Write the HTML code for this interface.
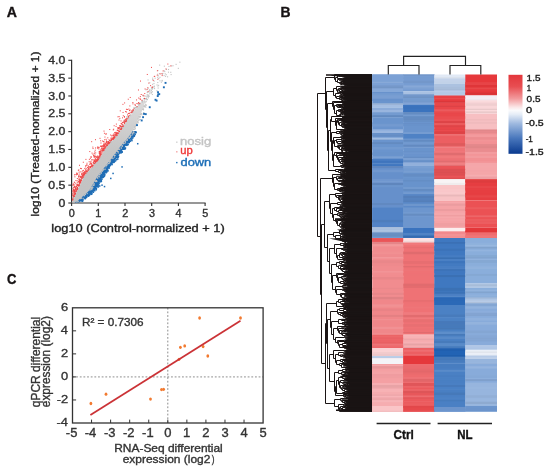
<!DOCTYPE html>
<html><head><meta charset="utf-8"><style>
html,body{margin:0;padding:0;background:#fff;}
body{width:550px;height:473px;overflow:hidden;}
svg{display:block;filter:blur(0.3px);}
text{font-family:"Liberation Sans",sans-serif;stroke-width:0.35px;paint-order:stroke;}
</style></head><body>
<svg width="550" height="473" viewBox="0 0 550 473">
<rect width="550" height="473" fill="#fff"/>
<text x="6.66" y="16.50" font-size="14" fill="#151112" stroke="#151112" font-weight="bold" textLength="10.21" lengthAdjust="spacingAndGlyphs" >A</text>
<text x="280.58" y="16.60" font-size="14" fill="#151112" stroke="#151112" font-weight="bold" textLength="10.05" lengthAdjust="spacingAndGlyphs" >B</text>
<text x="7.07" y="283.50" font-size="14" fill="#151112" stroke="#151112" font-weight="bold" textLength="9.39" lengthAdjust="spacingAndGlyphs" >C</text>
<path d="M71.6 59.8V203.0" stroke="#303030" stroke-width="1.2" fill="none"/>
<path d="M68.3 203.00H71.6" stroke="#303030" stroke-width="1.1"/>
<text x="58.53" y="206.60" font-size="10.6" fill="#303030" stroke="#303030" textLength="6.84" lengthAdjust="spacingAndGlyphs" >0</text>
<path d="M68.3 185.16H71.6" stroke="#303030" stroke-width="1.1"/>
<text x="48.31" y="188.76" font-size="10.6" fill="#303030" stroke="#303030" textLength="17.09" lengthAdjust="spacingAndGlyphs" >0.5</text>
<path d="M68.3 167.32H71.6" stroke="#303030" stroke-width="1.1"/>
<text x="48.28" y="170.92" font-size="10.6" fill="#303030" stroke="#303030" textLength="17.09" lengthAdjust="spacingAndGlyphs" >1.0</text>
<path d="M68.3 149.49H71.6" stroke="#303030" stroke-width="1.1"/>
<text x="48.31" y="153.09" font-size="10.6" fill="#303030" stroke="#303030" textLength="17.09" lengthAdjust="spacingAndGlyphs" >1.5</text>
<path d="M68.3 131.65H71.6" stroke="#303030" stroke-width="1.1"/>
<text x="48.28" y="135.25" font-size="10.6" fill="#303030" stroke="#303030" textLength="17.09" lengthAdjust="spacingAndGlyphs" >2.0</text>
<path d="M68.3 113.81H71.6" stroke="#303030" stroke-width="1.1"/>
<text x="48.31" y="117.41" font-size="10.6" fill="#303030" stroke="#303030" textLength="17.09" lengthAdjust="spacingAndGlyphs" >2.5</text>
<path d="M68.3 95.98H71.6" stroke="#303030" stroke-width="1.1"/>
<text x="48.28" y="99.58" font-size="10.6" fill="#303030" stroke="#303030" textLength="17.09" lengthAdjust="spacingAndGlyphs" >3.0</text>
<path d="M68.3 78.14H71.6" stroke="#303030" stroke-width="1.1"/>
<text x="48.31" y="81.74" font-size="10.6" fill="#303030" stroke="#303030" textLength="17.09" lengthAdjust="spacingAndGlyphs" >3.5</text>
<path d="M68.3 60.30H71.6" stroke="#303030" stroke-width="1.1"/>
<text x="48.28" y="63.90" font-size="10.6" fill="#303030" stroke="#303030" textLength="17.09" lengthAdjust="spacingAndGlyphs" >4.0</text>
<path d="M71.0 203.0H205.6" stroke="#303030" stroke-width="1.2" fill="none"/>
<path d="M71.60 203.0V206.0" stroke="#303030" stroke-width="1.1"/>
<text x="68.79" y="216.90" font-size="10.3" fill="#303030" stroke="#303030" textLength="6.01" lengthAdjust="spacingAndGlyphs" >0</text>
<path d="M98.30 203.0V206.0" stroke="#303030" stroke-width="1.1"/>
<text x="95.34" y="216.90" font-size="10.3" fill="#303030" stroke="#303030" textLength="6.01" lengthAdjust="spacingAndGlyphs" >1</text>
<path d="M125.00 203.0V206.0" stroke="#303030" stroke-width="1.1"/>
<text x="122.19" y="216.90" font-size="10.3" fill="#303030" stroke="#303030" textLength="6.01" lengthAdjust="spacingAndGlyphs" >2</text>
<path d="M151.70 203.0V206.0" stroke="#303030" stroke-width="1.1"/>
<text x="148.92" y="216.90" font-size="10.3" fill="#303030" stroke="#303030" textLength="6.01" lengthAdjust="spacingAndGlyphs" >3</text>
<path d="M178.40 203.0V206.0" stroke="#303030" stroke-width="1.1"/>
<text x="175.63" y="216.90" font-size="10.3" fill="#303030" stroke="#303030" textLength="6.01" lengthAdjust="spacingAndGlyphs" >4</text>
<path d="M205.10 203.0V206.0" stroke="#303030" stroke-width="1.1"/>
<text x="202.30" y="216.90" font-size="10.3" fill="#303030" stroke="#303030" textLength="6.01" lengthAdjust="spacingAndGlyphs" >5</text>
<text x="51.34" y="232.40" font-size="11" fill="#222" stroke="#222" textLength="173.36" lengthAdjust="spacingAndGlyphs" >log10 (Control-normalized + 1)</text>
<text transform="translate(39.30,215.60) rotate(-90)" x="-0.81" y="0" font-size="10.6" fill="#222" stroke="#222" textLength="164.95" lengthAdjust="spacingAndGlyphs" >log10 (Treated-normalized + 1)</text>
<defs><linearGradient id="gg" gradientUnits="userSpaceOnUse" x1="0" y1="203" x2="0" y2="93"><stop offset="0" stop-color="#c2c2c2"/><stop offset="0.5" stop-color="#c6c6c6"/><stop offset="1" stop-color="#dedede"/></linearGradient></defs>
<polygon points="145.7,98.0 143.7,100.6 141.1,103.2 138.6,105.8 136.1,108.5 133.8,111.1 131.9,113.7 130.0,116.3 128.1,118.9 126.4,121.5 124.8,124.2 123.2,126.8 121.6,129.4 120.0,132.0 118.1,134.6 115.6,137.2 113.2,139.8 110.7,142.5 108.3,145.1 105.9,147.7 104.3,150.3 102.8,152.9 101.3,155.5 99.7,158.1 98.0,160.8 95.6,163.4 93.2,166.0 90.8,168.6 88.4,171.2 85.9,173.8 84.0,176.4 82.8,179.1 81.5,181.7 80.3,184.3 79.1,186.9 77.9,189.5 76.7,192.1 75.6,194.8 74.5,197.4 73.3,200.0 71.4,202.6 74.7,202.6 78.9,200.0 81.8,197.4 84.8,194.8 87.7,192.1 90.0,189.5 91.6,186.9 93.2,184.3 94.7,181.7 96.3,179.1 97.9,176.4 99.7,173.8 101.8,171.2 103.9,168.6 105.9,166.0 108.0,163.4 110.1,160.8 112.0,158.1 114.0,155.5 115.9,152.9 117.9,150.3 119.9,147.7 122.0,145.1 124.2,142.5 126.4,139.8 128.5,137.2 130.7,134.6 132.3,132.0 133.4,129.4 134.6,126.8 135.7,124.2 136.9,121.5 138.0,118.9 139.4,116.3 140.7,113.7 142.0,111.1 143.0,108.5 143.8,105.8 144.5,103.2 145.2,100.6 146.5,98.0" fill="url(#gg)"/>
<polygon points="132.4,131.0 131.6,132.8 130.4,134.6 128.9,136.4 127.5,138.2 126.0,139.9 124.5,141.7 123.0,143.5 121.5,145.3 120.0,147.1 118.7,148.9 117.3,150.7 116.0,152.5 114.6,154.3 113.3,156.1 112.0,157.8 110.6,159.6 109.2,161.4 107.8,163.2 106.4,165.0 105.0,166.8 103.6,168.6 102.2,170.4 100.7,172.2 99.3,174.0 98.0,175.8 96.9,177.5 95.8,179.3 94.8,181.1 93.7,182.9 92.6,184.7 91.5,186.5 90.5,188.3 89.4,190.1 87.7,191.9 85.7,193.7 83.7,195.4 81.7,197.2 79.7,199.0 77.7,200.8 74.4,202.6 78.8,202.6 82.2,200.8 84.5,199.0 86.7,197.2 88.9,195.4 91.1,193.7 93.3,191.9 95.2,190.1 96.2,188.3 97.2,186.5 98.3,184.7 99.3,182.9 100.3,181.1 101.4,179.3 102.4,177.5 103.4,175.8 104.7,174.0 106.1,172.2 107.5,170.4 108.8,168.6 110.2,166.8 111.6,165.0 112.9,163.2 114.3,161.4 115.7,159.6 117.0,157.8 118.2,156.1 119.5,154.3 120.8,152.5 122.1,150.7 123.4,148.9 124.8,147.1 126.2,145.3 127.6,143.5 129.1,141.7 130.5,139.9 132.0,138.2 133.4,136.4 134.9,134.6 136.0,132.8 136.7,131.0" fill="#1f6db5"/>
<rect x="136.90" y="124.78" width="1.10" height="1.10" fill="#c3c3c3"/><rect x="153.97" y="88.04" width="1.10" height="1.10" fill="#c3c3c3"/><rect x="120.71" y="128.06" width="1.10" height="1.10" fill="#c3c3c3"/><rect x="165.68" y="74.14" width="1.10" height="1.10" fill="#c3c3c3"/><rect x="97.62" y="158.53" width="1.10" height="1.10" fill="#c3c3c3"/><rect x="122.83" y="124.87" width="1.10" height="1.10" fill="#c3c3c3"/><rect x="103.70" y="148.69" width="1.10" height="1.10" fill="#c3c3c3"/><rect x="147.55" y="95.32" width="1.10" height="1.10" fill="#c3c3c3"/><rect x="134.60" y="126.40" width="1.10" height="1.10" fill="#c3c3c3"/><rect x="146.63" y="94.16" width="1.10" height="1.10" fill="#c3c3c3"/><rect x="112.37" y="138.63" width="1.10" height="1.10" fill="#c3c3c3"/><rect x="109.32" y="160.54" width="1.10" height="1.10" fill="#c3c3c3"/><rect x="163.81" y="65.62" width="1.10" height="1.10" fill="#c3c3c3"/><rect x="175.57" y="63.81" width="1.10" height="1.10" fill="#c3c3c3"/><rect x="150.54" y="91.34" width="1.10" height="1.10" fill="#c3c3c3"/><rect x="109.30" y="160.70" width="1.10" height="1.10" fill="#c3c3c3"/><rect x="157.24" y="73.65" width="1.10" height="1.10" fill="#c3c3c3"/><rect x="72.83" y="196.42" width="1.10" height="1.10" fill="#c3c3c3"/><rect x="119.87" y="129.61" width="1.10" height="1.10" fill="#c3c3c3"/><rect x="93.77" y="163.92" width="1.10" height="1.10" fill="#c3c3c3"/><rect x="137.64" y="120.14" width="1.10" height="1.10" fill="#c3c3c3"/><rect x="151.89" y="91.25" width="1.10" height="1.10" fill="#c3c3c3"/><rect x="80.90" y="197.38" width="1.10" height="1.10" fill="#c3c3c3"/><rect x="152.13" y="87.67" width="1.10" height="1.10" fill="#c3c3c3"/><rect x="105.94" y="145.73" width="1.10" height="1.10" fill="#c3c3c3"/><rect x="124.32" y="123.27" width="1.10" height="1.10" fill="#c3c3c3"/><rect x="102.65" y="169.63" width="1.10" height="1.10" fill="#c3c3c3"/><rect x="102.38" y="150.57" width="1.10" height="1.10" fill="#c3c3c3"/><rect x="135.29" y="124.90" width="1.10" height="1.10" fill="#c3c3c3"/><rect x="81.97" y="177.98" width="1.10" height="1.10" fill="#c3c3c3"/><rect x="153.42" y="83.03" width="1.10" height="1.10" fill="#c3c3c3"/><rect x="83.33" y="175.94" width="1.10" height="1.10" fill="#c3c3c3"/><rect x="103.24" y="149.51" width="1.10" height="1.10" fill="#c3c3c3"/><rect x="112.67" y="157.63" width="1.10" height="1.10" fill="#c3c3c3"/><rect x="125.12" y="120.45" width="1.10" height="1.10" fill="#c3c3c3"/><rect x="157.19" y="76.72" width="1.10" height="1.10" fill="#c3c3c3"/><rect x="138.63" y="116.28" width="1.10" height="1.10" fill="#c3c3c3"/><rect x="97.00" y="176.77" width="1.10" height="1.10" fill="#c3c3c3"/><rect x="94.79" y="162.30" width="1.10" height="1.10" fill="#c3c3c3"/><rect x="152.06" y="79.15" width="1.10" height="1.10" fill="#c3c3c3"/><rect x="75.92" y="189.54" width="1.10" height="1.10" fill="#c3c3c3"/><rect x="147.41" y="96.32" width="1.10" height="1.10" fill="#c3c3c3"/><rect x="141.76" y="100.92" width="1.10" height="1.10" fill="#c3c3c3"/><rect x="135.14" y="124.50" width="1.10" height="1.10" fill="#c3c3c3"/><rect x="99.33" y="153.42" width="1.10" height="1.10" fill="#c3c3c3"/><rect x="134.72" y="127.92" width="1.10" height="1.10" fill="#c3c3c3"/><rect x="96.30" y="159.59" width="1.10" height="1.10" fill="#c3c3c3"/><rect x="133.03" y="128.96" width="1.10" height="1.10" fill="#c3c3c3"/><rect x="135.89" y="106.10" width="1.10" height="1.10" fill="#c3c3c3"/><rect x="92.68" y="164.63" width="1.10" height="1.10" fill="#c3c3c3"/><rect x="100.89" y="172.51" width="1.10" height="1.10" fill="#c3c3c3"/><rect x="91.77" y="187.57" width="1.10" height="1.10" fill="#c3c3c3"/><rect x="74.24" y="193.64" width="1.10" height="1.10" fill="#c3c3c3"/><rect x="119.14" y="148.94" width="1.10" height="1.10" fill="#c3c3c3"/><rect x="129.93" y="114.53" width="1.10" height="1.10" fill="#c3c3c3"/><rect x="116.76" y="150.97" width="1.10" height="1.10" fill="#c3c3c3"/><rect x="93.57" y="184.62" width="1.10" height="1.10" fill="#c3c3c3"/><rect x="124.17" y="142.78" width="1.10" height="1.10" fill="#c3c3c3"/><rect x="121.26" y="126.22" width="1.10" height="1.10" fill="#c3c3c3"/><rect x="138.22" y="104.88" width="1.10" height="1.10" fill="#c3c3c3"/><rect x="120.55" y="128.78" width="1.10" height="1.10" fill="#c3c3c3"/><rect x="101.43" y="170.64" width="1.10" height="1.10" fill="#c3c3c3"/><rect x="147.80" y="97.27" width="1.10" height="1.10" fill="#c3c3c3"/><rect x="150.86" y="89.81" width="1.10" height="1.10" fill="#c3c3c3"/><rect x="90.78" y="188.25" width="1.10" height="1.10" fill="#c3c3c3"/><rect x="137.63" y="118.12" width="1.10" height="1.10" fill="#c3c3c3"/><rect x="145.45" y="89.24" width="1.10" height="1.10" fill="#c3c3c3"/><rect x="92.95" y="184.69" width="1.10" height="1.10" fill="#c3c3c3"/><rect x="150.87" y="92.19" width="1.10" height="1.10" fill="#c3c3c3"/><rect x="132.83" y="110.55" width="1.10" height="1.10" fill="#c3c3c3"/><rect x="109.12" y="161.02" width="1.10" height="1.10" fill="#c3c3c3"/><rect x="121.41" y="127.44" width="1.10" height="1.10" fill="#c3c3c3"/><rect x="97.18" y="177.78" width="1.10" height="1.10" fill="#c3c3c3"/><rect x="144.14" y="105.60" width="1.10" height="1.10" fill="#c3c3c3"/><rect x="136.75" y="106.30" width="1.10" height="1.10" fill="#c3c3c3"/><rect x="113.99" y="156.41" width="1.10" height="1.10" fill="#c3c3c3"/><rect x="125.03" y="141.33" width="1.10" height="1.10" fill="#c3c3c3"/><rect x="117.53" y="151.19" width="1.10" height="1.10" fill="#c3c3c3"/><rect x="123.24" y="125.13" width="1.10" height="1.10" fill="#c3c3c3"/><rect x="86.98" y="170.55" width="1.10" height="1.10" fill="#c3c3c3"/><rect x="115.37" y="153.16" width="1.10" height="1.10" fill="#c3c3c3"/><rect x="73.99" y="195.63" width="1.10" height="1.10" fill="#c3c3c3"/><rect x="121.45" y="127.56" width="1.10" height="1.10" fill="#c3c3c3"/><rect x="132.88" y="109.85" width="1.10" height="1.10" fill="#c3c3c3"/><rect x="126.47" y="116.54" width="1.10" height="1.10" fill="#c3c3c3"/><rect x="93.80" y="162.58" width="1.10" height="1.10" fill="#c3c3c3"/><rect x="121.87" y="124.52" width="1.10" height="1.10" fill="#c3c3c3"/><rect x="141.48" y="114.20" width="1.10" height="1.10" fill="#c3c3c3"/><rect x="120.64" y="126.37" width="1.10" height="1.10" fill="#c3c3c3"/><rect x="84.06" y="173.21" width="1.10" height="1.10" fill="#c3c3c3"/><rect x="156.85" y="91.31" width="1.10" height="1.10" fill="#c3c3c3"/><rect x="130.01" y="136.62" width="1.10" height="1.10" fill="#c3c3c3"/><rect x="144.44" y="98.11" width="1.10" height="1.10" fill="#c3c3c3"/><rect x="135.77" y="123.18" width="1.10" height="1.10" fill="#c3c3c3"/><rect x="103.30" y="169.00" width="1.10" height="1.10" fill="#c3c3c3"/><rect x="93.51" y="182.91" width="1.10" height="1.10" fill="#c3c3c3"/><rect x="83.47" y="173.43" width="1.10" height="1.10" fill="#c3c3c3"/><rect x="89.40" y="189.69" width="1.10" height="1.10" fill="#c3c3c3"/><rect x="149.21" y="82.26" width="1.10" height="1.10" fill="#c3c3c3"/><rect x="111.41" y="157.96" width="1.10" height="1.10" fill="#c3c3c3"/><rect x="109.56" y="142.50" width="1.10" height="1.10" fill="#c3c3c3"/><rect x="110.99" y="139.68" width="1.10" height="1.10" fill="#c3c3c3"/><rect x="130.12" y="134.64" width="1.10" height="1.10" fill="#c3c3c3"/><rect x="80.54" y="179.79" width="1.10" height="1.10" fill="#c3c3c3"/><rect x="137.73" y="104.07" width="1.10" height="1.10" fill="#c3c3c3"/><rect x="110.12" y="141.67" width="1.10" height="1.10" fill="#c3c3c3"/><rect x="125.48" y="119.00" width="1.10" height="1.10" fill="#c3c3c3"/><rect x="171.08" y="65.34" width="1.10" height="1.10" fill="#c3c3c3"/><rect x="133.95" y="133.69" width="1.10" height="1.10" fill="#c3c3c3"/><rect x="158.06" y="84.80" width="1.10" height="1.10" fill="#c3c3c3"/><rect x="99.57" y="173.51" width="1.10" height="1.10" fill="#c3c3c3"/><rect x="146.06" y="99.14" width="1.10" height="1.10" fill="#c3c3c3"/><rect x="90.35" y="187.58" width="1.10" height="1.10" fill="#c3c3c3"/><rect x="116.12" y="134.95" width="1.10" height="1.10" fill="#c3c3c3"/><rect x="74.84" y="190.99" width="1.10" height="1.10" fill="#c3c3c3"/><rect x="97.18" y="159.74" width="1.10" height="1.10" fill="#c3c3c3"/><rect x="94.68" y="162.75" width="1.10" height="1.10" fill="#c3c3c3"/><rect x="93.76" y="163.78" width="1.10" height="1.10" fill="#c3c3c3"/><rect x="94.80" y="180.72" width="1.10" height="1.10" fill="#c3c3c3"/><rect x="77.59" y="184.47" width="1.10" height="1.10" fill="#c3c3c3"/><rect x="140.45" y="114.05" width="1.10" height="1.10" fill="#c3c3c3"/><rect x="113.51" y="136.80" width="1.10" height="1.10" fill="#c3c3c3"/><rect x="115.89" y="135.60" width="1.10" height="1.10" fill="#c3c3c3"/><rect x="81.96" y="174.92" width="1.10" height="1.10" fill="#c3c3c3"/><rect x="143.73" y="105.67" width="1.10" height="1.10" fill="#c3c3c3"/><rect x="87.53" y="170.41" width="1.10" height="1.10" fill="#c3c3c3"/><rect x="78.35" y="185.71" width="1.10" height="1.10" fill="#c3c3c3"/><rect x="161.84" y="73.79" width="1.10" height="1.10" fill="#c3c3c3"/><rect x="137.55" y="122.32" width="1.10" height="1.10" fill="#c3c3c3"/><rect x="149.43" y="89.54" width="1.10" height="1.10" fill="#c3c3c3"/><rect x="84.84" y="173.29" width="1.10" height="1.10" fill="#c3c3c3"/><rect x="91.15" y="189.04" width="1.10" height="1.10" fill="#c3c3c3"/><rect x="152.11" y="77.61" width="1.10" height="1.10" fill="#c3c3c3"/><rect x="99.18" y="157.45" width="1.10" height="1.10" fill="#c3c3c3"/><rect x="99.00" y="173.85" width="1.10" height="1.10" fill="#c3c3c3"/><rect x="126.52" y="138.68" width="1.10" height="1.10" fill="#c3c3c3"/><rect x="157.23" y="81.97" width="1.10" height="1.10" fill="#c3c3c3"/><rect x="108.24" y="142.62" width="1.10" height="1.10" fill="#c3c3c3"/><rect x="103.36" y="168.51" width="1.10" height="1.10" fill="#c3c3c3"/><rect x="139.88" y="116.17" width="1.10" height="1.10" fill="#c3c3c3"/><rect x="106.61" y="145.58" width="1.10" height="1.10" fill="#c3c3c3"/><rect x="103.10" y="150.21" width="1.10" height="1.10" fill="#c3c3c3"/><rect x="135.18" y="125.00" width="1.10" height="1.10" fill="#c3c3c3"/><rect x="127.22" y="118.19" width="1.10" height="1.10" fill="#c3c3c3"/><rect x="100.23" y="172.38" width="1.10" height="1.10" fill="#c3c3c3"/><rect x="91.65" y="186.50" width="1.10" height="1.10" fill="#c3c3c3"/><rect x="122.82" y="143.30" width="1.10" height="1.10" fill="#c3c3c3"/><rect x="98.63" y="174.12" width="1.10" height="1.10" fill="#c3c3c3"/><rect x="92.01" y="165.47" width="1.10" height="1.10" fill="#c3c3c3"/><rect x="98.28" y="175.50" width="1.10" height="1.10" fill="#c3c3c3"/><rect x="128.60" y="136.89" width="1.10" height="1.10" fill="#c3c3c3"/><rect x="87.87" y="168.87" width="1.10" height="1.10" fill="#c3c3c3"/><rect x="119.36" y="127.09" width="1.10" height="1.10" fill="#c3c3c3"/><rect x="75.47" y="187.83" width="1.10" height="1.10" fill="#c3c3c3"/><rect x="151.82" y="93.95" width="1.10" height="1.10" fill="#c3c3c3"/><rect x="100.79" y="153.82" width="1.10" height="1.10" fill="#c3c3c3"/><rect x="129.88" y="136.08" width="1.10" height="1.10" fill="#c3c3c3"/><rect x="149.29" y="91.30" width="1.10" height="1.10" fill="#c3c3c3"/><rect x="128.22" y="116.80" width="1.10" height="1.10" fill="#c3c3c3"/><rect x="148.22" y="94.63" width="1.10" height="1.10" fill="#c3c3c3"/><rect x="118.97" y="132.12" width="1.10" height="1.10" fill="#c3c3c3"/><rect x="145.95" y="97.65" width="1.10" height="1.10" fill="#c3c3c3"/><rect x="91.42" y="188.24" width="1.10" height="1.10" fill="#c3c3c3"/><rect x="76.83" y="200.76" width="1.10" height="1.10" fill="#c3c3c3"/><rect x="82.31" y="174.78" width="1.10" height="1.10" fill="#c3c3c3"/><rect x="83.65" y="195.20" width="1.10" height="1.10" fill="#c3c3c3"/><rect x="73.71" y="191.67" width="1.10" height="1.10" fill="#c3c3c3"/><rect x="78.85" y="181.24" width="1.10" height="1.10" fill="#c3c3c3"/><rect x="137.35" y="121.59" width="1.10" height="1.10" fill="#c3c3c3"/><rect x="121.65" y="145.15" width="1.10" height="1.10" fill="#c3c3c3"/><rect x="129.66" y="135.71" width="1.10" height="1.10" fill="#c3c3c3"/><rect x="145.63" y="101.14" width="1.10" height="1.10" fill="#c3c3c3"/><rect x="172.47" y="65.21" width="1.10" height="1.10" fill="#c3c3c3"/><rect x="138.92" y="118.68" width="1.10" height="1.10" fill="#c3c3c3"/><rect x="165.94" y="68.84" width="1.10" height="1.10" fill="#c3c3c3"/><rect x="108.67" y="162.68" width="1.10" height="1.10" fill="#c3c3c3"/><rect x="170.22" y="71.74" width="1.10" height="1.10" fill="#c3c3c3"/><rect x="72.83" y="197.69" width="1.10" height="1.10" fill="#c3c3c3"/><rect x="177.78" y="67.81" width="1.10" height="1.10" fill="#c3c3c3"/><rect x="160.80" y="81.66" width="1.10" height="1.10" fill="#c3c3c3"/><rect x="146.38" y="95.78" width="1.10" height="1.10" fill="#c3c3c3"/><rect x="158.26" y="77.97" width="1.10" height="1.10" fill="#c3c3c3"/><rect x="131.70" y="111.39" width="1.10" height="1.10" fill="#c3c3c3"/><rect x="114.38" y="154.95" width="1.10" height="1.10" fill="#c3c3c3"/><rect x="121.87" y="145.60" width="1.10" height="1.10" fill="#c3c3c3"/><rect x="82.12" y="175.57" width="1.10" height="1.10" fill="#c3c3c3"/><rect x="74.72" y="194.82" width="1.10" height="1.10" fill="#c3c3c3"/><rect x="91.58" y="186.43" width="1.10" height="1.10" fill="#c3c3c3"/><rect x="141.98" y="99.92" width="1.10" height="1.10" fill="#c3c3c3"/><rect x="147.49" y="88.02" width="1.10" height="1.10" fill="#c3c3c3"/><rect x="72.90" y="198.61" width="1.10" height="1.10" fill="#c3c3c3"/><rect x="124.70" y="120.98" width="1.10" height="1.10" fill="#c3c3c3"/><rect x="99.24" y="156.13" width="1.10" height="1.10" fill="#c3c3c3"/><rect x="120.47" y="128.45" width="1.10" height="1.10" fill="#c3c3c3"/><rect x="142.30" y="108.81" width="1.10" height="1.10" fill="#c3c3c3"/><rect x="82.19" y="174.74" width="1.10" height="1.10" fill="#c3c3c3"/><rect x="128.51" y="116.07" width="1.10" height="1.10" fill="#c3c3c3"/><rect x="140.69" y="113.10" width="1.10" height="1.10" fill="#c3c3c3"/><rect x="80.93" y="177.11" width="1.10" height="1.10" fill="#c3c3c3"/><rect x="137.35" y="121.32" width="1.10" height="1.10" fill="#c3c3c3"/><rect x="135.89" y="106.83" width="1.10" height="1.10" fill="#c3c3c3"/><rect x="136.45" y="121.93" width="1.10" height="1.10" fill="#c3c3c3"/><rect x="81.83" y="176.74" width="1.10" height="1.10" fill="#c3c3c3"/><rect x="145.33" y="103.98" width="1.10" height="1.10" fill="#c3c3c3"/><rect x="141.83" y="101.06" width="1.10" height="1.10" fill="#c3c3c3"/><rect x="134.42" y="107.24" width="1.10" height="1.10" fill="#c3c3c3"/><rect x="145.29" y="106.59" width="1.10" height="1.10" fill="#c3c3c3"/><rect x="86.65" y="193.04" width="1.10" height="1.10" fill="#c3c3c3"/><rect x="136.36" y="122.77" width="1.10" height="1.10" fill="#c3c3c3"/><rect x="73.64" y="196.94" width="1.10" height="1.10" fill="#c3c3c3"/><rect x="164.65" y="73.25" width="1.10" height="1.10" fill="#c3c3c3"/><rect x="108.62" y="143.32" width="1.10" height="1.10" fill="#c3c3c3"/><rect x="106.25" y="164.89" width="1.10" height="1.10" fill="#c3c3c3"/><rect x="80.78" y="178.54" width="1.10" height="1.10" fill="#c3c3c3"/><rect x="153.62" y="86.17" width="1.10" height="1.10" fill="#c3c3c3"/><rect x="159.12" y="64.56" width="1.10" height="1.10" fill="#c3c3c3"/><rect x="128.90" y="137.63" width="1.10" height="1.10" fill="#c3c3c3"/><rect x="84.32" y="174.05" width="1.10" height="1.10" fill="#c3c3c3"/><rect x="122.91" y="142.92" width="1.10" height="1.10" fill="#c3c3c3"/><rect x="162.32" y="72.88" width="1.10" height="1.10" fill="#c3c3c3"/><rect x="76.36" y="187.32" width="1.10" height="1.10" fill="#c3c3c3"/><rect x="163.56" y="75.09" width="1.10" height="1.10" fill="#c3c3c3"/><rect x="123.56" y="120.54" width="1.10" height="1.10" fill="#c3c3c3"/><rect x="142.41" y="108.79" width="1.10" height="1.10" fill="#c3c3c3"/><rect x="138.74" y="116.66" width="1.10" height="1.10" fill="#c3c3c3"/><rect x="153.57" y="80.59" width="1.10" height="1.10" fill="#c3c3c3"/><rect x="83.93" y="174.12" width="1.10" height="1.10" fill="#c3c3c3"/><rect x="139.81" y="118.93" width="1.10" height="1.10" fill="#c3c3c3"/><rect x="95.55" y="180.94" width="1.10" height="1.10" fill="#c3c3c3"/><rect x="72.28" y="195.54" width="1.10" height="1.10" fill="#c3c3c3"/><rect x="116.46" y="134.79" width="1.10" height="1.10" fill="#c3c3c3"/><rect x="125.12" y="120.31" width="1.10" height="1.10" fill="#c3c3c3"/><rect x="148.56" y="95.85" width="1.10" height="1.10" fill="#c3c3c3"/><rect x="144.37" y="106.37" width="1.10" height="1.10" fill="#c3c3c3"/><rect x="136.73" y="120.94" width="1.10" height="1.10" fill="#c3c3c3"/><rect x="119.46" y="127.45" width="1.10" height="1.10" fill="#c3c3c3"/><rect x="139.17" y="103.94" width="1.10" height="1.10" fill="#c3c3c3"/><rect x="163.54" y="70.18" width="1.10" height="1.10" fill="#c3c3c3"/><rect x="108.65" y="143.22" width="1.10" height="1.10" fill="#c3c3c3"/><rect x="131.61" y="111.75" width="1.10" height="1.10" fill="#c3c3c3"/><rect x="121.40" y="145.45" width="1.10" height="1.10" fill="#c3c3c3"/><rect x="150.92" y="87.35" width="1.10" height="1.10" fill="#c3c3c3"/><rect x="153.73" y="85.60" width="1.10" height="1.10" fill="#c3c3c3"/><rect x="98.39" y="175.85" width="1.10" height="1.10" fill="#c3c3c3"/><rect x="96.32" y="180.92" width="1.10" height="1.10" fill="#c3c3c3"/><rect x="132.41" y="109.34" width="1.10" height="1.10" fill="#c3c3c3"/><rect x="120.29" y="129.02" width="1.10" height="1.10" fill="#c3c3c3"/><rect x="159.39" y="80.25" width="1.10" height="1.10" fill="#c3c3c3"/><rect x="79.96" y="198.09" width="1.10" height="1.10" fill="#c3c3c3"/><rect x="76.05" y="190.85" width="1.10" height="1.10" fill="#c3c3c3"/><rect x="93.42" y="183.82" width="1.10" height="1.10" fill="#c3c3c3"/><rect x="125.94" y="120.45" width="1.10" height="1.10" fill="#c3c3c3"/><rect x="138.53" y="119.66" width="1.10" height="1.10" fill="#c3c3c3"/><rect x="81.88" y="174.85" width="1.10" height="1.10" fill="#c3c3c3"/><rect x="117.09" y="150.63" width="1.10" height="1.10" fill="#c3c3c3"/><rect x="110.52" y="141.51" width="1.10" height="1.10" fill="#c3c3c3"/><rect x="179.32" y="61.64" width="1.10" height="1.10" fill="#c3c3c3"/><rect x="94.58" y="161.76" width="1.10" height="1.10" fill="#c3c3c3"/><rect x="159.17" y="73.05" width="1.10" height="1.10" fill="#c3c3c3"/><rect x="128.05" y="137.53" width="1.10" height="1.10" fill="#c3c3c3"/><rect x="151.85" y="88.48" width="1.10" height="1.10" fill="#c3c3c3"/><rect x="101.50" y="170.85" width="1.10" height="1.10" fill="#c3c3c3"/><rect x="115.18" y="135.04" width="1.10" height="1.10" fill="#c3c3c3"/><rect x="84.97" y="193.97" width="1.10" height="1.10" fill="#c3c3c3"/><rect x="126.89" y="139.34" width="1.10" height="1.10" fill="#c3c3c3"/><rect x="99.62" y="154.85" width="1.10" height="1.10" fill="#c3c3c3"/><rect x="167.01" y="76.26" width="1.10" height="1.10" fill="#c3c3c3"/><rect x="122.66" y="126.10" width="1.10" height="1.10" fill="#c3c3c3"/><rect x="139.75" y="114.25" width="1.10" height="1.10" fill="#c3c3c3"/><rect x="77.63" y="187.66" width="1.10" height="1.10" fill="#c3c3c3"/><rect x="128.83" y="137.02" width="1.10" height="1.10" fill="#c3c3c3"/><rect x="83.78" y="195.02" width="1.10" height="1.10" fill="#c3c3c3"/><rect x="151.49" y="87.86" width="1.10" height="1.10" fill="#c3c3c3"/><rect x="159.39" y="76.79" width="1.10" height="1.10" fill="#c3c3c3"/><rect x="117.24" y="151.10" width="1.10" height="1.10" fill="#c3c3c3"/><rect x="81.50" y="177.21" width="1.10" height="1.10" fill="#c3c3c3"/><rect x="161.65" y="79.85" width="1.10" height="1.10" fill="#c3c3c3"/><rect x="153.28" y="86.54" width="1.10" height="1.10" fill="#c3c3c3"/><rect x="97.32" y="160.00" width="1.10" height="1.10" fill="#c3c3c3"/><rect x="149.18" y="93.17" width="1.10" height="1.10" fill="#c3c3c3"/><rect x="167.93" y="71.63" width="1.10" height="1.10" fill="#c3c3c3"/><rect x="124.51" y="121.23" width="1.10" height="1.10" fill="#c3c3c3"/><rect x="98.65" y="176.41" width="1.10" height="1.10" fill="#c3c3c3"/><rect x="134.16" y="129.03" width="1.10" height="1.10" fill="#c3c3c3"/><rect x="120.55" y="147.28" width="1.10" height="1.10" fill="#c3c3c3"/><rect x="72.14" y="198.92" width="1.10" height="1.10" fill="#c3c3c3"/><rect x="142.98" y="109.36" width="1.10" height="1.10" fill="#c3c3c3"/><rect x="131.85" y="132.76" width="1.10" height="1.10" fill="#c3c3c3"/><rect x="82.91" y="176.98" width="1.10" height="1.10" fill="#c3c3c3"/><rect x="138.49" y="103.24" width="1.10" height="1.10" fill="#c3c3c3"/><rect x="132.33" y="110.81" width="1.10" height="1.10" fill="#c3c3c3"/><rect x="75.54" y="192.14" width="1.10" height="1.10" fill="#c3c3c3"/><rect x="110.59" y="140.88" width="1.10" height="1.10" fill="#c3c3c3"/><rect x="124.75" y="142.16" width="1.10" height="1.10" fill="#c3c3c3"/><rect x="143.15" y="112.02" width="1.10" height="1.10" fill="#c3c3c3"/><rect x="92.44" y="185.07" width="1.10" height="1.10" fill="#c3c3c3"/><rect x="77.65" y="188.02" width="1.10" height="1.10" fill="#c3c3c3"/><rect x="126.28" y="139.90" width="1.10" height="1.10" fill="#c3c3c3"/><rect x="92.36" y="187.02" width="1.10" height="1.10" fill="#c3c3c3"/><rect x="106.56" y="145.66" width="1.10" height="1.10" fill="#c3c3c3"/><rect x="111.71" y="157.36" width="1.10" height="1.10" fill="#c3c3c3"/><rect x="142.35" y="95.17" width="1.10" height="1.10" fill="#c3c3c3"/><rect x="112.70" y="138.15" width="1.10" height="1.10" fill="#c3c3c3"/><rect x="136.03" y="125.06" width="1.10" height="1.10" fill="#c3c3c3"/><rect x="72.35" y="192.97" width="1.10" height="1.10" fill="#c3c3c3"/><rect x="144.74" y="104.52" width="1.10" height="1.10" fill="#c3c3c3"/><rect x="88.83" y="168.32" width="1.10" height="1.10" fill="#c3c3c3"/><rect x="149.11" y="89.38" width="1.10" height="1.10" fill="#c3c3c3"/><rect x="110.73" y="141.18" width="1.10" height="1.10" fill="#c3c3c3"/><rect x="134.79" y="108.52" width="1.10" height="1.10" fill="#c3c3c3"/><rect x="133.92" y="107.94" width="1.10" height="1.10" fill="#c3c3c3"/><rect x="94.19" y="162.48" width="1.10" height="1.10" fill="#c3c3c3"/><rect x="165.01" y="75.80" width="1.10" height="1.10" fill="#c3c3c3"/><rect x="90.67" y="186.99" width="1.10" height="1.10" fill="#c3c3c3"/><rect x="78.02" y="200.70" width="1.10" height="1.10" fill="#c3c3c3"/><rect x="80.57" y="176.97" width="1.10" height="1.10" fill="#c3c3c3"/><rect x="130.36" y="135.09" width="1.10" height="1.10" fill="#c3c3c3"/><rect x="126.14" y="120.30" width="1.10" height="1.10" fill="#c3c3c3"/><rect x="107.64" y="163.03" width="1.10" height="1.10" fill="#c3c3c3"/><rect x="106.58" y="163.93" width="1.10" height="1.10" fill="#c3c3c3"/><rect x="106.70" y="144.53" width="1.10" height="1.10" fill="#c3c3c3"/><rect x="147.81" y="95.66" width="1.10" height="1.10" fill="#c3c3c3"/><rect x="81.15" y="197.61" width="1.10" height="1.10" fill="#c3c3c3"/><rect x="96.80" y="158.74" width="1.10" height="1.10" fill="#c3c3c3"/><rect x="75.01" y="193.08" width="1.10" height="1.10" fill="#c3c3c3"/><rect x="76.29" y="201.35" width="1.10" height="1.10" fill="#c3c3c3"/><rect x="83.63" y="174.19" width="1.10" height="1.10" fill="#c3c3c3"/><rect x="117.76" y="152.38" width="1.10" height="1.10" fill="#c3c3c3"/><rect x="157.86" y="75.25" width="1.10" height="1.10" fill="#c3c3c3"/><rect x="145.17" y="95.60" width="1.10" height="1.10" fill="#c3c3c3"/><rect x="135.23" y="106.92" width="1.10" height="1.10" fill="#c3c3c3"/><rect x="115.52" y="135.71" width="1.10" height="1.10" fill="#c3c3c3"/><rect x="132.35" y="111.36" width="1.10" height="1.10" fill="#c3c3c3"/><rect x="90.58" y="187.24" width="1.10" height="1.10" fill="#c3c3c3"/><rect x="133.49" y="106.86" width="1.10" height="1.10" fill="#c3c3c3"/><rect x="120.50" y="127.62" width="1.10" height="1.10" fill="#c3c3c3"/><rect x="144.55" y="105.67" width="1.10" height="1.10" fill="#c3c3c3"/><rect x="76.90" y="187.36" width="1.10" height="1.10" fill="#c3c3c3"/><rect x="114.76" y="136.08" width="1.10" height="1.10" fill="#c3c3c3"/><rect x="108.19" y="163.06" width="1.10" height="1.10" fill="#c3c3c3"/><rect x="126.08" y="120.30" width="1.10" height="1.10" fill="#c3c3c3"/><rect x="142.98" y="108.34" width="1.10" height="1.10" fill="#c3c3c3"/><rect x="80.18" y="182.06" width="1.10" height="1.10" fill="#c3c3c3"/><rect x="96.55" y="160.93" width="1.10" height="1.10" fill="#c3c3c3"/><rect x="133.52" y="131.65" width="1.10" height="1.10" fill="#c3c3c3"/><rect x="100.59" y="172.12" width="1.10" height="1.10" fill="#c3c3c3"/><rect x="154.58" y="77.66" width="1.10" height="1.10" fill="#c3c3c3"/><rect x="72.82" y="198.25" width="1.10" height="1.10" fill="#c3c3c3"/><rect x="102.20" y="151.04" width="1.10" height="1.10" fill="#c3c3c3"/><rect x="121.31" y="126.23" width="1.10" height="1.10" fill="#c3c3c3"/><rect x="115.41" y="135.76" width="1.10" height="1.10" fill="#c3c3c3"/><rect x="110.22" y="141.05" width="1.10" height="1.10" fill="#c3c3c3"/><rect x="141.83" y="101.37" width="1.10" height="1.10" fill="#c3c3c3"/><rect x="112.71" y="138.18" width="1.10" height="1.10" fill="#c3c3c3"/><rect x="86.17" y="172.10" width="1.10" height="1.10" fill="#c3c3c3"/><rect x="134.10" y="126.08" width="1.10" height="1.10" fill="#c3c3c3"/><rect x="101.89" y="170.20" width="1.10" height="1.10" fill="#c3c3c3"/><rect x="143.22" y="106.36" width="1.10" height="1.10" fill="#c3c3c3"/><rect x="117.58" y="132.24" width="1.10" height="1.10" fill="#c3c3c3"/><rect x="106.69" y="144.59" width="1.10" height="1.10" fill="#c3c3c3"/><rect x="114.24" y="155.03" width="1.10" height="1.10" fill="#c3c3c3"/><rect x="86.88" y="171.57" width="1.10" height="1.10" fill="#c3c3c3"/><rect x="95.86" y="180.82" width="1.10" height="1.10" fill="#c3c3c3"/><rect x="143.22" y="98.04" width="1.10" height="1.10" fill="#c3c3c3"/><rect x="109.37" y="141.62" width="1.10" height="1.10" fill="#c3c3c3"/><rect x="134.73" y="106.96" width="1.10" height="1.10" fill="#c3c3c3"/><rect x="132.85" y="131.97" width="1.10" height="1.10" fill="#c3c3c3"/><rect x="78.53" y="181.38" width="1.10" height="1.10" fill="#c3c3c3"/><rect x="109.79" y="141.10" width="1.10" height="1.10" fill="#c3c3c3"/><rect x="104.28" y="148.70" width="1.10" height="1.10" fill="#c3c3c3"/><rect x="143.51" y="105.46" width="1.10" height="1.10" fill="#c3c3c3"/><rect x="104.78" y="168.59" width="1.10" height="1.10" fill="#c3c3c3"/><rect x="157.41" y="85.47" width="1.10" height="1.10" fill="#c3c3c3"/><rect x="152.05" y="83.82" width="1.10" height="1.10" fill="#c3c3c3"/><rect x="157.38" y="70.01" width="1.10" height="1.10" fill="#c3c3c3"/><rect x="130.96" y="112.47" width="1.10" height="1.10" fill="#c3c3c3"/><rect x="147.51" y="79.43" width="1.10" height="1.10" fill="#c3c3c3"/><rect x="105.95" y="145.55" width="1.10" height="1.10" fill="#c3c3c3"/><rect x="91.30" y="165.74" width="1.10" height="1.10" fill="#c3c3c3"/><rect x="126.59" y="139.30" width="1.10" height="1.10" fill="#c3c3c3"/><rect x="124.18" y="120.87" width="1.10" height="1.10" fill="#c3c3c3"/><rect x="95.62" y="161.83" width="1.10" height="1.10" fill="#c3c3c3"/><rect x="139.53" y="102.85" width="1.10" height="1.10" fill="#c3c3c3"/><rect x="122.49" y="126.07" width="1.10" height="1.10" fill="#c3c3c3"/><rect x="143.09" y="112.41" width="1.10" height="1.10" fill="#c3c3c3"/><rect x="146.81" y="92.02" width="1.10" height="1.10" fill="#c3c3c3"/><rect x="108.68" y="143.38" width="1.10" height="1.10" fill="#c3c3c3"/><rect x="75.68" y="189.13" width="1.10" height="1.10" fill="#c3c3c3"/><rect x="134.78" y="126.21" width="1.10" height="1.10" fill="#c3c3c3"/><rect x="130.03" y="114.47" width="1.10" height="1.10" fill="#c3c3c3"/><rect x="148.27" y="91.60" width="1.10" height="1.10" fill="#c3c3c3"/><rect x="156.47" y="84.39" width="1.10" height="1.10" fill="#c3c3c3"/><rect x="146.85" y="91.47" width="1.10" height="1.10" fill="#c3c3c3"/><rect x="72.00" y="200.51" width="1.10" height="1.10" fill="#c3c3c3"/><rect x="79.27" y="182.23" width="1.10" height="1.10" fill="#c3c3c3"/><rect x="73.03" y="194.27" width="1.10" height="1.10" fill="#c3c3c3"/><rect x="118.17" y="133.15" width="1.10" height="1.10" fill="#c3c3c3"/><rect x="146.83" y="99.06" width="1.10" height="1.10" fill="#c3c3c3"/><rect x="87.54" y="170.21" width="1.10" height="1.10" fill="#c3c3c3"/><rect x="88.61" y="168.65" width="1.10" height="1.10" fill="#c3c3c3"/><rect x="129.64" y="115.27" width="1.10" height="1.10" fill="#c3c3c3"/><rect x="95.14" y="181.09" width="1.10" height="1.10" fill="#c3c3c3"/><rect x="115.63" y="134.15" width="1.10" height="1.10" fill="#c3c3c3"/><rect x="138.69" y="103.76" width="1.10" height="1.10" fill="#c3c3c3"/><rect x="118.12" y="133.40" width="1.10" height="1.10" fill="#c3c3c3"/><rect x="168.44" y="65.90" width="1.10" height="1.10" fill="#c3c3c3"/><rect x="161.60" y="80.49" width="1.10" height="1.10" fill="#c3c3c3"/><rect x="146.00" y="97.90" width="1.10" height="1.10" fill="#c3c3c3"/><rect x="148.83" y="90.12" width="1.10" height="1.10" fill="#c3c3c3"/><rect x="109.64" y="161.24" width="1.10" height="1.10" fill="#c3c3c3"/><rect x="131.63" y="111.24" width="1.10" height="1.10" fill="#c3c3c3"/><rect x="144.56" y="102.34" width="1.10" height="1.10" fill="#c3c3c3"/><rect x="95.16" y="180.20" width="1.10" height="1.10" fill="#c3c3c3"/><rect x="124.90" y="140.68" width="1.10" height="1.10" fill="#c3c3c3"/><rect x="94.71" y="180.86" width="1.10" height="1.10" fill="#c3c3c3"/><rect x="113.76" y="154.77" width="1.10" height="1.10" fill="#c3c3c3"/><rect x="170.56" y="74.03" width="1.10" height="1.10" fill="#c3c3c3"/><rect x="126.19" y="116.39" width="1.10" height="1.10" fill="#c3c3c3"/><rect x="144.50" y="101.29" width="1.10" height="1.10" fill="#c3c3c3"/><rect x="150.64" y="92.48" width="1.10" height="1.10" fill="#c3c3c3"/><rect x="132.87" y="110.55" width="1.10" height="1.10" fill="#c3c3c3"/><rect x="131.76" y="134.31" width="1.10" height="1.10" fill="#c3c3c3"/><rect x="134.24" y="128.41" width="1.10" height="1.10" fill="#c3c3c3"/><rect x="110.04" y="159.64" width="1.10" height="1.10" fill="#c3c3c3"/><rect x="138.82" y="116.24" width="1.10" height="1.10" fill="#c3c3c3"/><rect x="89.72" y="188.81" width="1.10" height="1.10" fill="#c3c3c3"/><rect x="96.01" y="180.00" width="1.10" height="1.10" fill="#c3c3c3"/><rect x="133.98" y="127.10" width="1.10" height="1.10" fill="#c3c3c3"/><rect x="140.00" y="113.71" width="1.10" height="1.10" fill="#c3c3c3"/><rect x="157.61" y="87.49" width="1.10" height="1.10" fill="#c3c3c3"/><rect x="120.82" y="147.59" width="1.10" height="1.10" fill="#c3c3c3"/><rect x="164.19" y="71.02" width="1.10" height="1.10" fill="#c3c3c3"/><rect x="135.46" y="124.39" width="1.10" height="1.10" fill="#c3c3c3"/><rect x="131.42" y="132.44" width="1.10" height="1.10" fill="#c3c3c3"/><rect x="132.69" y="130.75" width="1.10" height="1.10" fill="#c3c3c3"/><rect x="151.35" y="88.39" width="1.10" height="1.10" fill="#c3c3c3"/><rect x="96.99" y="156.67" width="1.10" height="1.10" fill="#c3c3c3"/><rect x="72.79" y="198.62" width="1.10" height="1.10" fill="#c3c3c3"/><rect x="143.11" y="94.96" width="1.10" height="1.10" fill="#c3c3c3"/><rect x="118.09" y="148.86" width="1.10" height="1.10" fill="#c3c3c3"/><rect x="143.73" y="98.42" width="1.10" height="1.10" fill="#c3c3c3"/><rect x="109.03" y="161.68" width="1.10" height="1.10" fill="#c3c3c3"/><rect x="98.86" y="157.57" width="1.10" height="1.10" fill="#c3c3c3"/><rect x="118.94" y="148.48" width="1.10" height="1.10" fill="#c3c3c3"/><rect x="99.18" y="174.15" width="1.10" height="1.10" fill="#c3c3c3"/><rect x="105.42" y="166.31" width="1.10" height="1.10" fill="#c3c3c3"/><rect x="147.34" y="94.63" width="1.10" height="1.10" fill="#c3c3c3"/><rect x="117.13" y="133.37" width="1.10" height="1.10" fill="#c3c3c3"/><rect x="78.47" y="184.30" width="1.10" height="1.10" fill="#c3c3c3"/><rect x="145.63" y="104.87" width="1.10" height="1.10" fill="#c3c3c3"/><rect x="132.51" y="133.18" width="1.10" height="1.10" fill="#c3c3c3"/><rect x="137.53" y="119.23" width="1.10" height="1.10" fill="#c3c3c3"/><rect x="167.97" y="68.93" width="1.10" height="1.10" fill="#c3c3c3"/><rect x="139.94" y="116.37" width="1.10" height="1.10" fill="#c3c3c3"/><rect x="141.22" y="112.93" width="1.10" height="1.10" fill="#c3c3c3"/><rect x="156.41" y="90.13" width="1.10" height="1.10" fill="#c3c3c3"/><rect x="105.84" y="165.08" width="1.10" height="1.10" fill="#c3c3c3"/><rect x="84.57" y="173.62" width="1.10" height="1.10" fill="#c3c3c3"/><rect x="139.31" y="102.32" width="1.10" height="1.10" fill="#c3c3c3"/><rect x="82.66" y="197.78" width="1.10" height="1.10" fill="#c3c3c3"/><rect x="72.24" y="197.31" width="1.10" height="1.10" fill="#c3c3c3"/><rect x="146.54" y="98.97" width="1.10" height="1.10" fill="#c3c3c3"/><rect x="127.69" y="116.99" width="1.10" height="1.10" fill="#c3c3c3"/><rect x="141.15" y="101.50" width="1.10" height="1.10" fill="#c3c3c3"/><rect x="126.54" y="118.09" width="1.10" height="1.10" fill="#c3c3c3"/><rect x="117.38" y="155.70" width="1.50" height="1.50" fill="#1f6db5"/><rect x="115.78" y="158.99" width="1.50" height="1.50" fill="#1f6db5"/><rect x="127.25" y="143.55" width="1.50" height="1.50" fill="#1f6db5"/><rect x="143.09" y="112.93" width="1.90" height="1.90" fill="#1f6db5"/><rect x="126.02" y="143.91" width="1.50" height="1.50" fill="#1f6db5"/><rect x="117.03" y="158.38" width="1.50" height="1.50" fill="#1f6db5"/><rect x="103.80" y="173.83" width="1.50" height="1.50" fill="#1f6db5"/><rect x="136.05" y="124.16" width="1.90" height="1.90" fill="#1f6db5"/><rect x="126.76" y="143.71" width="1.50" height="1.50" fill="#1f6db5"/><rect x="120.52" y="151.42" width="1.50" height="1.50" fill="#1f6db5"/><rect x="102.56" y="175.92" width="1.50" height="1.50" fill="#1f6db5"/><rect x="90.65" y="193.55" width="1.50" height="1.50" fill="#1f6db5"/><rect x="128.41" y="141.32" width="1.50" height="1.50" fill="#1f6db5"/><rect x="148.79" y="106.28" width="1.90" height="1.90" fill="#1f6db5"/><rect x="135.40" y="131.81" width="1.50" height="1.50" fill="#1f6db5"/><rect x="105.76" y="170.94" width="1.50" height="1.50" fill="#1f6db5"/><rect x="133.12" y="135.60" width="1.50" height="1.50" fill="#1f6db5"/><rect x="129.41" y="140.33" width="1.50" height="1.50" fill="#1f6db5"/><rect x="91.20" y="192.95" width="1.50" height="1.50" fill="#1f6db5"/><rect x="100.63" y="180.44" width="1.50" height="1.50" fill="#1f6db5"/><rect x="132.20" y="137.05" width="1.50" height="1.50" fill="#1f6db5"/><rect x="81.58" y="200.25" width="1.50" height="1.50" fill="#1f6db5"/><rect x="122.89" y="148.50" width="1.50" height="1.50" fill="#1f6db5"/><rect x="154.54" y="98.82" width="1.90" height="1.90" fill="#1f6db5"/><rect x="142.12" y="116.22" width="1.90" height="1.90" fill="#1f6db5"/><rect x="140.73" y="119.51" width="1.90" height="1.90" fill="#1f6db5"/><rect x="88.03" y="194.83" width="1.50" height="1.50" fill="#1f6db5"/><rect x="107.11" y="170.24" width="1.50" height="1.50" fill="#1f6db5"/><rect x="123.37" y="147.83" width="1.50" height="1.50" fill="#1f6db5"/><rect x="90.11" y="193.28" width="1.50" height="1.50" fill="#1f6db5"/><rect x="112.33" y="172.70" width="1.50" height="1.50" fill="#1f6db5"/><rect x="103.77" y="185.84" width="1.50" height="1.50" fill="#1f6db5"/><rect x="121.31" y="166.18" width="1.50" height="1.50" fill="#1f6db5"/><rect x="120.69" y="151.39" width="1.50" height="1.50" fill="#1f6db5"/><rect x="92.62" y="191.48" width="1.50" height="1.50" fill="#1f6db5"/><rect x="108.54" y="167.28" width="1.50" height="1.50" fill="#1f6db5"/><rect x="100.44" y="180.01" width="1.50" height="1.50" fill="#1f6db5"/><rect x="131.13" y="139.92" width="1.50" height="1.50" fill="#1f6db5"/><rect x="128.49" y="141.06" width="1.50" height="1.50" fill="#1f6db5"/><rect x="136.97" y="142.97" width="1.50" height="1.50" fill="#1f6db5"/><rect x="95.45" y="187.91" width="1.50" height="1.50" fill="#1f6db5"/><rect x="103.61" y="173.94" width="1.50" height="1.50" fill="#1f6db5"/><rect x="156.78" y="95.09" width="1.90" height="1.90" fill="#1f6db5"/><rect x="133.73" y="134.83" width="1.50" height="1.50" fill="#1f6db5"/><rect x="98.93" y="185.23" width="1.50" height="1.50" fill="#1f6db5"/><rect x="97.30" y="184.34" width="1.50" height="1.50" fill="#1f6db5"/><rect x="101.90" y="176.77" width="1.50" height="1.50" fill="#1f6db5"/><rect x="87.69" y="195.43" width="1.50" height="1.50" fill="#1f6db5"/><rect x="121.42" y="151.12" width="1.50" height="1.50" fill="#1f6db5"/><rect x="133.46" y="134.84" width="1.50" height="1.50" fill="#1f6db5"/><rect x="117.79" y="155.62" width="1.50" height="1.50" fill="#1f6db5"/><rect x="84.91" y="197.37" width="1.50" height="1.50" fill="#1f6db5"/><rect x="81.39" y="200.52" width="1.50" height="1.50" fill="#1f6db5"/><rect x="99.96" y="181.05" width="1.50" height="1.50" fill="#1f6db5"/><rect x="116.51" y="156.83" width="1.50" height="1.50" fill="#1f6db5"/><rect x="120.13" y="152.22" width="1.50" height="1.50" fill="#1f6db5"/><rect x="101.29" y="184.41" width="1.50" height="1.50" fill="#1f6db5"/><rect x="120.74" y="150.91" width="1.50" height="1.50" fill="#1f6db5"/><rect x="162.92" y="86.33" width="1.90" height="1.90" fill="#1f6db5"/><rect x="97.02" y="185.23" width="1.50" height="1.50" fill="#1f6db5"/><rect x="123.43" y="147.21" width="1.50" height="1.50" fill="#1f6db5"/><rect x="122.91" y="148.38" width="1.50" height="1.50" fill="#1f6db5"/><rect x="105.95" y="171.22" width="1.50" height="1.50" fill="#1f6db5"/><rect x="116.87" y="156.72" width="1.50" height="1.50" fill="#1f6db5"/><rect x="122.92" y="147.98" width="1.50" height="1.50" fill="#1f6db5"/><rect x="82.13" y="199.94" width="1.50" height="1.50" fill="#1f6db5"/><rect x="157.10" y="91.29" width="1.90" height="1.90" fill="#1f6db5"/><rect x="134.41" y="133.60" width="1.50" height="1.50" fill="#1f6db5"/><rect x="127.99" y="141.63" width="1.50" height="1.50" fill="#1f6db5"/><rect x="116.95" y="156.55" width="1.50" height="1.50" fill="#1f6db5"/><rect x="124.70" y="147.21" width="1.50" height="1.50" fill="#1f6db5"/><rect x="100.53" y="179.20" width="1.50" height="1.50" fill="#1f6db5"/><rect x="112.80" y="161.72" width="1.50" height="1.50" fill="#1f6db5"/><rect x="95.41" y="189.05" width="1.50" height="1.50" fill="#1f6db5"/><rect x="97.60" y="186.17" width="1.50" height="1.50" fill="#1f6db5"/><rect x="96.87" y="185.92" width="1.50" height="1.50" fill="#1f6db5"/><rect x="84.52" y="197.92" width="1.50" height="1.50" fill="#1f6db5"/><rect x="125.85" y="144.57" width="1.50" height="1.50" fill="#1f6db5"/><rect x="131.32" y="137.51" width="1.50" height="1.50" fill="#1f6db5"/><rect x="124.52" y="148.05" width="1.50" height="1.50" fill="#1f6db5"/><rect x="158.29" y="93.18" width="1.90" height="1.90" fill="#1f6db5"/><rect x="102.15" y="176.51" width="1.50" height="1.50" fill="#1f6db5"/><rect x="85.90" y="196.50" width="1.50" height="1.50" fill="#1f6db5"/><rect x="120.71" y="151.67" width="1.50" height="1.50" fill="#1f6db5"/><rect x="128.02" y="141.86" width="1.50" height="1.50" fill="#1f6db5"/><rect x="105.24" y="172.08" width="1.50" height="1.50" fill="#1f6db5"/><rect x="128.62" y="141.02" width="1.50" height="1.50" fill="#1f6db5"/><rect x="126.95" y="144.06" width="1.50" height="1.50" fill="#1f6db5"/><rect x="155.66" y="99.66" width="1.90" height="1.90" fill="#1f6db5"/><rect x="103.90" y="174.17" width="1.50" height="1.50" fill="#1f6db5"/><rect x="129.47" y="140.29" width="1.50" height="1.50" fill="#1f6db5"/><rect x="110.02" y="177.67" width="1.50" height="1.50" fill="#1f6db5"/><rect x="131.03" y="138.83" width="1.50" height="1.50" fill="#1f6db5"/><rect x="122.67" y="148.38" width="1.50" height="1.50" fill="#1f6db5"/><rect x="113.88" y="160.63" width="1.50" height="1.50" fill="#1f6db5"/><rect x="113.33" y="161.44" width="1.50" height="1.50" fill="#1f6db5"/><rect x="102.78" y="176.25" width="1.50" height="1.50" fill="#1f6db5"/><rect x="133.46" y="134.99" width="1.50" height="1.50" fill="#1f6db5"/><rect x="164.58" y="81.94" width="1.90" height="1.90" fill="#1f6db5"/><rect x="121.09" y="151.46" width="1.50" height="1.50" fill="#1f6db5"/><rect x="101.29" y="178.34" width="1.50" height="1.50" fill="#1f6db5"/><rect x="93.97" y="190.01" width="1.50" height="1.50" fill="#1f6db5"/><rect x="157.23" y="93.47" width="1.90" height="1.90" fill="#1f6db5"/><rect x="107.01" y="169.65" width="1.50" height="1.50" fill="#1f6db5"/><rect x="103.66" y="175.40" width="1.50" height="1.50" fill="#1f6db5"/><rect x="100.32" y="179.86" width="1.50" height="1.50" fill="#1f6db5"/><rect x="111.35" y="163.81" width="1.50" height="1.50" fill="#1f6db5"/><rect x="117.50" y="156.11" width="1.50" height="1.50" fill="#1f6db5"/><rect x="97.88" y="184.08" width="1.50" height="1.50" fill="#1f6db5"/><rect x="88.76" y="194.42" width="1.50" height="1.50" fill="#1f6db5"/><rect x="95.67" y="187.81" width="1.50" height="1.50" fill="#1f6db5"/><rect x="132.90" y="135.53" width="1.50" height="1.50" fill="#1f6db5"/><rect x="103.32" y="175.08" width="1.50" height="1.50" fill="#1f6db5"/><rect x="98.47" y="182.39" width="1.50" height="1.50" fill="#1f6db5"/><rect x="144.80" y="113.18" width="1.90" height="1.90" fill="#1f6db5"/><rect x="114.76" y="160.14" width="1.50" height="1.50" fill="#1f6db5"/><rect x="123.93" y="147.79" width="1.50" height="1.50" fill="#1f6db5"/><rect x="96.04" y="159.44" width="1.00" height="1.00" fill="#ef4646"/><rect x="102.26" y="149.30" width="1.00" height="1.00" fill="#ef4646"/><rect x="119.33" y="117.84" width="1.00" height="1.00" fill="#ef4646"/><rect x="83.87" y="173.48" width="1.00" height="1.00" fill="#ef4646"/><rect x="76.95" y="188.45" width="1.00" height="1.00" fill="#ef4646"/><rect x="114.79" y="134.90" width="1.00" height="1.00" fill="#ef4646"/><rect x="101.05" y="147.53" width="1.00" height="1.00" fill="#ef4646"/><rect x="103.52" y="130.59" width="1.00" height="1.00" fill="#ef4646"/><rect x="129.57" y="109.48" width="1.00" height="1.00" fill="#ef4646"/><rect x="109.24" y="129.02" width="1.00" height="1.00" fill="#ef4646"/><rect x="131.40" y="110.16" width="1.00" height="1.00" fill="#ef4646"/><rect x="76.78" y="181.78" width="1.00" height="1.00" fill="#ef4646"/><rect x="133.40" y="108.37" width="1.00" height="1.00" fill="#ef4646"/><rect x="131.17" y="111.86" width="1.00" height="1.00" fill="#ef4646"/><rect x="81.52" y="171.34" width="1.00" height="1.00" fill="#ef4646"/><rect x="100.38" y="145.87" width="1.00" height="1.00" fill="#ef4646"/><rect x="72.27" y="198.94" width="1.00" height="1.00" fill="#ef4646"/><rect x="119.77" y="110.34" width="1.00" height="1.00" fill="#ef4646"/><rect x="99.60" y="154.32" width="1.00" height="1.00" fill="#ef4646"/><rect x="111.41" y="139.13" width="1.00" height="1.00" fill="#ef4646"/><rect x="156.88" y="70.26" width="1.00" height="1.00" fill="#ef4646"/><rect x="74.48" y="193.47" width="1.00" height="1.00" fill="#ef4646"/><rect x="114.12" y="136.81" width="1.00" height="1.00" fill="#ef4646"/><rect x="94.90" y="159.29" width="1.00" height="1.00" fill="#ef4646"/><rect x="101.96" y="150.16" width="1.00" height="1.00" fill="#ef4646"/><rect x="99.51" y="152.06" width="1.00" height="1.00" fill="#ef4646"/><rect x="128.33" y="108.58" width="1.00" height="1.00" fill="#ef4646"/><rect x="78.43" y="185.24" width="1.00" height="1.00" fill="#ef4646"/><rect x="111.10" y="137.59" width="1.00" height="1.00" fill="#ef4646"/><rect x="72.40" y="191.08" width="1.00" height="1.00" fill="#ef4646"/><rect x="124.13" y="102.43" width="1.00" height="1.00" fill="#ef4646"/><rect x="73.28" y="195.98" width="1.00" height="1.00" fill="#ef4646"/><rect x="131.08" y="111.67" width="1.00" height="1.00" fill="#ef4646"/><rect x="74.31" y="190.11" width="1.00" height="1.00" fill="#ef4646"/><rect x="97.19" y="146.48" width="1.00" height="1.00" fill="#ef4646"/><rect x="78.75" y="184.41" width="1.00" height="1.00" fill="#ef4646"/><rect x="98.42" y="157.98" width="1.00" height="1.00" fill="#ef4646"/><rect x="139.58" y="98.20" width="1.00" height="1.00" fill="#ef4646"/><rect x="79.07" y="183.39" width="1.00" height="1.00" fill="#ef4646"/><rect x="100.89" y="145.97" width="1.00" height="1.00" fill="#ef4646"/><rect x="76.79" y="187.06" width="1.00" height="1.00" fill="#ef4646"/><rect x="126.47" y="118.32" width="1.00" height="1.00" fill="#ef4646"/><rect x="100.53" y="145.37" width="1.00" height="1.00" fill="#ef4646"/><rect x="85.96" y="168.37" width="1.00" height="1.00" fill="#ef4646"/><rect x="73.38" y="195.56" width="1.00" height="1.00" fill="#ef4646"/><rect x="127.70" y="115.65" width="1.00" height="1.00" fill="#ef4646"/><rect x="77.04" y="187.09" width="1.00" height="1.00" fill="#ef4646"/><rect x="92.89" y="162.15" width="1.00" height="1.00" fill="#ef4646"/><rect x="74.27" y="191.70" width="1.00" height="1.00" fill="#ef4646"/><rect x="115.85" y="123.59" width="1.00" height="1.00" fill="#ef4646"/><rect x="102.90" y="146.15" width="1.00" height="1.00" fill="#ef4646"/><rect x="107.86" y="141.05" width="1.00" height="1.00" fill="#ef4646"/><rect x="92.36" y="164.49" width="1.00" height="1.00" fill="#ef4646"/><rect x="119.18" y="131.02" width="1.00" height="1.00" fill="#ef4646"/><rect x="112.40" y="138.61" width="1.00" height="1.00" fill="#ef4646"/><rect x="100.28" y="154.61" width="1.00" height="1.00" fill="#ef4646"/><rect x="99.60" y="154.71" width="1.00" height="1.00" fill="#ef4646"/><rect x="75.07" y="188.25" width="1.00" height="1.00" fill="#ef4646"/><rect x="74.69" y="193.54" width="1.00" height="1.00" fill="#ef4646"/><rect x="150.98" y="66.89" width="1.00" height="1.00" fill="#ef4646"/><rect x="125.96" y="119.83" width="1.00" height="1.00" fill="#ef4646"/><rect x="83.46" y="173.61" width="1.00" height="1.00" fill="#ef4646"/><rect x="96.97" y="159.13" width="1.00" height="1.00" fill="#ef4646"/><rect x="75.43" y="180.07" width="1.00" height="1.00" fill="#ef4646"/><rect x="99.17" y="154.40" width="1.00" height="1.00" fill="#ef4646"/><rect x="86.49" y="162.71" width="1.00" height="1.00" fill="#ef4646"/><rect x="99.54" y="155.54" width="1.00" height="1.00" fill="#ef4646"/><rect x="81.75" y="175.38" width="1.00" height="1.00" fill="#ef4646"/><rect x="83.73" y="173.60" width="1.00" height="1.00" fill="#ef4646"/><rect x="99.23" y="155.65" width="1.00" height="1.00" fill="#ef4646"/><rect x="75.75" y="186.33" width="1.00" height="1.00" fill="#ef4646"/><rect x="120.14" y="128.86" width="1.00" height="1.00" fill="#ef4646"/><rect x="113.65" y="136.66" width="1.00" height="1.00" fill="#ef4646"/><rect x="74.39" y="176.31" width="1.00" height="1.00" fill="#ef4646"/><rect x="165.50" y="68.47" width="1.00" height="1.00" fill="#ef4646"/><rect x="108.51" y="139.29" width="1.00" height="1.00" fill="#ef4646"/><rect x="106.88" y="141.76" width="1.00" height="1.00" fill="#ef4646"/><rect x="97.43" y="147.81" width="1.00" height="1.00" fill="#ef4646"/><rect x="99.47" y="152.94" width="1.00" height="1.00" fill="#ef4646"/><rect x="104.24" y="139.22" width="1.00" height="1.00" fill="#ef4646"/><rect x="81.02" y="168.16" width="1.00" height="1.00" fill="#ef4646"/><rect x="103.51" y="149.51" width="1.00" height="1.00" fill="#ef4646"/><rect x="117.06" y="127.58" width="1.00" height="1.00" fill="#ef4646"/><rect x="81.72" y="173.18" width="1.00" height="1.00" fill="#ef4646"/><rect x="95.70" y="156.86" width="1.00" height="1.00" fill="#ef4646"/><rect x="79.03" y="179.75" width="1.00" height="1.00" fill="#ef4646"/><rect x="102.87" y="150.26" width="1.00" height="1.00" fill="#ef4646"/><rect x="152.79" y="79.81" width="1.00" height="1.00" fill="#ef4646"/><rect x="128.06" y="116.10" width="1.00" height="1.00" fill="#ef4646"/><rect x="103.23" y="149.41" width="1.00" height="1.00" fill="#ef4646"/><rect x="133.03" y="109.64" width="1.00" height="1.00" fill="#ef4646"/><rect x="79.95" y="181.53" width="1.00" height="1.00" fill="#ef4646"/><rect x="98.71" y="151.32" width="1.00" height="1.00" fill="#ef4646"/><rect x="120.81" y="122.85" width="1.00" height="1.00" fill="#ef4646"/><rect x="93.39" y="163.06" width="1.00" height="1.00" fill="#ef4646"/><rect x="96.22" y="160.94" width="1.00" height="1.00" fill="#ef4646"/><rect x="74.01" y="174.34" width="1.00" height="1.00" fill="#ef4646"/><rect x="99.46" y="152.92" width="1.00" height="1.00" fill="#ef4646"/><rect x="99.06" y="150.96" width="1.00" height="1.00" fill="#ef4646"/><rect x="87.48" y="169.53" width="1.00" height="1.00" fill="#ef4646"/><rect x="93.82" y="160.06" width="1.00" height="1.00" fill="#ef4646"/><rect x="88.28" y="165.87" width="1.00" height="1.00" fill="#ef4646"/><rect x="123.59" y="121.44" width="1.00" height="1.00" fill="#ef4646"/><rect x="91.45" y="166.26" width="1.00" height="1.00" fill="#ef4646"/><rect x="75.40" y="190.77" width="1.00" height="1.00" fill="#ef4646"/><rect x="96.66" y="160.47" width="1.00" height="1.00" fill="#ef4646"/><rect x="76.96" y="184.97" width="1.00" height="1.00" fill="#ef4646"/><rect x="72.06" y="198.55" width="1.00" height="1.00" fill="#ef4646"/><rect x="104.42" y="147.30" width="1.00" height="1.00" fill="#ef4646"/><rect x="88.52" y="169.08" width="1.00" height="1.00" fill="#ef4646"/><rect x="136.63" y="106.14" width="1.00" height="1.00" fill="#ef4646"/><rect x="113.33" y="135.17" width="1.00" height="1.00" fill="#ef4646"/><rect x="97.38" y="159.63" width="1.00" height="1.00" fill="#ef4646"/><rect x="88.45" y="166.93" width="1.00" height="1.00" fill="#ef4646"/><rect x="118.59" y="116.06" width="1.00" height="1.00" fill="#ef4646"/><rect x="78.59" y="181.15" width="1.00" height="1.00" fill="#ef4646"/><rect x="78.56" y="171.63" width="1.00" height="1.00" fill="#ef4646"/><rect x="118.56" y="127.09" width="1.00" height="1.00" fill="#ef4646"/><rect x="75.75" y="174.33" width="1.00" height="1.00" fill="#ef4646"/><rect x="107.25" y="142.75" width="1.00" height="1.00" fill="#ef4646"/><rect x="104.48" y="146.86" width="1.00" height="1.00" fill="#ef4646"/><rect x="100.46" y="142.52" width="1.00" height="1.00" fill="#ef4646"/><rect x="170.27" y="65.39" width="1.00" height="1.00" fill="#ef4646"/><rect x="75.28" y="187.96" width="1.00" height="1.00" fill="#ef4646"/><rect x="98.67" y="146.83" width="1.00" height="1.00" fill="#ef4646"/><rect x="86.26" y="170.93" width="1.00" height="1.00" fill="#ef4646"/><rect x="82.64" y="175.22" width="1.00" height="1.00" fill="#ef4646"/><rect x="78.75" y="182.09" width="1.00" height="1.00" fill="#ef4646"/><rect x="123.99" y="116.68" width="1.00" height="1.00" fill="#ef4646"/><rect x="91.17" y="163.22" width="1.00" height="1.00" fill="#ef4646"/><rect x="78.99" y="164.79" width="1.00" height="1.00" fill="#ef4646"/><rect x="72.64" y="183.57" width="1.00" height="1.00" fill="#ef4646"/><rect x="101.86" y="150.10" width="1.00" height="1.00" fill="#ef4646"/><rect x="92.74" y="161.88" width="1.00" height="1.00" fill="#ef4646"/><rect x="86.60" y="164.46" width="1.00" height="1.00" fill="#ef4646"/><rect x="151.66" y="86.70" width="1.00" height="1.00" fill="#ef4646"/><rect x="138.21" y="97.53" width="1.00" height="1.00" fill="#ef4646"/><rect x="137.96" y="89.49" width="1.00" height="1.00" fill="#ef4646"/><rect x="104.21" y="147.83" width="1.00" height="1.00" fill="#ef4646"/><rect x="90.52" y="163.87" width="1.00" height="1.00" fill="#ef4646"/><rect x="110.33" y="137.66" width="1.00" height="1.00" fill="#ef4646"/><rect x="97.58" y="155.76" width="1.00" height="1.00" fill="#ef4646"/><rect x="76.57" y="173.18" width="1.00" height="1.00" fill="#ef4646"/><rect x="78.39" y="185.33" width="1.00" height="1.00" fill="#ef4646"/><rect x="103.69" y="145.29" width="1.00" height="1.00" fill="#ef4646"/><rect x="106.78" y="144.80" width="1.00" height="1.00" fill="#ef4646"/><rect x="104.76" y="142.83" width="1.00" height="1.00" fill="#ef4646"/><rect x="110.47" y="139.49" width="1.00" height="1.00" fill="#ef4646"/><rect x="80.58" y="178.76" width="1.00" height="1.00" fill="#ef4646"/><rect x="124.50" y="120.08" width="1.00" height="1.00" fill="#ef4646"/><rect x="79.16" y="182.16" width="1.00" height="1.00" fill="#ef4646"/><rect x="125.25" y="121.08" width="1.00" height="1.00" fill="#ef4646"/><rect x="95.30" y="160.65" width="1.00" height="1.00" fill="#ef4646"/><rect x="127.74" y="117.38" width="1.00" height="1.00" fill="#ef4646"/><rect x="88.53" y="166.39" width="1.00" height="1.00" fill="#ef4646"/><rect x="81.61" y="174.48" width="1.00" height="1.00" fill="#ef4646"/><rect x="83.84" y="172.16" width="1.00" height="1.00" fill="#ef4646"/><rect x="159.65" y="73.43" width="1.00" height="1.00" fill="#ef4646"/><rect x="111.01" y="138.63" width="1.00" height="1.00" fill="#ef4646"/><rect x="125.48" y="120.93" width="1.00" height="1.00" fill="#ef4646"/><rect x="113.78" y="137.02" width="1.00" height="1.00" fill="#ef4646"/><rect x="125.08" y="111.11" width="1.00" height="1.00" fill="#ef4646"/><rect x="115.97" y="132.44" width="1.00" height="1.00" fill="#ef4646"/><rect x="123.87" y="115.99" width="1.00" height="1.00" fill="#ef4646"/><rect x="98.39" y="148.45" width="1.00" height="1.00" fill="#ef4646"/><rect x="104.91" y="146.31" width="1.00" height="1.00" fill="#ef4646"/><rect x="103.17" y="149.95" width="1.00" height="1.00" fill="#ef4646"/><rect x="151.92" y="86.66" width="1.00" height="1.00" fill="#ef4646"/><rect x="106.00" y="142.20" width="1.00" height="1.00" fill="#ef4646"/><rect x="102.85" y="148.20" width="1.00" height="1.00" fill="#ef4646"/><rect x="72.51" y="187.92" width="1.00" height="1.00" fill="#ef4646"/><rect x="97.78" y="159.08" width="1.00" height="1.00" fill="#ef4646"/><rect x="72.47" y="189.77" width="1.00" height="1.00" fill="#ef4646"/><rect x="105.66" y="144.98" width="1.00" height="1.00" fill="#ef4646"/><rect x="94.23" y="151.43" width="1.00" height="1.00" fill="#ef4646"/><rect x="79.76" y="171.39" width="1.00" height="1.00" fill="#ef4646"/><rect x="103.52" y="143.66" width="1.00" height="1.00" fill="#ef4646"/><rect x="119.29" y="127.53" width="1.00" height="1.00" fill="#ef4646"/><rect x="94.51" y="154.47" width="1.00" height="1.00" fill="#ef4646"/><rect x="87.63" y="165.36" width="1.00" height="1.00" fill="#ef4646"/><rect x="90.56" y="156.10" width="1.00" height="1.00" fill="#ef4646"/><rect x="103.44" y="143.78" width="1.00" height="1.00" fill="#ef4646"/><rect x="118.79" y="129.35" width="1.00" height="1.00" fill="#ef4646"/><rect x="84.34" y="172.11" width="1.00" height="1.00" fill="#ef4646"/><rect x="74.59" y="188.56" width="1.00" height="1.00" fill="#ef4646"/><rect x="113.19" y="138.13" width="1.00" height="1.00" fill="#ef4646"/><rect x="147.63" y="90.89" width="1.00" height="1.00" fill="#ef4646"/><rect x="138.05" y="102.06" width="1.00" height="1.00" fill="#ef4646"/><rect x="126.31" y="118.64" width="1.00" height="1.00" fill="#ef4646"/><rect x="148.32" y="82.57" width="1.00" height="1.00" fill="#ef4646"/><rect x="73.62" y="184.50" width="1.00" height="1.00" fill="#ef4646"/><rect x="83.33" y="173.05" width="1.00" height="1.00" fill="#ef4646"/><rect x="94.99" y="161.45" width="1.00" height="1.00" fill="#ef4646"/><rect x="82.06" y="175.48" width="1.00" height="1.00" fill="#ef4646"/><rect x="91.16" y="141.19" width="1.00" height="1.00" fill="#ef4646"/><rect x="78.77" y="173.56" width="1.00" height="1.00" fill="#ef4646"/><rect x="116.12" y="133.60" width="1.00" height="1.00" fill="#ef4646"/><rect x="74.04" y="190.54" width="1.00" height="1.00" fill="#ef4646"/><rect x="113.65" y="125.22" width="1.00" height="1.00" fill="#ef4646"/><rect x="95.19" y="152.44" width="1.00" height="1.00" fill="#ef4646"/><rect x="147.36" y="87.14" width="1.00" height="1.00" fill="#ef4646"/><rect x="112.88" y="138.47" width="1.00" height="1.00" fill="#ef4646"/><rect x="72.23" y="195.13" width="1.00" height="1.00" fill="#ef4646"/><rect x="81.33" y="172.90" width="1.00" height="1.00" fill="#ef4646"/><rect x="89.69" y="166.11" width="1.00" height="1.00" fill="#ef4646"/><rect x="105.76" y="143.50" width="1.00" height="1.00" fill="#ef4646"/><rect x="72.62" y="192.39" width="1.00" height="1.00" fill="#ef4646"/><rect x="73.74" y="190.38" width="1.00" height="1.00" fill="#ef4646"/><rect x="73.64" y="190.79" width="1.00" height="1.00" fill="#ef4646"/><rect x="105.40" y="133.79" width="1.00" height="1.00" fill="#ef4646"/><rect x="84.80" y="172.61" width="1.00" height="1.00" fill="#ef4646"/><rect x="90.79" y="162.62" width="1.00" height="1.00" fill="#ef4646"/><rect x="83.12" y="171.82" width="1.00" height="1.00" fill="#ef4646"/><rect x="86.01" y="164.61" width="1.00" height="1.00" fill="#ef4646"/><rect x="89.27" y="151.08" width="1.00" height="1.00" fill="#ef4646"/><rect x="77.09" y="173.81" width="1.00" height="1.00" fill="#ef4646"/><rect x="91.52" y="164.86" width="1.00" height="1.00" fill="#ef4646"/><rect x="154.20" y="75.85" width="1.00" height="1.00" fill="#ef4646"/><rect x="79.00" y="182.46" width="1.00" height="1.00" fill="#ef4646"/><rect x="76.29" y="184.31" width="1.00" height="1.00" fill="#ef4646"/><rect x="143.94" y="97.90" width="1.00" height="1.00" fill="#ef4646"/><rect x="100.47" y="153.98" width="1.00" height="1.00" fill="#ef4646"/><rect x="100.17" y="149.47" width="1.00" height="1.00" fill="#ef4646"/><rect x="89.92" y="157.71" width="1.00" height="1.00" fill="#ef4646"/><rect x="134.77" y="104.93" width="1.00" height="1.00" fill="#ef4646"/><rect x="108.32" y="143.02" width="1.00" height="1.00" fill="#ef4646"/><rect x="143.48" y="95.49" width="1.00" height="1.00" fill="#ef4646"/><rect x="103.34" y="145.99" width="1.00" height="1.00" fill="#ef4646"/><rect x="99.73" y="150.85" width="1.00" height="1.00" fill="#ef4646"/><rect x="144.59" y="88.46" width="1.00" height="1.00" fill="#ef4646"/><rect x="99.50" y="150.98" width="1.00" height="1.00" fill="#ef4646"/><rect x="123.99" y="123.18" width="1.00" height="1.00" fill="#ef4646"/><rect x="104.46" y="136.55" width="1.00" height="1.00" fill="#ef4646"/><rect x="128.42" y="112.85" width="1.00" height="1.00" fill="#ef4646"/><rect x="78.20" y="183.78" width="1.00" height="1.00" fill="#ef4646"/><rect x="97.89" y="146.85" width="1.00" height="1.00" fill="#ef4646"/><rect x="107.31" y="143.65" width="1.00" height="1.00" fill="#ef4646"/><rect x="122.76" y="121.55" width="1.00" height="1.00" fill="#ef4646"/><rect x="84.57" y="171.91" width="1.00" height="1.00" fill="#ef4646"/><rect x="161.40" y="73.19" width="1.00" height="1.00" fill="#ef4646"/><rect x="72.16" y="199.75" width="1.00" height="1.00" fill="#ef4646"/><rect x="75.55" y="174.02" width="1.00" height="1.00" fill="#ef4646"/><rect x="80.00" y="180.45" width="1.00" height="1.00" fill="#ef4646"/><rect x="72.19" y="184.66" width="1.00" height="1.00" fill="#ef4646"/><rect x="99.60" y="150.79" width="1.00" height="1.00" fill="#ef4646"/><rect x="78.91" y="182.35" width="1.00" height="1.00" fill="#ef4646"/><rect x="96.46" y="156.62" width="1.00" height="1.00" fill="#ef4646"/><rect x="97.18" y="155.59" width="1.00" height="1.00" fill="#ef4646"/><rect x="73.24" y="184.54" width="1.00" height="1.00" fill="#ef4646"/><rect x="139.81" y="98.89" width="1.00" height="1.00" fill="#ef4646"/><rect x="99.88" y="152.58" width="1.00" height="1.00" fill="#ef4646"/><rect x="109.24" y="141.69" width="1.00" height="1.00" fill="#ef4646"/><rect x="72.91" y="195.14" width="1.00" height="1.00" fill="#ef4646"/><rect x="80.09" y="181.97" width="1.00" height="1.00" fill="#ef4646"/><rect x="103.91" y="145.49" width="1.00" height="1.00" fill="#ef4646"/><rect x="101.90" y="145.80" width="1.00" height="1.00" fill="#ef4646"/><rect x="100.79" y="148.57" width="1.00" height="1.00" fill="#ef4646"/><rect x="122.25" y="126.11" width="1.00" height="1.00" fill="#ef4646"/><rect x="84.36" y="173.29" width="1.00" height="1.00" fill="#ef4646"/><rect x="119.30" y="125.24" width="1.00" height="1.00" fill="#ef4646"/><rect x="85.11" y="170.46" width="1.00" height="1.00" fill="#ef4646"/><rect x="96.90" y="147.36" width="1.00" height="1.00" fill="#ef4646"/><rect x="91.53" y="152.57" width="1.00" height="1.00" fill="#ef4646"/><rect x="97.45" y="156.82" width="1.00" height="1.00" fill="#ef4646"/><rect x="79.32" y="179.43" width="1.00" height="1.00" fill="#ef4646"/><rect x="74.91" y="193.11" width="1.00" height="1.00" fill="#ef4646"/><rect x="100.26" y="151.53" width="1.00" height="1.00" fill="#ef4646"/><rect x="80.37" y="180.59" width="1.00" height="1.00" fill="#ef4646"/><rect x="126.88" y="108.95" width="1.00" height="1.00" fill="#ef4646"/><rect x="73.80" y="181.66" width="1.00" height="1.00" fill="#ef4646"/><rect x="102.25" y="150.16" width="1.00" height="1.00" fill="#ef4646"/><rect x="79.15" y="180.50" width="1.00" height="1.00" fill="#ef4646"/><rect x="76.56" y="188.71" width="1.00" height="1.00" fill="#ef4646"/><rect x="94.22" y="163.00" width="1.00" height="1.00" fill="#ef4646"/><rect x="104.29" y="145.90" width="1.00" height="1.00" fill="#ef4646"/><rect x="90.71" y="156.84" width="1.00" height="1.00" fill="#ef4646"/><rect x="93.29" y="156.37" width="1.00" height="1.00" fill="#ef4646"/><rect x="95.40" y="159.13" width="1.00" height="1.00" fill="#ef4646"/><rect x="73.48" y="188.98" width="1.00" height="1.00" fill="#ef4646"/><rect x="91.15" y="163.69" width="1.00" height="1.00" fill="#ef4646"/><rect x="136.05" y="99.44" width="1.00" height="1.00" fill="#ef4646"/><rect x="123.62" y="119.82" width="1.00" height="1.00" fill="#ef4646"/><rect x="84.30" y="167.91" width="1.00" height="1.00" fill="#ef4646"/><rect x="76.40" y="188.90" width="1.00" height="1.00" fill="#ef4646"/><rect x="118.37" y="129.76" width="1.00" height="1.00" fill="#ef4646"/><rect x="78.38" y="169.47" width="1.00" height="1.00" fill="#ef4646"/><rect x="124.72" y="119.03" width="1.00" height="1.00" fill="#ef4646"/><rect x="150.09" y="85.15" width="1.00" height="1.00" fill="#ef4646"/><rect x="82.53" y="175.45" width="1.00" height="1.00" fill="#ef4646"/><rect x="79.51" y="179.38" width="1.00" height="1.00" fill="#ef4646"/><rect x="113.22" y="137.11" width="1.00" height="1.00" fill="#ef4646"/><rect x="77.01" y="183.71" width="1.00" height="1.00" fill="#ef4646"/><rect x="93.62" y="155.26" width="1.00" height="1.00" fill="#ef4646"/><rect x="74.64" y="192.55" width="1.00" height="1.00" fill="#ef4646"/><rect x="120.62" y="128.49" width="1.00" height="1.00" fill="#ef4646"/><rect x="142.49" y="94.69" width="1.00" height="1.00" fill="#ef4646"/><rect x="105.64" y="133.18" width="1.00" height="1.00" fill="#ef4646"/><rect x="78.25" y="177.35" width="1.00" height="1.00" fill="#ef4646"/><rect x="85.66" y="170.59" width="1.00" height="1.00" fill="#ef4646"/><rect x="72.96" y="188.88" width="1.00" height="1.00" fill="#ef4646"/><rect x="121.64" y="125.62" width="1.00" height="1.00" fill="#ef4646"/><rect x="98.41" y="157.25" width="1.00" height="1.00" fill="#ef4646"/><rect x="100.16" y="140.27" width="1.00" height="1.00" fill="#ef4646"/><rect x="105.04" y="143.51" width="1.00" height="1.00" fill="#ef4646"/><rect x="85.42" y="158.87" width="1.00" height="1.00" fill="#ef4646"/><rect x="113.19" y="134.89" width="1.00" height="1.00" fill="#ef4646"/><rect x="111.13" y="135.35" width="1.00" height="1.00" fill="#ef4646"/><rect x="120.32" y="129.03" width="1.00" height="1.00" fill="#ef4646"/><rect x="88.88" y="158.83" width="1.00" height="1.00" fill="#ef4646"/><rect x="76.46" y="173.17" width="1.00" height="1.00" fill="#ef4646"/><rect x="83.20" y="173.96" width="1.00" height="1.00" fill="#ef4646"/><rect x="118.72" y="127.61" width="1.00" height="1.00" fill="#ef4646"/><rect x="85.73" y="170.09" width="1.00" height="1.00" fill="#ef4646"/><rect x="112.40" y="138.18" width="1.00" height="1.00" fill="#ef4646"/><rect x="121.26" y="125.87" width="1.00" height="1.00" fill="#ef4646"/><rect x="116.39" y="132.80" width="1.00" height="1.00" fill="#ef4646"/><rect x="139.88" y="96.11" width="1.00" height="1.00" fill="#ef4646"/><rect x="87.11" y="166.98" width="1.00" height="1.00" fill="#ef4646"/><rect x="103.26" y="148.89" width="1.00" height="1.00" fill="#ef4646"/><rect x="99.40" y="152.68" width="1.00" height="1.00" fill="#ef4646"/><rect x="134.54" y="103.90" width="1.00" height="1.00" fill="#ef4646"/><rect x="75.32" y="183.23" width="1.00" height="1.00" fill="#ef4646"/><rect x="85.13" y="165.28" width="1.00" height="1.00" fill="#ef4646"/><rect x="100.58" y="145.84" width="1.00" height="1.00" fill="#ef4646"/><rect x="87.85" y="168.13" width="1.00" height="1.00" fill="#ef4646"/><rect x="79.58" y="175.67" width="1.00" height="1.00" fill="#ef4646"/><rect x="87.63" y="170.00" width="1.00" height="1.00" fill="#ef4646"/><rect x="107.44" y="141.02" width="1.00" height="1.00" fill="#ef4646"/><rect x="105.50" y="146.09" width="1.00" height="1.00" fill="#ef4646"/><rect x="112.78" y="129.42" width="1.00" height="1.00" fill="#ef4646"/><rect x="98.81" y="151.52" width="1.00" height="1.00" fill="#ef4646"/><rect x="89.93" y="167.22" width="1.00" height="1.00" fill="#ef4646"/><rect x="125.71" y="120.28" width="1.00" height="1.00" fill="#ef4646"/><rect x="119.72" y="125.65" width="1.00" height="1.00" fill="#ef4646"/><rect x="109.08" y="140.01" width="1.00" height="1.00" fill="#ef4646"/><rect x="102.06" y="148.48" width="1.00" height="1.00" fill="#ef4646"/><rect x="99.45" y="153.26" width="1.00" height="1.00" fill="#ef4646"/><rect x="91.13" y="159.32" width="1.00" height="1.00" fill="#ef4646"/><rect x="116.80" y="129.72" width="1.00" height="1.00" fill="#ef4646"/><rect x="76.68" y="188.87" width="1.00" height="1.00" fill="#ef4646"/><rect x="76.88" y="188.45" width="1.00" height="1.00" fill="#ef4646"/><rect x="114.11" y="135.84" width="1.00" height="1.00" fill="#ef4646"/><rect x="73.83" y="195.84" width="1.00" height="1.00" fill="#ef4646"/><rect x="83.10" y="169.85" width="1.00" height="1.00" fill="#ef4646"/><rect x="97.63" y="158.58" width="1.00" height="1.00" fill="#ef4646"/><rect x="114.40" y="134.16" width="1.00" height="1.00" fill="#ef4646"/><rect x="73.73" y="191.36" width="1.00" height="1.00" fill="#ef4646"/><rect x="75.13" y="186.59" width="1.00" height="1.00" fill="#ef4646"/><rect x="103.50" y="147.32" width="1.00" height="1.00" fill="#ef4646"/><rect x="74.38" y="193.34" width="1.00" height="1.00" fill="#ef4646"/><rect x="77.21" y="187.84" width="1.00" height="1.00" fill="#ef4646"/><rect x="107.63" y="142.89" width="1.00" height="1.00" fill="#ef4646"/><rect x="83.77" y="174.49" width="1.00" height="1.00" fill="#ef4646"/><rect x="82.67" y="174.03" width="1.00" height="1.00" fill="#ef4646"/><rect x="125.33" y="118.52" width="1.00" height="1.00" fill="#ef4646"/><rect x="105.60" y="144.40" width="1.00" height="1.00" fill="#ef4646"/><rect x="137.61" y="103.14" width="1.00" height="1.00" fill="#ef4646"/><rect x="74.01" y="190.86" width="1.00" height="1.00" fill="#ef4646"/><rect x="85.32" y="172.59" width="1.00" height="1.00" fill="#ef4646"/><rect x="104.44" y="147.90" width="1.00" height="1.00" fill="#ef4646"/><rect x="90.06" y="167.18" width="1.00" height="1.00" fill="#ef4646"/><rect x="103.58" y="143.99" width="1.00" height="1.00" fill="#ef4646"/><rect x="167.35" y="63.55" width="1.00" height="1.00" fill="#ef4646"/><rect x="101.54" y="152.31" width="1.00" height="1.00" fill="#ef4646"/><rect x="127.08" y="114.34" width="1.00" height="1.00" fill="#ef4646"/><rect x="86.28" y="171.35" width="1.00" height="1.00" fill="#ef4646"/><rect x="73.14" y="186.92" width="1.00" height="1.00" fill="#ef4646"/><rect x="103.93" y="132.75" width="1.00" height="1.00" fill="#ef4646"/><rect x="80.58" y="176.84" width="1.00" height="1.00" fill="#ef4646"/><rect x="105.65" y="138.83" width="1.00" height="1.00" fill="#ef4646"/><rect x="106.80" y="144.60" width="1.00" height="1.00" fill="#ef4646"/><rect x="77.01" y="186.94" width="1.00" height="1.00" fill="#ef4646"/><rect x="74.18" y="186.83" width="1.00" height="1.00" fill="#ef4646"/><rect x="81.57" y="175.89" width="1.00" height="1.00" fill="#ef4646"/><rect x="77.86" y="169.78" width="1.00" height="1.00" fill="#ef4646"/><rect x="73.39" y="191.62" width="1.00" height="1.00" fill="#ef4646"/><rect x="97.66" y="158.99" width="1.00" height="1.00" fill="#ef4646"/><rect x="124.08" y="122.28" width="1.00" height="1.00" fill="#ef4646"/><rect x="108.32" y="141.83" width="1.00" height="1.00" fill="#ef4646"/><rect x="117.98" y="130.68" width="1.00" height="1.00" fill="#ef4646"/><rect x="115.95" y="132.63" width="1.00" height="1.00" fill="#ef4646"/><rect x="78.56" y="181.23" width="1.00" height="1.00" fill="#ef4646"/><rect x="96.53" y="159.99" width="1.00" height="1.00" fill="#ef4646"/><rect x="75.07" y="189.17" width="1.00" height="1.00" fill="#ef4646"/><rect x="94.26" y="159.39" width="1.00" height="1.00" fill="#ef4646"/><rect x="72.08" y="193.55" width="1.00" height="1.00" fill="#ef4646"/><rect x="112.20" y="137.33" width="1.00" height="1.00" fill="#ef4646"/><rect x="109.31" y="141.94" width="1.00" height="1.00" fill="#ef4646"/><rect x="80.00" y="167.87" width="1.00" height="1.00" fill="#ef4646"/><rect x="102.96" y="145.07" width="1.00" height="1.00" fill="#ef4646"/><rect x="92.29" y="164.85" width="1.00" height="1.00" fill="#ef4646"/><rect x="153.79" y="75.93" width="1.00" height="1.00" fill="#ef4646"/><rect x="92.28" y="165.16" width="1.00" height="1.00" fill="#ef4646"/><rect x="91.35" y="166.21" width="1.00" height="1.00" fill="#ef4646"/><rect x="105.45" y="142.56" width="1.00" height="1.00" fill="#ef4646"/><rect x="80.12" y="180.85" width="1.00" height="1.00" fill="#ef4646"/><rect x="88.70" y="167.60" width="1.00" height="1.00" fill="#ef4646"/><rect x="94.54" y="161.11" width="1.00" height="1.00" fill="#ef4646"/><rect x="74.50" y="193.43" width="1.00" height="1.00" fill="#ef4646"/><rect x="95.62" y="161.15" width="1.00" height="1.00" fill="#ef4646"/><rect x="81.60" y="178.13" width="1.00" height="1.00" fill="#ef4646"/><rect x="107.91" y="143.41" width="1.00" height="1.00" fill="#ef4646"/><rect x="80.95" y="173.81" width="1.00" height="1.00" fill="#ef4646"/><rect x="96.82" y="159.78" width="1.00" height="1.00" fill="#ef4646"/><rect x="139.25" y="103.04" width="1.00" height="1.00" fill="#ef4646"/><rect x="101.69" y="150.28" width="1.00" height="1.00" fill="#ef4646"/><rect x="113.71" y="137.54" width="1.00" height="1.00" fill="#ef4646"/><rect x="122.28" y="125.79" width="1.00" height="1.00" fill="#ef4646"/><rect x="104.04" y="144.88" width="1.00" height="1.00" fill="#ef4646"/><rect x="125.94" y="111.46" width="1.00" height="1.00" fill="#ef4646"/><rect x="120.85" y="128.35" width="1.00" height="1.00" fill="#ef4646"/><rect x="106.40" y="144.71" width="1.00" height="1.00" fill="#ef4646"/><rect x="75.04" y="187.33" width="1.00" height="1.00" fill="#ef4646"/><rect x="94.53" y="160.12" width="1.00" height="1.00" fill="#ef4646"/><rect x="76.33" y="189.78" width="1.00" height="1.00" fill="#ef4646"/><rect x="109.96" y="140.42" width="1.00" height="1.00" fill="#ef4646"/><rect x="106.03" y="141.26" width="1.00" height="1.00" fill="#ef4646"/><rect x="92.17" y="165.16" width="1.00" height="1.00" fill="#ef4646"/><rect x="117.38" y="131.89" width="1.00" height="1.00" fill="#ef4646"/><rect x="96.59" y="156.59" width="1.00" height="1.00" fill="#ef4646"/><rect x="115.64" y="133.83" width="1.00" height="1.00" fill="#ef4646"/><rect x="97.64" y="157.22" width="1.00" height="1.00" fill="#ef4646"/><rect x="78.23" y="180.88" width="1.00" height="1.00" fill="#ef4646"/><rect x="96.75" y="158.57" width="1.00" height="1.00" fill="#ef4646"/><rect x="129.24" y="113.10" width="1.00" height="1.00" fill="#ef4646"/><rect x="112.78" y="135.44" width="1.00" height="1.00" fill="#ef4646"/><rect x="82.31" y="176.79" width="1.00" height="1.00" fill="#ef4646"/><rect x="123.47" y="121.74" width="1.00" height="1.00" fill="#ef4646"/><rect x="79.42" y="176.23" width="1.00" height="1.00" fill="#ef4646"/><rect x="88.66" y="161.22" width="1.00" height="1.00" fill="#ef4646"/><rect x="82.10" y="174.56" width="1.00" height="1.00" fill="#ef4646"/><rect x="114.82" y="132.28" width="1.00" height="1.00" fill="#ef4646"/><rect x="103.61" y="142.54" width="1.00" height="1.00" fill="#ef4646"/><rect x="84.90" y="168.78" width="1.00" height="1.00" fill="#ef4646"/><rect x="78.74" y="181.23" width="1.00" height="1.00" fill="#ef4646"/><rect x="120.75" y="123.22" width="1.00" height="1.00" fill="#ef4646"/><rect x="89.80" y="161.67" width="1.00" height="1.00" fill="#ef4646"/><rect x="76.85" y="178.03" width="1.00" height="1.00" fill="#ef4646"/><rect x="97.86" y="157.22" width="1.00" height="1.00" fill="#ef4646"/><rect x="113.14" y="128.75" width="1.00" height="1.00" fill="#ef4646"/><rect x="96.17" y="159.73" width="1.00" height="1.00" fill="#ef4646"/><rect x="144.23" y="98.08" width="1.00" height="1.00" fill="#ef4646"/><rect x="80.71" y="179.87" width="1.00" height="1.00" fill="#ef4646"/><rect x="108.00" y="141.98" width="1.00" height="1.00" fill="#ef4646"/><rect x="107.29" y="137.31" width="1.00" height="1.00" fill="#ef4646"/><rect x="136.43" y="103.02" width="1.00" height="1.00" fill="#ef4646"/><rect x="119.74" y="125.30" width="1.00" height="1.00" fill="#ef4646"/><rect x="117.47" y="132.59" width="1.00" height="1.00" fill="#ef4646"/><rect x="76.68" y="180.30" width="1.00" height="1.00" fill="#ef4646"/><rect x="119.00" y="130.96" width="1.00" height="1.00" fill="#ef4646"/><rect x="78.07" y="175.94" width="1.00" height="1.00" fill="#ef4646"/><rect x="99.42" y="156.43" width="1.00" height="1.00" fill="#ef4646"/><rect x="79.76" y="182.59" width="1.00" height="1.00" fill="#ef4646"/><rect x="73.92" y="194.12" width="1.00" height="1.00" fill="#ef4646"/><rect x="80.13" y="180.64" width="1.00" height="1.00" fill="#ef4646"/><rect x="132.04" y="110.52" width="1.00" height="1.00" fill="#ef4646"/><rect x="122.10" y="122.01" width="1.00" height="1.00" fill="#ef4646"/><rect x="81.95" y="176.48" width="1.00" height="1.00" fill="#ef4646"/><rect x="113.05" y="136.82" width="1.00" height="1.00" fill="#ef4646"/><rect x="72.44" y="198.45" width="1.00" height="1.00" fill="#ef4646"/><rect x="80.34" y="180.22" width="1.00" height="1.00" fill="#ef4646"/><rect x="116.48" y="134.59" width="1.00" height="1.00" fill="#ef4646"/><rect x="101.76" y="149.12" width="1.00" height="1.00" fill="#ef4646"/><rect x="82.81" y="161.74" width="1.00" height="1.00" fill="#ef4646"/><rect x="144.26" y="93.05" width="1.00" height="1.00" fill="#ef4646"/><rect x="94.98" y="139.20" width="1.00" height="1.00" fill="#ef4646"/><rect x="80.82" y="177.63" width="1.00" height="1.00" fill="#ef4646"/><rect x="74.06" y="195.38" width="1.00" height="1.00" fill="#ef4646"/><rect x="141.32" y="99.75" width="1.00" height="1.00" fill="#ef4646"/><rect x="104.70" y="144.32" width="1.00" height="1.00" fill="#ef4646"/><rect x="121.51" y="123.61" width="1.00" height="1.00" fill="#ef4646"/><rect x="103.08" y="149.32" width="1.00" height="1.00" fill="#ef4646"/><rect x="75.59" y="185.70" width="1.00" height="1.00" fill="#ef4646"/><rect x="78.02" y="185.40" width="1.00" height="1.00" fill="#ef4646"/><rect x="81.25" y="177.57" width="1.00" height="1.00" fill="#ef4646"/><rect x="122.78" y="124.63" width="1.00" height="1.00" fill="#ef4646"/><rect x="72.64" y="196.68" width="1.00" height="1.00" fill="#ef4646"/><rect x="77.84" y="184.93" width="1.00" height="1.00" fill="#ef4646"/><rect x="99.50" y="137.83" width="1.00" height="1.00" fill="#ef4646"/><rect x="76.25" y="185.63" width="1.00" height="1.00" fill="#ef4646"/><rect x="102.11" y="147.50" width="1.00" height="1.00" fill="#ef4646"/><rect x="114.36" y="135.48" width="1.00" height="1.00" fill="#ef4646"/><rect x="121.11" y="127.65" width="1.00" height="1.00" fill="#ef4646"/><rect x="76.32" y="172.48" width="1.00" height="1.00" fill="#ef4646"/><rect x="79.83" y="176.41" width="1.00" height="1.00" fill="#ef4646"/><rect x="95.06" y="161.84" width="1.00" height="1.00" fill="#ef4646"/><rect x="115.49" y="131.73" width="1.00" height="1.00" fill="#ef4646"/><rect x="162.62" y="70.46" width="1.00" height="1.00" fill="#ef4646"/><rect x="94.09" y="156.12" width="1.00" height="1.00" fill="#ef4646"/><rect x="74.09" y="189.62" width="1.00" height="1.00" fill="#ef4646"/><rect x="72.65" y="193.60" width="1.00" height="1.00" fill="#ef4646"/><rect x="114.43" y="136.88" width="1.00" height="1.00" fill="#ef4646"/><rect x="125.95" y="108.80" width="1.00" height="1.00" fill="#ef4646"/><rect x="157.35" y="78.78" width="1.00" height="1.00" fill="#ef4646"/><rect x="79.48" y="179.47" width="1.00" height="1.00" fill="#ef4646"/><rect x="120.61" y="126.16" width="1.00" height="1.00" fill="#ef4646"/><rect x="132.51" y="109.34" width="1.00" height="1.00" fill="#ef4646"/><rect x="112.51" y="134.57" width="1.00" height="1.00" fill="#ef4646"/><rect x="111.29" y="139.26" width="1.00" height="1.00" fill="#ef4646"/><rect x="83.18" y="174.58" width="1.00" height="1.00" fill="#ef4646"/><rect x="113.22" y="137.61" width="1.00" height="1.00" fill="#ef4646"/><rect x="112.86" y="138.54" width="1.00" height="1.00" fill="#ef4646"/><rect x="85.45" y="172.65" width="1.00" height="1.00" fill="#ef4646"/><rect x="89.07" y="163.72" width="1.00" height="1.00" fill="#ef4646"/><rect x="108.62" y="142.18" width="1.00" height="1.00" fill="#ef4646"/><rect x="93.09" y="154.92" width="1.00" height="1.00" fill="#ef4646"/><rect x="115.54" y="125.89" width="1.00" height="1.00" fill="#ef4646"/><rect x="94.28" y="162.54" width="1.00" height="1.00" fill="#ef4646"/><rect x="108.85" y="141.95" width="1.00" height="1.00" fill="#ef4646"/><rect x="122.80" y="115.24" width="1.00" height="1.00" fill="#ef4646"/><rect x="100.02" y="153.93" width="1.00" height="1.00" fill="#ef4646"/><rect x="83.34" y="173.85" width="1.00" height="1.00" fill="#ef4646"/><rect x="73.83" y="185.97" width="1.00" height="1.00" fill="#ef4646"/><rect x="84.02" y="171.19" width="1.00" height="1.00" fill="#ef4646"/><rect x="122.44" y="103.84" width="1.00" height="1.00" fill="#ef4646"/><rect x="74.26" y="191.10" width="1.00" height="1.00" fill="#ef4646"/><rect x="94.81" y="158.04" width="1.00" height="1.00" fill="#ef4646"/><rect x="82.58" y="176.81" width="1.00" height="1.00" fill="#ef4646"/><rect x="100.60" y="153.39" width="1.00" height="1.00" fill="#ef4646"/><rect x="93.27" y="161.23" width="1.00" height="1.00" fill="#ef4646"/><rect x="94.20" y="156.69" width="1.00" height="1.00" fill="#ef4646"/><rect x="85.19" y="170.85" width="1.00" height="1.00" fill="#ef4646"/><rect x="114.77" y="134.05" width="1.00" height="1.00" fill="#ef4646"/><rect x="127.76" y="98.72" width="1.00" height="1.00" fill="#ef4646"/><rect x="132.38" y="102.02" width="1.00" height="1.00" fill="#ef4646"/><rect x="87.85" y="167.82" width="1.00" height="1.00" fill="#ef4646"/><rect x="76.17" y="186.08" width="1.00" height="1.00" fill="#ef4646"/><rect x="128.97" y="110.06" width="1.00" height="1.00" fill="#ef4646"/><rect x="116.68" y="133.15" width="1.00" height="1.00" fill="#ef4646"/><rect x="85.23" y="166.38" width="1.00" height="1.00" fill="#ef4646"/><rect x="78.92" y="178.47" width="1.00" height="1.00" fill="#ef4646"/><rect x="113.89" y="137.36" width="1.00" height="1.00" fill="#ef4646"/><rect x="90.86" y="165.19" width="1.00" height="1.00" fill="#ef4646"/><rect x="103.54" y="147.56" width="1.00" height="1.00" fill="#ef4646"/><rect x="83.23" y="174.62" width="1.00" height="1.00" fill="#ef4646"/><rect x="110.83" y="139.94" width="1.00" height="1.00" fill="#ef4646"/><rect x="122.56" y="111.95" width="1.00" height="1.00" fill="#ef4646"/><rect x="92.35" y="146.60" width="1.00" height="1.00" fill="#ef4646"/><rect x="83.16" y="175.60" width="1.00" height="1.00" fill="#ef4646"/><rect x="110.12" y="139.66" width="1.00" height="1.00" fill="#ef4646"/><rect x="98.08" y="156.45" width="1.00" height="1.00" fill="#ef4646"/><rect x="115.51" y="132.60" width="1.00" height="1.00" fill="#ef4646"/><rect x="75.66" y="190.06" width="1.00" height="1.00" fill="#ef4646"/><rect x="123.76" y="122.42" width="1.00" height="1.00" fill="#ef4646"/><rect x="94.73" y="149.71" width="1.00" height="1.00" fill="#ef4646"/><rect x="95.59" y="156.27" width="1.00" height="1.00" fill="#ef4646"/><rect x="102.92" y="147.91" width="1.00" height="1.00" fill="#ef4646"/><rect x="118.51" y="119.53" width="1.00" height="1.00" fill="#ef4646"/><rect x="124.79" y="121.24" width="1.00" height="1.00" fill="#ef4646"/><rect x="73.22" y="183.57" width="1.00" height="1.00" fill="#ef4646"/><rect x="75.64" y="191.08" width="1.00" height="1.00" fill="#ef4646"/><rect x="80.44" y="176.11" width="1.00" height="1.00" fill="#ef4646"/><rect x="93.55" y="163.04" width="1.00" height="1.00" fill="#ef4646"/><rect x="156.76" y="74.66" width="1.00" height="1.00" fill="#ef4646"/><rect x="117.70" y="127.01" width="1.00" height="1.00" fill="#ef4646"/><rect x="126.29" y="118.36" width="1.00" height="1.00" fill="#ef4646"/><rect x="120.65" y="128.54" width="1.00" height="1.00" fill="#ef4646"/><rect x="105.17" y="146.63" width="1.00" height="1.00" fill="#ef4646"/><rect x="146.80" y="73.95" width="1.00" height="1.00" fill="#ef4646"/><rect x="118.03" y="127.98" width="1.00" height="1.00" fill="#ef4646"/><rect x="161.67" y="75.08" width="1.00" height="1.00" fill="#ef4646"/><rect x="74.02" y="186.29" width="1.00" height="1.00" fill="#ef4646"/><rect x="107.36" y="143.13" width="1.00" height="1.00" fill="#ef4646"/><rect x="112.39" y="138.23" width="1.00" height="1.00" fill="#ef4646"/><rect x="95.26" y="161.36" width="1.00" height="1.00" fill="#ef4646"/><rect x="89.90" y="166.00" width="1.00" height="1.00" fill="#ef4646"/><rect x="116.56" y="134.62" width="1.00" height="1.00" fill="#ef4646"/><rect x="78.39" y="174.94" width="1.00" height="1.00" fill="#ef4646"/><rect x="103.40" y="148.13" width="1.00" height="1.00" fill="#ef4646"/><rect x="72.87" y="190.19" width="1.00" height="1.00" fill="#ef4646"/><rect x="98.81" y="155.86" width="1.00" height="1.00" fill="#ef4646"/><rect x="87.52" y="169.16" width="1.00" height="1.00" fill="#ef4646"/><rect x="122.04" y="117.33" width="1.00" height="1.00" fill="#ef4646"/><rect x="80.67" y="179.55" width="1.00" height="1.00" fill="#ef4646"/><rect x="78.88" y="184.63" width="1.00" height="1.00" fill="#ef4646"/><rect x="93.84" y="160.97" width="1.00" height="1.00" fill="#ef4646"/><rect x="116.32" y="133.38" width="1.00" height="1.00" fill="#ef4646"/><rect x="94.21" y="160.92" width="1.00" height="1.00" fill="#ef4646"/><rect x="102.03" y="145.36" width="1.00" height="1.00" fill="#ef4646"/><rect x="103.24" y="140.90" width="1.00" height="1.00" fill="#ef4646"/><rect x="91.26" y="165.96" width="1.00" height="1.00" fill="#ef4646"/><rect x="111.69" y="138.65" width="1.00" height="1.00" fill="#ef4646"/><rect x="89.94" y="162.88" width="1.00" height="1.00" fill="#ef4646"/><rect x="117.47" y="129.90" width="1.00" height="1.00" fill="#ef4646"/><rect x="122.33" y="126.02" width="1.00" height="1.00" fill="#ef4646"/><rect x="119.89" y="125.69" width="1.00" height="1.00" fill="#ef4646"/><rect x="116.87" y="129.74" width="1.00" height="1.00" fill="#ef4646"/><rect x="107.92" y="141.67" width="1.00" height="1.00" fill="#ef4646"/><rect x="131.61" y="111.49" width="1.00" height="1.00" fill="#ef4646"/><rect x="74.26" y="182.14" width="1.00" height="1.00" fill="#ef4646"/><rect x="75.36" y="188.06" width="1.00" height="1.00" fill="#ef4646"/><rect x="108.84" y="142.66" width="1.00" height="1.00" fill="#ef4646"/><rect x="122.26" y="125.87" width="1.00" height="1.00" fill="#ef4646"/><rect x="103.19" y="141.10" width="1.00" height="1.00" fill="#ef4646"/><rect x="76.03" y="185.93" width="1.00" height="1.00" fill="#ef4646"/><rect x="117.21" y="132.74" width="1.00" height="1.00" fill="#ef4646"/><rect x="120.51" y="120.43" width="1.00" height="1.00" fill="#ef4646"/><rect x="99.48" y="152.15" width="1.00" height="1.00" fill="#ef4646"/><rect x="86.75" y="171.10" width="1.00" height="1.00" fill="#ef4646"/><rect x="94.48" y="156.23" width="1.00" height="1.00" fill="#ef4646"/><rect x="101.25" y="152.45" width="1.00" height="1.00" fill="#ef4646"/><rect x="73.79" y="193.49" width="1.00" height="1.00" fill="#ef4646"/><rect x="100.48" y="150.64" width="1.00" height="1.00" fill="#ef4646"/><rect x="94.99" y="147.47" width="1.00" height="1.00" fill="#ef4646"/><rect x="90.13" y="166.81" width="1.00" height="1.00" fill="#ef4646"/><rect x="92.48" y="153.75" width="1.00" height="1.00" fill="#ef4646"/><rect x="98.73" y="152.81" width="1.00" height="1.00" fill="#ef4646"/><rect x="121.20" y="127.59" width="1.00" height="1.00" fill="#ef4646"/><rect x="101.95" y="140.52" width="1.00" height="1.00" fill="#ef4646"/><rect x="113.17" y="133.58" width="1.00" height="1.00" fill="#ef4646"/><rect x="117.62" y="133.05" width="1.00" height="1.00" fill="#ef4646"/><rect x="106.38" y="144.47" width="1.00" height="1.00" fill="#ef4646"/><rect x="108.75" y="142.06" width="1.00" height="1.00" fill="#ef4646"/><rect x="101.07" y="150.37" width="1.00" height="1.00" fill="#ef4646"/><rect x="92.24" y="159.29" width="1.00" height="1.00" fill="#ef4646"/><rect x="96.39" y="160.15" width="1.00" height="1.00" fill="#ef4646"/><rect x="125.17" y="120.99" width="1.00" height="1.00" fill="#ef4646"/><rect x="129.72" y="111.83" width="1.00" height="1.00" fill="#ef4646"/><rect x="140.71" y="94.00" width="1.00" height="1.00" fill="#ef4646"/><rect x="129.73" y="96.95" width="1.00" height="1.00" fill="#ef4646"/><rect x="146.63" y="88.88" width="1.00" height="1.00" fill="#ef4646"/><rect x="121.77" y="123.82" width="1.00" height="1.00" fill="#ef4646"/><rect x="117.49" y="116.30" width="1.00" height="1.00" fill="#ef4646"/><rect x="74.42" y="192.27" width="1.00" height="1.00" fill="#ef4646"/><rect x="98.50" y="157.09" width="1.00" height="1.00" fill="#ef4646"/><rect x="105.86" y="141.41" width="1.00" height="1.00" fill="#ef4646"/><rect x="79.79" y="180.55" width="1.00" height="1.00" fill="#ef4646"/><rect x="129.35" y="105.43" width="1.00" height="1.00" fill="#ef4646"/><rect x="93.80" y="152.87" width="1.00" height="1.00" fill="#ef4646"/><rect x="80.14" y="176.50" width="1.00" height="1.00" fill="#ef4646"/><rect x="82.22" y="170.28" width="1.00" height="1.00" fill="#ef4646"/><rect x="90.49" y="160.83" width="1.00" height="1.00" fill="#ef4646"/><rect x="101.34" y="147.85" width="1.00" height="1.00" fill="#ef4646"/><rect x="127.78" y="112.98" width="1.00" height="1.00" fill="#ef4646"/><rect x="96.86" y="158.25" width="1.00" height="1.00" fill="#ef4646"/><rect x="95.31" y="155.80" width="1.00" height="1.00" fill="#ef4646"/><rect x="73.52" y="189.93" width="1.00" height="1.00" fill="#ef4646"/><rect x="74.49" y="190.41" width="1.00" height="1.00" fill="#ef4646"/><rect x="112.49" y="135.18" width="1.00" height="1.00" fill="#ef4646"/><rect x="114.60" y="132.63" width="1.00" height="1.00" fill="#ef4646"/><rect x="132.45" y="103.36" width="1.00" height="1.00" fill="#ef4646"/><rect x="110.14" y="134.50" width="1.00" height="1.00" fill="#ef4646"/><rect x="94.80" y="160.52" width="1.00" height="1.00" fill="#ef4646"/><rect x="80.43" y="179.74" width="1.00" height="1.00" fill="#ef4646"/><rect x="124.24" y="121.38" width="1.00" height="1.00" fill="#ef4646"/><rect x="140.00" y="80.56" width="1.00" height="1.00" fill="#ef4646"/><rect x="116.11" y="135.13" width="1.00" height="1.00" fill="#ef4646"/><rect x="106.05" y="140.46" width="1.00" height="1.00" fill="#ef4646"/><rect x="128.72" y="114.95" width="1.00" height="1.00" fill="#ef4646"/><rect x="76.88" y="184.19" width="1.00" height="1.00" fill="#ef4646"/><rect x="82.58" y="172.47" width="1.00" height="1.00" fill="#ef4646"/><rect x="80.99" y="176.51" width="1.00" height="1.00" fill="#ef4646"/><rect x="93.30" y="159.49" width="1.00" height="1.00" fill="#ef4646"/><rect x="92.54" y="148.05" width="1.00" height="1.00" fill="#ef4646"/><rect x="114.24" y="132.14" width="1.00" height="1.00" fill="#ef4646"/><rect x="97.39" y="159.01" width="1.00" height="1.00" fill="#ef4646"/><rect x="86.05" y="170.95" width="1.00" height="1.00" fill="#ef4646"/><rect x="78.20" y="179.32" width="1.00" height="1.00" fill="#ef4646"/>
<text x="180.04" y="144.50" font-size="10" fill="#c4c4c4" stroke="#c4c4c4" textLength="31.21" lengthAdjust="spacingAndGlyphs" >nosig</text>
<text x="180.38" y="153.50" font-size="10" fill="#ef3b3b" stroke="#ef3b3b" textLength="12.48" lengthAdjust="spacingAndGlyphs" >up</text>
<text x="180.56" y="165.60" font-size="10" fill="#1c6eb7" stroke="#1c6eb7" textLength="30.67" lengthAdjust="spacingAndGlyphs" >down</text>
<rect x="176.1" y="141.5" width="1.4" height="1.4" fill="#d0d0d0"/>
<rect x="176.1" y="151.10000000000002" width="1.4" height="1.4" fill="#f4a0a0"/>
<rect x="176.1" y="161.9" width="1.4" height="1.4" fill="#1c6eb7"/>
<rect x="372.20" y="74.50" width="31.40" height="163.50" fill="#6a94cd"/><rect x="372.20" y="74.50" width="31.40" height="17.50" fill="#7ca1d5"/><rect x="372.20" y="92.00" width="31.40" height="9.00" fill="#6892cc"/><rect x="372.20" y="103.50" width="31.40" height="4.50" fill="#a3bde2"/><rect x="372.20" y="108.00" width="31.40" height="4.60" fill="#8cacda"/><rect x="372.20" y="129.50" width="31.40" height="3.50" fill="#8eaedb"/><rect x="372.20" y="137.70" width="31.40" height="2.30" fill="#94b3dd"/><rect x="372.20" y="159.00" width="31.40" height="7.00" fill="#4077c0"/><rect x="372.20" y="166.00" width="31.40" height="41.60" fill="#6690cb"/><rect x="372.20" y="207.60" width="31.40" height="19.40" fill="#5283c6"/><rect x="372.20" y="227.00" width="31.40" height="5.60" fill="#b0c7e6"/><rect x="372.20" y="232.50" width="31.40" height="5.50" fill="#6f98cf"/><rect x="372.20" y="238.00" width="31.40" height="3.90" fill="#e8474a"/><rect x="372.20" y="241.90" width="31.40" height="169.70" fill="#f18c8f"/><rect x="372.20" y="300.00" width="31.40" height="34.50" fill="#f0878a"/><rect x="372.20" y="334.50" width="31.40" height="13.50" fill="#ec6366"/><rect x="372.20" y="348.00" width="31.40" height="8.00" fill="#fad2d4"/><rect x="372.20" y="356.00" width="31.40" height="2.30" fill="#b7cbe7"/><rect x="372.20" y="358.30" width="31.40" height="5.70" fill="#f4f4f8"/><rect x="372.20" y="364.00" width="31.40" height="19.00" fill="#f4a0a3"/><rect x="372.20" y="383.00" width="31.40" height="23.00" fill="#f6adb0"/><rect x="372.20" y="406.00" width="31.40" height="5.60" fill="#fac5c7"/><rect x="372.20" y="81.82" width="31.40" height="1.06" fill="#8aabd9"/><rect x="372.20" y="85.17" width="31.40" height="1.23" fill="#779bcd"/><rect x="372.20" y="86.40" width="31.40" height="2.09" fill="#7396c6"/><rect x="372.20" y="88.49" width="31.40" height="1.43" fill="#89aad9"/><rect x="372.20" y="89.92" width="31.40" height="2.08" fill="#85a8d8"/><rect x="372.20" y="93.28" width="31.40" height="1.25" fill="#759cd1"/><rect x="372.20" y="94.53" width="31.40" height="1.42" fill="#799fd2"/><rect x="372.20" y="95.95" width="31.40" height="2.74" fill="#799ed2"/><rect x="372.20" y="103.38" width="31.40" height="0.12" fill="#6891c9"/><rect x="372.20" y="103.50" width="31.40" height="1.33" fill="#99b1d4"/><rect x="372.20" y="107.44" width="31.40" height="0.56" fill="#aac2e4"/><rect x="372.20" y="108.00" width="31.40" height="1.96" fill="#8cacd9"/><rect x="372.20" y="109.96" width="31.40" height="2.41" fill="#99b5de"/><rect x="372.20" y="112.60" width="31.40" height="2.69" fill="#749bd0"/><rect x="372.20" y="115.29" width="31.40" height="1.73" fill="#638abf"/><rect x="372.20" y="117.02" width="31.40" height="1.09" fill="#7aa0d2"/><rect x="372.20" y="122.37" width="31.40" height="1.69" fill="#6b95cd"/><rect x="372.20" y="124.06" width="31.40" height="2.55" fill="#739ad0"/><rect x="372.20" y="129.50" width="31.40" height="1.18" fill="#91b0dc"/><rect x="372.20" y="130.68" width="31.40" height="2.32" fill="#9ab6df"/><rect x="372.20" y="133.00" width="31.40" height="2.09" fill="#6790c8"/><rect x="372.20" y="135.09" width="31.40" height="1.35" fill="#658dc3"/><rect x="372.20" y="137.70" width="31.40" height="1.32" fill="#a0bce1"/><rect x="372.20" y="139.02" width="31.40" height="0.98" fill="#8eacd5"/><rect x="372.20" y="142.19" width="31.40" height="1.91" fill="#638bc0"/><rect x="372.20" y="144.10" width="31.40" height="2.83" fill="#6a94cd"/><rect x="372.20" y="146.93" width="31.40" height="2.68" fill="#729ad0"/><rect x="372.20" y="152.51" width="31.40" height="2.58" fill="#6993cb"/><rect x="372.20" y="156.38" width="31.40" height="1.59" fill="#7ca1d3"/><rect x="372.20" y="159.00" width="31.40" height="1.91" fill="#4b7ec3"/><rect x="372.20" y="160.91" width="31.40" height="1.96" fill="#3f75bd"/><rect x="372.20" y="162.87" width="31.40" height="1.29" fill="#5687c7"/><rect x="372.20" y="166.00" width="31.40" height="2.00" fill="#6087bf"/><rect x="372.20" y="169.54" width="31.40" height="2.73" fill="#7198cf"/><rect x="372.20" y="178.88" width="31.40" height="1.56" fill="#7097ce"/><rect x="372.20" y="180.44" width="31.40" height="2.38" fill="#769cd1"/><rect x="372.20" y="182.83" width="31.40" height="2.30" fill="#5f86bd"/><rect x="372.20" y="185.13" width="31.40" height="2.09" fill="#6c95cd"/><rect x="372.20" y="203.00" width="31.40" height="2.04" fill="#6189c1"/><rect x="372.20" y="219.89" width="31.40" height="2.44" fill="#4e7dbc"/><rect x="372.20" y="225.65" width="31.40" height="1.35" fill="#5282c5"/><rect x="372.20" y="227.00" width="31.40" height="1.45" fill="#a7bcda"/><rect x="372.20" y="228.45" width="31.40" height="1.63" fill="#a8bedc"/><rect x="372.20" y="230.09" width="31.40" height="1.07" fill="#adc4e2"/><rect x="372.20" y="231.16" width="31.40" height="1.34" fill="#a9bfdd"/><rect x="372.20" y="232.50" width="31.40" height="0.10" fill="#6d96cc"/><rect x="372.20" y="232.60" width="31.40" height="1.56" fill="#6990c4"/><rect x="372.20" y="234.16" width="31.40" height="2.66" fill="#688ec1"/><rect x="372.20" y="236.82" width="31.40" height="1.18" fill="#7199d0"/><rect x="372.20" y="238.00" width="31.40" height="1.68" fill="#eb5b5e"/><rect x="372.20" y="239.68" width="31.40" height="2.22" fill="#ea5558"/><rect x="372.20" y="241.90" width="31.40" height="2.28" fill="#e58588"/><rect x="372.20" y="244.18" width="31.40" height="2.19" fill="#f3999b"/><rect x="372.20" y="251.01" width="31.40" height="1.00" fill="#f18e91"/><rect x="372.20" y="252.02" width="31.40" height="2.23" fill="#f19092"/><rect x="372.20" y="254.25" width="31.40" height="2.78" fill="#ef8b8e"/><rect x="372.20" y="257.03" width="31.40" height="1.45" fill="#f3999c"/><rect x="372.20" y="260.24" width="31.40" height="2.83" fill="#e9878a"/><rect x="372.20" y="263.07" width="31.40" height="2.96" fill="#ee8a8d"/><rect x="372.20" y="267.67" width="31.40" height="1.98" fill="#f08c8f"/><rect x="372.20" y="270.90" width="31.40" height="1.89" fill="#f29497"/><rect x="372.20" y="272.78" width="31.40" height="2.65" fill="#f18d90"/><rect x="372.20" y="276.98" width="31.40" height="2.56" fill="#e9878a"/><rect x="372.20" y="287.84" width="31.40" height="1.60" fill="#eb898c"/><rect x="372.20" y="289.44" width="31.40" height="1.59" fill="#f08b8e"/><rect x="372.20" y="292.76" width="31.40" height="2.18" fill="#e8878a"/><rect x="372.20" y="296.85" width="31.40" height="2.78" fill="#e08285"/><rect x="372.20" y="299.62" width="31.40" height="0.38" fill="#f18e91"/><rect x="372.20" y="304.38" width="31.40" height="1.77" fill="#f19194"/><rect x="372.20" y="306.15" width="31.40" height="1.39" fill="#f19193"/><rect x="372.20" y="308.68" width="31.40" height="2.39" fill="#e98386"/><rect x="372.20" y="313.63" width="31.40" height="1.29" fill="#f0888b"/><rect x="372.20" y="314.91" width="31.40" height="2.00" fill="#e48083"/><rect x="372.20" y="319.08" width="31.40" height="1.14" fill="#f19093"/><rect x="372.20" y="326.81" width="31.40" height="2.40" fill="#f19194"/><rect x="372.20" y="333.55" width="31.40" height="0.95" fill="#f29396"/><rect x="372.20" y="335.80" width="31.40" height="1.83" fill="#ed686a"/><rect x="372.20" y="337.63" width="31.40" height="1.09" fill="#e86164"/><rect x="372.20" y="338.71" width="31.40" height="1.14" fill="#ec6669"/><rect x="372.20" y="342.34" width="31.40" height="1.27" fill="#e66063"/><rect x="372.20" y="343.61" width="31.40" height="2.20" fill="#ee7376"/><rect x="372.20" y="345.81" width="31.40" height="1.75" fill="#ed6a6d"/><rect x="372.20" y="352.12" width="31.40" height="1.53" fill="#f1cbcc"/><rect x="372.20" y="353.65" width="31.40" height="2.35" fill="#edc7c9"/><rect x="372.20" y="356.00" width="31.40" height="1.47" fill="#bbcee8"/><rect x="372.20" y="358.30" width="31.40" height="2.31" fill="#f4f4f8"/><rect x="372.20" y="360.61" width="31.40" height="1.18" fill="#f4f4f8"/><rect x="372.20" y="363.27" width="31.40" height="0.73" fill="#f5f5f8"/><rect x="372.20" y="365.06" width="31.40" height="1.11" fill="#f5aaad"/><rect x="372.20" y="366.17" width="31.40" height="2.36" fill="#e7979a"/><rect x="372.20" y="371.47" width="31.40" height="2.64" fill="#f4a3a6"/><rect x="372.20" y="374.12" width="31.40" height="1.71" fill="#ee9c9f"/><rect x="372.20" y="375.82" width="31.40" height="2.23" fill="#f09da0"/><rect x="372.20" y="383.00" width="31.40" height="2.03" fill="#f6aeb1"/><rect x="372.20" y="385.03" width="31.40" height="2.48" fill="#e8a3a6"/><rect x="372.20" y="387.52" width="31.40" height="1.07" fill="#e6a2a4"/><rect x="372.20" y="388.58" width="31.40" height="2.78" fill="#f7b2b5"/><rect x="372.20" y="391.36" width="31.40" height="1.00" fill="#f7b5b7"/><rect x="372.20" y="392.36" width="31.40" height="2.24" fill="#f5acaf"/><rect x="372.20" y="394.60" width="31.40" height="1.20" fill="#eaa5a7"/><rect x="372.20" y="395.80" width="31.40" height="1.75" fill="#f7b4b7"/><rect x="372.20" y="397.55" width="31.40" height="1.30" fill="#eea7aa"/><rect x="372.20" y="398.85" width="31.40" height="1.32" fill="#eda6a9"/><rect x="372.20" y="400.18" width="31.40" height="1.96" fill="#f7b5b8"/><rect x="372.20" y="410.76" width="31.40" height="0.84" fill="#efbdbe"/><rect x="403.30" y="74.50" width="31.30" height="30.50" fill="#779dd2"/><rect x="403.30" y="105.00" width="31.30" height="133.00" fill="#6a94cd"/><rect x="403.30" y="91.00" width="31.30" height="3.50" fill="#a8c0e2"/><rect x="403.30" y="105.00" width="31.30" height="7.00" fill="#3b74bf"/><rect x="403.30" y="134.00" width="31.30" height="4.50" fill="#4f82c5"/><rect x="403.30" y="162.50" width="31.30" height="3.50" fill="#93b2dd"/><rect x="403.30" y="166.00" width="31.30" height="29.70" fill="#6893cc"/><rect x="403.30" y="194.00" width="31.30" height="13.60" fill="#5a88c7"/><rect x="403.30" y="207.60" width="31.30" height="20.40" fill="#6d96ce"/><rect x="403.30" y="228.00" width="31.30" height="10.00" fill="#3a73be"/><rect x="403.30" y="238.00" width="31.30" height="4.60" fill="#fde3e4"/><rect x="403.30" y="242.60" width="31.30" height="169.00" fill="#ef7275"/><rect x="403.30" y="334.50" width="31.30" height="13.50" fill="#f6adb0"/><rect x="403.30" y="348.00" width="31.30" height="8.00" fill="#ec5f62"/><rect x="403.30" y="356.00" width="31.30" height="8.00" fill="#e5383b"/><rect x="403.30" y="364.00" width="31.30" height="19.00" fill="#ee6c6f"/><rect x="403.30" y="383.00" width="31.30" height="23.00" fill="#eb5a5d"/><rect x="403.30" y="406.00" width="31.30" height="5.60" fill="#e6494c"/><rect x="403.30" y="74.50" width="31.30" height="1.05" fill="#7093c5"/><rect x="403.30" y="77.35" width="31.30" height="1.73" fill="#769cd1"/><rect x="403.30" y="80.65" width="31.30" height="2.44" fill="#7397ca"/><rect x="403.30" y="85.43" width="31.30" height="2.29" fill="#87a8d7"/><rect x="403.30" y="87.72" width="31.30" height="1.01" fill="#80a4d5"/><rect x="403.30" y="88.73" width="31.30" height="1.82" fill="#799ed3"/><rect x="403.30" y="90.55" width="31.30" height="0.45" fill="#749acd"/><rect x="403.30" y="91.00" width="31.30" height="1.19" fill="#b0c6e5"/><rect x="403.30" y="94.17" width="31.30" height="0.33" fill="#9db4d3"/><rect x="403.30" y="94.50" width="31.30" height="1.79" fill="#7397cb"/><rect x="403.30" y="96.29" width="31.30" height="1.81" fill="#6f93c4"/><rect x="403.30" y="99.18" width="31.30" height="1.36" fill="#759bcf"/><rect x="403.30" y="100.54" width="31.30" height="2.06" fill="#7499cc"/><rect x="403.30" y="102.61" width="31.30" height="1.22" fill="#85a7d7"/><rect x="403.30" y="105.00" width="31.30" height="1.43" fill="#3d75c0"/><rect x="403.30" y="106.43" width="31.30" height="1.97" fill="#3a72bc"/><rect x="403.30" y="110.65" width="31.30" height="1.35" fill="#3b73be"/><rect x="403.30" y="112.00" width="31.30" height="2.65" fill="#648cc2"/><rect x="403.30" y="114.65" width="31.30" height="1.62" fill="#749bd0"/><rect x="403.30" y="116.28" width="31.30" height="2.64" fill="#648cc2"/><rect x="403.30" y="118.92" width="31.30" height="1.16" fill="#648bc1"/><rect x="403.30" y="120.08" width="31.30" height="1.86" fill="#668fc5"/><rect x="403.30" y="123.06" width="31.30" height="1.10" fill="#678fc7"/><rect x="403.30" y="124.16" width="31.30" height="1.75" fill="#6992cb"/><rect x="403.30" y="131.95" width="31.30" height="2.05" fill="#759cd1"/><rect x="403.30" y="140.04" width="31.30" height="1.76" fill="#638bc0"/><rect x="403.30" y="141.80" width="31.30" height="1.34" fill="#7099cf"/><rect x="403.30" y="143.14" width="31.30" height="1.57" fill="#739bd0"/><rect x="403.30" y="144.71" width="31.30" height="2.11" fill="#638ac0"/><rect x="403.30" y="146.82" width="31.30" height="1.26" fill="#779dd1"/><rect x="403.30" y="150.98" width="31.30" height="1.46" fill="#6891c9"/><rect x="403.30" y="152.45" width="31.30" height="1.66" fill="#6d96ce"/><rect x="403.30" y="156.76" width="31.30" height="1.19" fill="#658dc3"/><rect x="403.30" y="157.95" width="31.30" height="2.42" fill="#7a9fd2"/><rect x="403.30" y="160.37" width="31.30" height="2.13" fill="#6790c8"/><rect x="403.30" y="162.50" width="31.30" height="2.83" fill="#92b0db"/><rect x="403.30" y="166.00" width="31.30" height="2.87" fill="#799fd2"/><rect x="403.30" y="168.87" width="31.30" height="2.19" fill="#739bd0"/><rect x="403.30" y="171.06" width="31.30" height="1.84" fill="#799fd2"/><rect x="403.30" y="172.90" width="31.30" height="1.07" fill="#6893cb"/><rect x="403.30" y="173.97" width="31.30" height="2.76" fill="#648dc4"/><rect x="403.30" y="176.73" width="31.30" height="1.55" fill="#6a95cd"/><rect x="403.30" y="180.00" width="31.30" height="1.48" fill="#648ec5"/><rect x="403.30" y="187.15" width="31.30" height="1.80" fill="#749cd0"/><rect x="403.30" y="188.95" width="31.30" height="1.98" fill="#638cc2"/><rect x="403.30" y="192.13" width="31.30" height="1.87" fill="#739bd0"/><rect x="403.30" y="195.70" width="31.30" height="2.60" fill="#547eb9"/><rect x="403.30" y="198.30" width="31.30" height="2.02" fill="#5682be"/><rect x="403.30" y="200.32" width="31.30" height="1.78" fill="#547fb9"/><rect x="403.30" y="202.10" width="31.30" height="1.62" fill="#5a88c6"/><rect x="403.30" y="203.73" width="31.30" height="2.41" fill="#6d96cd"/><rect x="403.30" y="212.06" width="31.30" height="1.73" fill="#739bd0"/><rect x="403.30" y="213.78" width="31.30" height="2.04" fill="#668dc1"/><rect x="403.30" y="215.83" width="31.30" height="1.17" fill="#7098cf"/><rect x="403.30" y="230.68" width="31.30" height="2.22" fill="#3b74be"/><rect x="403.30" y="232.90" width="31.30" height="2.79" fill="#5083c5"/><rect x="403.30" y="235.69" width="31.30" height="2.09" fill="#366bb0"/><rect x="403.30" y="237.78" width="31.30" height="0.22" fill="#4178c0"/><rect x="403.30" y="240.80" width="31.30" height="1.80" fill="#efd6d7"/><rect x="403.30" y="242.60" width="31.30" height="2.38" fill="#f0797c"/><rect x="403.30" y="246.73" width="31.30" height="1.43" fill="#e76e71"/><rect x="403.30" y="251.73" width="31.30" height="2.53" fill="#e06b6e"/><rect x="403.30" y="259.15" width="31.30" height="1.83" fill="#ef7376"/><rect x="403.30" y="260.99" width="31.30" height="2.81" fill="#e76e71"/><rect x="403.30" y="266.01" width="31.30" height="1.37" fill="#e26c6f"/><rect x="403.30" y="269.51" width="31.30" height="1.37" fill="#ef7578"/><rect x="403.30" y="273.17" width="31.30" height="2.46" fill="#ee7275"/><rect x="403.30" y="283.68" width="31.30" height="2.68" fill="#e16b6e"/><rect x="403.30" y="286.36" width="31.30" height="1.39" fill="#e16b6e"/><rect x="403.30" y="300.44" width="31.30" height="1.21" fill="#e06b6e"/><rect x="403.30" y="301.65" width="31.30" height="1.41" fill="#ee7174"/><rect x="403.30" y="305.42" width="31.30" height="1.17" fill="#ef7376"/><rect x="403.30" y="306.59" width="31.30" height="1.75" fill="#ef7578"/><rect x="403.30" y="312.08" width="31.30" height="2.89" fill="#f07b7e"/><rect x="403.30" y="314.97" width="31.30" height="2.44" fill="#e26c6f"/><rect x="403.30" y="317.41" width="31.30" height="1.96" fill="#f07a7d"/><rect x="403.30" y="319.37" width="31.30" height="2.84" fill="#e86f71"/><rect x="403.30" y="324.20" width="31.30" height="2.58" fill="#e86f72"/><rect x="403.30" y="328.45" width="31.30" height="2.04" fill="#ec7174"/><rect x="403.30" y="331.97" width="31.30" height="1.15" fill="#e16b6e"/><rect x="403.30" y="334.50" width="31.30" height="2.08" fill="#f7b6b8"/><rect x="403.30" y="336.58" width="31.30" height="1.18" fill="#f7b3b6"/><rect x="403.30" y="338.78" width="31.30" height="1.72" fill="#eda7aa"/><rect x="403.30" y="340.50" width="31.30" height="1.92" fill="#f6adb0"/><rect x="403.30" y="342.42" width="31.30" height="1.11" fill="#f7b6b9"/><rect x="403.30" y="343.52" width="31.30" height="1.89" fill="#e7a3a5"/><rect x="403.30" y="346.97" width="31.30" height="1.03" fill="#e6a2a5"/><rect x="403.30" y="349.79" width="31.30" height="1.87" fill="#ee6e71"/><rect x="403.30" y="353.95" width="31.30" height="1.07" fill="#ed696c"/><rect x="403.30" y="365.84" width="31.30" height="2.99" fill="#eb6b6e"/><rect x="403.30" y="368.83" width="31.30" height="1.54" fill="#e7696c"/><rect x="403.30" y="370.37" width="31.30" height="2.33" fill="#e3676a"/><rect x="403.30" y="372.71" width="31.30" height="1.92" fill="#ea6a6d"/><rect x="403.30" y="377.42" width="31.30" height="1.39" fill="#ef787a"/><rect x="403.30" y="378.81" width="31.30" height="2.92" fill="#e26669"/><rect x="403.30" y="383.00" width="31.30" height="2.88" fill="#e05659"/><rect x="403.30" y="385.88" width="31.30" height="1.86" fill="#ec6467"/><rect x="403.30" y="389.48" width="31.30" height="1.30" fill="#ed6d6f"/><rect x="403.30" y="390.78" width="31.30" height="2.40" fill="#de5558"/><rect x="403.30" y="393.19" width="31.30" height="2.29" fill="#e7585b"/><rect x="403.30" y="395.47" width="31.30" height="1.96" fill="#ed6c6f"/><rect x="403.30" y="397.43" width="31.30" height="1.48" fill="#e3575a"/><rect x="403.30" y="401.00" width="31.30" height="1.27" fill="#ec6265"/><rect x="403.30" y="403.29" width="31.30" height="1.84" fill="#ec5e61"/><rect x="403.30" y="405.12" width="31.30" height="0.88" fill="#eb5a5d"/><rect x="403.30" y="406.00" width="31.30" height="1.08" fill="#e1474a"/><rect x="403.30" y="407.08" width="31.30" height="1.04" fill="#e4484b"/><rect x="403.30" y="410.43" width="31.30" height="1.17" fill="#e75255"/><rect x="434.30" y="74.50" width="31.30" height="4.00" fill="#e1e9f5"/><rect x="434.30" y="78.50" width="31.30" height="5.50" fill="#c5d5ec"/><rect x="434.30" y="84.00" width="31.30" height="11.60" fill="#b0c6e5"/><rect x="434.30" y="95.60" width="31.30" height="7.10" fill="#e73b3e"/><rect x="434.30" y="102.70" width="31.30" height="31.30" fill="#e9474a"/><rect x="434.30" y="134.00" width="31.30" height="13.60" fill="#ec5f62"/><rect x="434.30" y="147.60" width="31.30" height="18.40" fill="#ef7477"/><rect x="434.30" y="166.00" width="31.30" height="13.20" fill="#ea5457"/><rect x="434.30" y="179.20" width="31.30" height="5.80" fill="#f8f4f5"/><rect x="434.30" y="185.00" width="31.30" height="15.50" fill="#f9c5c7"/><rect x="434.30" y="200.50" width="31.30" height="27.20" fill="#f5a3a6"/><rect x="434.30" y="227.70" width="31.30" height="3.60" fill="#fbeeee"/><rect x="434.30" y="231.30" width="31.30" height="6.70" fill="#f2898c"/><rect x="434.30" y="238.00" width="31.30" height="173.60" fill="#3f78c0"/><rect x="434.30" y="297.50" width="31.30" height="7.50" fill="#2b69b7"/><rect x="434.30" y="305.00" width="31.30" height="40.00" fill="#4b81c4"/><rect x="434.30" y="345.00" width="31.30" height="3.50" fill="#4a80c4"/><rect x="434.30" y="348.50" width="31.30" height="8.50" fill="#2263b4"/><rect x="434.30" y="356.80" width="31.30" height="50.20" fill="#4a80c4"/><rect x="434.30" y="407.00" width="31.30" height="4.60" fill="#6c95cd"/><rect x="434.30" y="77.37" width="31.30" height="1.13" fill="#d6dee9"/><rect x="434.30" y="78.50" width="31.30" height="2.86" fill="#c4d3ea"/><rect x="434.30" y="81.36" width="31.30" height="2.47" fill="#c2d2e8"/><rect x="434.30" y="83.84" width="31.30" height="0.16" fill="#c6d6ec"/><rect x="434.30" y="84.00" width="31.30" height="2.66" fill="#acc2e0"/><rect x="434.30" y="86.66" width="31.30" height="1.99" fill="#a9bedb"/><rect x="434.30" y="88.65" width="31.30" height="1.91" fill="#a6bad7"/><rect x="434.30" y="90.56" width="31.30" height="1.68" fill="#b9cce8"/><rect x="434.30" y="92.24" width="31.30" height="1.53" fill="#b5cae7"/><rect x="434.30" y="93.77" width="31.30" height="1.83" fill="#b6cbe7"/><rect x="434.30" y="95.60" width="31.30" height="2.25" fill="#e84144"/><rect x="434.30" y="97.85" width="31.30" height="1.49" fill="#e94d4f"/><rect x="434.30" y="101.22" width="31.30" height="1.35" fill="#d8373a"/><rect x="434.30" y="102.57" width="31.30" height="0.13" fill="#d7373a"/><rect x="434.30" y="105.78" width="31.30" height="1.08" fill="#dc4346"/><rect x="434.30" y="109.30" width="31.30" height="2.22" fill="#eb5b5e"/><rect x="434.30" y="111.52" width="31.30" height="1.22" fill="#ea4f52"/><rect x="434.30" y="112.74" width="31.30" height="1.19" fill="#e8474a"/><rect x="434.30" y="116.23" width="31.30" height="2.44" fill="#ea4d50"/><rect x="434.30" y="118.67" width="31.30" height="2.69" fill="#ea5255"/><rect x="434.30" y="121.36" width="31.30" height="1.52" fill="#d84245"/><rect x="434.30" y="122.87" width="31.30" height="2.52" fill="#eb595b"/><rect x="434.30" y="125.39" width="31.30" height="1.93" fill="#df4447"/><rect x="434.30" y="128.85" width="31.30" height="1.41" fill="#e44548"/><rect x="434.30" y="130.26" width="31.30" height="1.16" fill="#ea4c4f"/><rect x="434.30" y="131.42" width="31.30" height="2.30" fill="#dd4346"/><rect x="434.30" y="134.00" width="31.30" height="1.89" fill="#ee6f72"/><rect x="434.30" y="135.89" width="31.30" height="1.29" fill="#ec5f62"/><rect x="434.30" y="143.21" width="31.30" height="2.67" fill="#df5a5c"/><rect x="434.30" y="145.88" width="31.30" height="1.52" fill="#ee6e71"/><rect x="434.30" y="151.11" width="31.30" height="1.67" fill="#f0787b"/><rect x="434.30" y="152.79" width="31.30" height="2.69" fill="#e06c6f"/><rect x="434.30" y="155.48" width="31.30" height="2.94" fill="#f0797b"/><rect x="434.30" y="158.42" width="31.30" height="2.45" fill="#ec7275"/><rect x="434.30" y="160.87" width="31.30" height="1.66" fill="#e06d70"/><rect x="434.30" y="162.53" width="31.30" height="2.43" fill="#f08083"/><rect x="434.30" y="164.96" width="31.30" height="1.04" fill="#e46f72"/><rect x="434.30" y="168.89" width="31.30" height="2.79" fill="#dd4f52"/><rect x="434.30" y="171.68" width="31.30" height="1.83" fill="#da4e51"/><rect x="434.30" y="173.51" width="31.30" height="2.13" fill="#dd4f52"/><rect x="434.30" y="177.66" width="31.30" height="1.54" fill="#dd4f52"/><rect x="434.30" y="179.20" width="31.30" height="2.54" fill="#f8f4f5"/><rect x="434.30" y="182.90" width="31.30" height="2.09" fill="#f0eced"/><rect x="434.30" y="187.09" width="31.30" height="1.86" fill="#f9c5c7"/><rect x="434.30" y="188.95" width="31.30" height="2.84" fill="#f9c7c9"/><rect x="434.30" y="191.78" width="31.30" height="2.84" fill="#f9c9cb"/><rect x="434.30" y="194.62" width="31.30" height="2.06" fill="#e9b8ba"/><rect x="434.30" y="196.68" width="31.30" height="2.88" fill="#f7c3c5"/><rect x="434.30" y="199.56" width="31.30" height="0.94" fill="#f9c5c7"/><rect x="434.30" y="202.07" width="31.30" height="1.51" fill="#f6a9ac"/><rect x="434.30" y="203.58" width="31.30" height="2.21" fill="#eb9c9f"/><rect x="434.30" y="209.39" width="31.30" height="1.27" fill="#e7999c"/><rect x="434.30" y="212.55" width="31.30" height="2.71" fill="#f5a7aa"/><rect x="434.30" y="215.26" width="31.30" height="1.21" fill="#ec9da0"/><rect x="434.30" y="216.47" width="31.30" height="1.71" fill="#f6a8ab"/><rect x="434.30" y="219.43" width="31.30" height="1.67" fill="#f5a6a9"/><rect x="434.30" y="223.08" width="31.30" height="2.84" fill="#ef9fa2"/><rect x="434.30" y="225.92" width="31.30" height="1.78" fill="#f2a1a4"/><rect x="434.30" y="233.93" width="31.30" height="2.32" fill="#f39395"/><rect x="434.30" y="236.25" width="31.30" height="1.75" fill="#f39092"/><rect x="434.30" y="242.24" width="31.30" height="1.32" fill="#3a6fb2"/><rect x="434.30" y="246.14" width="31.30" height="2.67" fill="#4179c1"/><rect x="434.30" y="248.81" width="31.30" height="1.96" fill="#3c73b8"/><rect x="434.30" y="255.20" width="31.30" height="2.30" fill="#467dc2"/><rect x="434.30" y="257.50" width="31.30" height="1.46" fill="#3b70b2"/><rect x="434.30" y="258.96" width="31.30" height="2.31" fill="#4a80c4"/><rect x="434.30" y="261.27" width="31.30" height="2.01" fill="#3d75bb"/><rect x="434.30" y="263.28" width="31.30" height="2.47" fill="#437bc1"/><rect x="434.30" y="265.75" width="31.30" height="2.52" fill="#487ec3"/><rect x="434.30" y="268.26" width="31.30" height="1.12" fill="#4f83c5"/><rect x="434.30" y="269.39" width="31.30" height="1.29" fill="#3b70b3"/><rect x="434.30" y="270.68" width="31.30" height="2.53" fill="#3f77bf"/><rect x="434.30" y="275.09" width="31.30" height="1.95" fill="#3b70b3"/><rect x="434.30" y="287.85" width="31.30" height="2.98" fill="#3b71b4"/><rect x="434.30" y="290.83" width="31.30" height="1.68" fill="#3e76bc"/><rect x="434.30" y="292.51" width="31.30" height="1.18" fill="#3a6fb2"/><rect x="434.30" y="293.69" width="31.30" height="1.86" fill="#4a7fc3"/><rect x="434.30" y="295.55" width="31.30" height="1.78" fill="#5487c7"/><rect x="434.30" y="297.50" width="31.30" height="1.43" fill="#2b68b6"/><rect x="434.30" y="298.93" width="31.30" height="1.82" fill="#2b68b6"/><rect x="434.30" y="314.51" width="31.30" height="2.43" fill="#487bbb"/><rect x="434.30" y="316.94" width="31.30" height="1.65" fill="#5387c7"/><rect x="434.30" y="318.59" width="31.30" height="2.54" fill="#4c82c4"/><rect x="434.30" y="321.13" width="31.30" height="2.68" fill="#4779b9"/><rect x="434.30" y="323.81" width="31.30" height="2.21" fill="#477aba"/><rect x="434.30" y="326.02" width="31.30" height="1.58" fill="#477aba"/><rect x="434.30" y="327.60" width="31.30" height="1.85" fill="#4678b6"/><rect x="434.30" y="331.55" width="31.30" height="2.67" fill="#5d8eca"/><rect x="434.30" y="334.22" width="31.30" height="1.16" fill="#4678b6"/><rect x="434.30" y="336.49" width="31.30" height="2.51" fill="#588ac8"/><rect x="434.30" y="340.91" width="31.30" height="2.22" fill="#477bbb"/><rect x="434.30" y="343.12" width="31.30" height="1.85" fill="#598bc9"/><rect x="434.30" y="344.98" width="31.30" height="1.46" fill="#598bc8"/><rect x="434.30" y="346.44" width="31.30" height="1.14" fill="#477bbc"/><rect x="434.30" y="347.58" width="31.30" height="0.92" fill="#4679b9"/><rect x="434.30" y="348.50" width="31.30" height="2.46" fill="#2160af"/><rect x="434.30" y="355.29" width="31.30" height="1.25" fill="#205da9"/><rect x="434.30" y="356.80" width="31.30" height="0.20" fill="#4b80c4"/><rect x="434.30" y="357.00" width="31.30" height="1.94" fill="#467aba"/><rect x="434.30" y="358.94" width="31.30" height="1.56" fill="#4578b8"/><rect x="434.30" y="360.50" width="31.30" height="2.35" fill="#487cbe"/><rect x="434.30" y="362.84" width="31.30" height="1.18" fill="#5d8dca"/><rect x="434.30" y="364.03" width="31.30" height="1.58" fill="#487dc0"/><rect x="434.30" y="365.61" width="31.30" height="2.89" fill="#487dc0"/><rect x="434.30" y="369.92" width="31.30" height="1.92" fill="#5a8bc9"/><rect x="434.30" y="375.40" width="31.30" height="1.12" fill="#487cbe"/><rect x="434.30" y="378.05" width="31.30" height="2.00" fill="#4a80c4"/><rect x="434.30" y="380.05" width="31.30" height="2.69" fill="#497fc3"/><rect x="434.30" y="385.06" width="31.30" height="1.81" fill="#4679ba"/><rect x="434.30" y="388.75" width="31.30" height="1.61" fill="#4e83c5"/><rect x="434.30" y="390.36" width="31.30" height="2.18" fill="#497fc2"/><rect x="434.30" y="392.54" width="31.30" height="2.47" fill="#4679b9"/><rect x="434.30" y="397.52" width="31.30" height="1.14" fill="#4f84c6"/><rect x="434.30" y="400.22" width="31.30" height="1.07" fill="#467aba"/><rect x="434.30" y="407.00" width="31.30" height="2.70" fill="#6c94cc"/><rect x="465.30" y="74.50" width="31.70" height="21.10" fill="#e6383b"/><rect x="465.30" y="95.60" width="31.70" height="4.80" fill="#f3eef4"/><rect x="465.30" y="100.40" width="31.70" height="13.60" fill="#f9d6d8"/><rect x="465.30" y="114.00" width="31.70" height="15.50" fill="#f7bfc2"/><rect x="465.30" y="129.50" width="31.70" height="34.00" fill="#f29194"/><rect x="465.30" y="163.50" width="31.70" height="15.70" fill="#f5a6a9"/><rect x="465.30" y="179.20" width="31.70" height="21.30" fill="#e63e41"/><rect x="465.30" y="200.50" width="31.70" height="27.20" fill="#eb5154"/><rect x="465.30" y="227.70" width="31.70" height="4.80" fill="#e3373a"/><rect x="465.30" y="232.50" width="31.70" height="5.50" fill="#ef6c6f"/><rect x="465.30" y="238.00" width="31.70" height="173.60" fill="#8aaedb"/><rect x="465.30" y="283.00" width="31.70" height="5.00" fill="#b2c8e6"/><rect x="465.30" y="297.50" width="31.70" height="4.50" fill="#a8c1e3"/><rect x="465.30" y="300.00" width="31.70" height="3.50" fill="#b9cce8"/><rect x="465.30" y="303.50" width="31.70" height="41.50" fill="#88abda"/><rect x="465.30" y="345.00" width="31.70" height="4.50" fill="#a9c1e3"/><rect x="465.30" y="349.50" width="31.70" height="6.00" fill="#eaeff7"/><rect x="465.30" y="355.50" width="31.70" height="3.50" fill="#b7cbe7"/><rect x="465.30" y="359.00" width="31.70" height="5.00" fill="#98b6de"/><rect x="465.30" y="364.00" width="31.70" height="19.00" fill="#88abda"/><rect x="465.30" y="383.00" width="31.70" height="23.00" fill="#97b5de"/><rect x="465.30" y="406.00" width="31.70" height="5.60" fill="#6c95cd"/><rect x="465.30" y="82.13" width="31.70" height="2.99" fill="#e74447"/><rect x="465.30" y="85.12" width="31.70" height="2.45" fill="#df3639"/><rect x="465.30" y="87.58" width="31.70" height="1.35" fill="#e94d4f"/><rect x="465.30" y="88.92" width="31.70" height="1.80" fill="#e73e41"/><rect x="465.30" y="92.60" width="31.70" height="1.91" fill="#d73437"/><rect x="465.30" y="95.60" width="31.70" height="1.49" fill="#f3eef4"/><rect x="465.30" y="99.09" width="31.70" height="1.31" fill="#ede8ee"/><rect x="465.30" y="100.40" width="31.70" height="2.22" fill="#fadadc"/><rect x="465.30" y="102.62" width="31.70" height="1.09" fill="#f1cfd1"/><rect x="465.30" y="103.71" width="31.70" height="2.05" fill="#efcecf"/><rect x="465.30" y="108.74" width="31.70" height="1.44" fill="#e8c8c9"/><rect x="465.30" y="110.19" width="31.70" height="1.24" fill="#fadbdd"/><rect x="465.30" y="111.43" width="31.70" height="1.62" fill="#e9c9ca"/><rect x="465.30" y="119.15" width="31.70" height="1.51" fill="#efb9bc"/><rect x="465.30" y="120.66" width="31.70" height="1.13" fill="#f7c2c5"/><rect x="465.30" y="121.79" width="31.70" height="1.98" fill="#f0babd"/><rect x="465.30" y="128.93" width="31.70" height="0.57" fill="#f3bcbf"/><rect x="465.30" y="129.50" width="31.70" height="2.15" fill="#e2878a"/><rect x="465.30" y="131.65" width="31.70" height="1.52" fill="#e5898c"/><rect x="465.30" y="133.17" width="31.70" height="1.16" fill="#ed8e91"/><rect x="465.30" y="134.33" width="31.70" height="2.91" fill="#f39a9d"/><rect x="465.30" y="137.24" width="31.70" height="2.49" fill="#ec8d90"/><rect x="465.30" y="139.73" width="31.70" height="1.79" fill="#f29597"/><rect x="465.30" y="144.23" width="31.70" height="1.59" fill="#e1878a"/><rect x="465.30" y="145.82" width="31.70" height="2.17" fill="#e18789"/><rect x="465.30" y="147.99" width="31.70" height="1.60" fill="#e88b8e"/><rect x="465.30" y="149.59" width="31.70" height="2.33" fill="#ea8c8f"/><rect x="465.30" y="151.92" width="31.70" height="2.46" fill="#f39c9f"/><rect x="465.30" y="154.38" width="31.70" height="1.24" fill="#f39699"/><rect x="465.30" y="155.62" width="31.70" height="2.46" fill="#f39b9e"/><rect x="465.30" y="160.34" width="31.70" height="1.16" fill="#f19093"/><rect x="465.30" y="161.50" width="31.70" height="2.00" fill="#f3979a"/><rect x="465.30" y="163.50" width="31.70" height="1.69" fill="#f5a6a9"/><rect x="465.30" y="165.19" width="31.70" height="2.68" fill="#f5a7aa"/><rect x="465.30" y="170.08" width="31.70" height="1.62" fill="#f4a5a8"/><rect x="465.30" y="173.91" width="31.70" height="1.27" fill="#f5a7aa"/><rect x="465.30" y="175.18" width="31.70" height="1.39" fill="#f6afb2"/><rect x="465.30" y="176.57" width="31.70" height="1.04" fill="#eea1a4"/><rect x="465.30" y="177.61" width="31.70" height="1.06" fill="#e99ea1"/><rect x="465.30" y="179.20" width="31.70" height="1.16" fill="#e7474a"/><rect x="465.30" y="180.36" width="31.70" height="2.25" fill="#dd3c3e"/><rect x="465.30" y="184.17" width="31.70" height="1.88" fill="#e53e41"/><rect x="465.30" y="186.06" width="31.70" height="1.97" fill="#e74649"/><rect x="465.30" y="188.03" width="31.70" height="2.44" fill="#e64043"/><rect x="465.30" y="193.01" width="31.70" height="2.23" fill="#e63e41"/><rect x="465.30" y="195.23" width="31.70" height="2.32" fill="#e74749"/><rect x="465.30" y="207.23" width="31.70" height="2.24" fill="#ec5c5e"/><rect x="465.30" y="209.47" width="31.70" height="1.45" fill="#eb5255"/><rect x="465.30" y="215.31" width="31.70" height="1.89" fill="#ed6668"/><rect x="465.30" y="218.84" width="31.70" height="2.91" fill="#ec5d5f"/><rect x="465.30" y="221.75" width="31.70" height="2.30" fill="#ec5d60"/><rect x="465.30" y="224.06" width="31.70" height="2.72" fill="#eb5154"/><rect x="465.30" y="230.62" width="31.70" height="1.88" fill="#e13639"/><rect x="465.30" y="235.33" width="31.70" height="2.51" fill="#f07678"/><rect x="465.30" y="242.70" width="31.70" height="1.99" fill="#8eb1dc"/><rect x="465.30" y="244.69" width="31.70" height="2.12" fill="#97b7df"/><rect x="465.30" y="246.81" width="31.70" height="1.64" fill="#81a3cd"/><rect x="465.30" y="249.83" width="31.70" height="1.55" fill="#93b4de"/><rect x="465.30" y="255.01" width="31.70" height="1.95" fill="#85a8d3"/><rect x="465.30" y="256.96" width="31.70" height="1.73" fill="#82a4cf"/><rect x="465.30" y="258.69" width="31.70" height="1.30" fill="#92b3dd"/><rect x="465.30" y="259.99" width="31.70" height="2.88" fill="#85a8d3"/><rect x="465.30" y="264.46" width="31.70" height="1.96" fill="#8baedb"/><rect x="465.30" y="266.41" width="31.70" height="1.54" fill="#92b4dd"/><rect x="465.30" y="267.95" width="31.70" height="1.21" fill="#91b3dd"/><rect x="465.30" y="273.97" width="31.70" height="1.85" fill="#85a8d3"/><rect x="465.30" y="281.27" width="31.70" height="1.01" fill="#89adda"/><rect x="465.30" y="284.30" width="31.70" height="2.11" fill="#a7bcd8"/><rect x="465.30" y="286.41" width="31.70" height="1.59" fill="#b1c7e4"/><rect x="465.30" y="289.62" width="31.70" height="1.95" fill="#92b3dd"/><rect x="465.30" y="291.57" width="31.70" height="1.49" fill="#82a4cf"/><rect x="465.30" y="294.54" width="31.70" height="2.24" fill="#8fb1dc"/><rect x="465.30" y="296.78" width="31.70" height="0.72" fill="#87abd7"/><rect x="465.30" y="297.50" width="31.70" height="1.29" fill="#9fb6d7"/><rect x="465.30" y="298.79" width="31.70" height="1.21" fill="#acc4e4"/><rect x="465.30" y="300.00" width="31.70" height="1.67" fill="#b4c7e2"/><rect x="465.30" y="301.67" width="31.70" height="0.33" fill="#bfd0ea"/><rect x="465.30" y="302.00" width="31.70" height="1.50" fill="#aec0da"/><rect x="465.30" y="303.50" width="31.70" height="2.78" fill="#84a6d3"/><rect x="465.30" y="306.28" width="31.70" height="2.43" fill="#93b3dd"/><rect x="465.30" y="311.58" width="31.70" height="1.10" fill="#92b2dd"/><rect x="465.30" y="312.68" width="31.70" height="2.19" fill="#83a4d2"/><rect x="465.30" y="314.87" width="31.70" height="1.13" fill="#82a3d0"/><rect x="465.30" y="317.89" width="31.70" height="2.80" fill="#90b1dd"/><rect x="465.30" y="321.96" width="31.70" height="2.73" fill="#93b3dd"/><rect x="465.30" y="330.60" width="31.70" height="2.45" fill="#84a6d3"/><rect x="465.30" y="335.37" width="31.70" height="2.36" fill="#85a7d5"/><rect x="465.30" y="337.73" width="31.70" height="1.69" fill="#83a4d1"/><rect x="465.30" y="339.42" width="31.70" height="2.03" fill="#83a5d3"/><rect x="465.30" y="345.00" width="31.70" height="2.87" fill="#b1c7e6"/><rect x="465.30" y="347.87" width="31.70" height="1.19" fill="#aec5e5"/><rect x="465.30" y="351.45" width="31.70" height="1.86" fill="#e1e5ed"/><rect x="465.30" y="353.31" width="31.70" height="1.23" fill="#ecf1f8"/><rect x="465.30" y="354.53" width="31.70" height="0.97" fill="#e7ecf4"/><rect x="465.30" y="357.06" width="31.70" height="1.94" fill="#bed0e9"/><rect x="465.30" y="359.00" width="31.70" height="2.86" fill="#97b5dd"/><rect x="465.30" y="363.30" width="31.70" height="0.70" fill="#94b1d8"/><rect x="465.30" y="364.00" width="31.70" height="2.21" fill="#88abda"/><rect x="465.30" y="366.21" width="31.70" height="2.36" fill="#95b4de"/><rect x="465.30" y="375.49" width="31.70" height="2.42" fill="#86a9d7"/><rect x="465.30" y="377.92" width="31.70" height="1.31" fill="#8dafdc"/><rect x="465.30" y="379.23" width="31.70" height="1.66" fill="#7f9fcb"/><rect x="465.30" y="381.93" width="31.70" height="1.07" fill="#8dafdc"/><rect x="465.30" y="387.25" width="31.70" height="1.37" fill="#9bb8df"/><rect x="465.30" y="395.27" width="31.70" height="2.47" fill="#92afd6"/><rect x="465.30" y="399.40" width="31.70" height="2.32" fill="#99b6de"/><rect x="465.30" y="401.72" width="31.70" height="2.31" fill="#8eaad0"/><rect x="465.30" y="404.03" width="31.70" height="1.22" fill="#99b7df"/><rect x="465.30" y="408.71" width="31.70" height="1.99" fill="#6c94cc"/>
<path d="M388.3 74.5V65.5H419.0V74.5M450.0 74.5V65.5H480.8V74.5M403.6 65.7V56.4H465.5V65.7" stroke="#222" stroke-width="1.15" fill="none"/>
<path d="M372.0 74.50H343.74V74.72H343.74V75.42H338.31V75.61H340.36V76.14H342.17V76.31H343.37V76.42H344.57V76.64H345.77V77.08H345.77V77.72H342.50V78.30H342.50V79.06H339.02V79.28H340.22V79.48H342.62V80.18H342.62V80.91H341.42V81.75H340.88V81.88H342.08V82.15H343.28V82.53H343.28V83.41H340.88V83.62H342.08V83.81H343.28V84.54H344.48V84.72H345.68V85.07H346.88V85.43H346.88V86.03H340.24V86.17H341.44V86.77H344.53V87.23H344.53V87.84H340.63V87.94H340.63V88.84H342.15V88.95H343.35V89.05H344.55V89.21H345.75V89.29H346.95V89.40H346.95V90.21H344.35V90.28H344.35V91.13H343.15V91.25H341.52V92.02H337.48V92.38H339.26V92.71H340.90V93.59H342.10V94.09H343.30V94.76H343.30V95.34H339.61V95.51H343.19V96.19H344.39V96.67H344.39V97.17H340.81V97.48H343.56V97.90H343.56V98.54H340.71V98.74H342.00V99.47H344.40V99.66H345.60V99.79H346.80V100.63H346.80V100.71H343.20V101.04H342.10V101.76H342.10V102.28H342.22V103.04H343.42V103.12H343.42V104.00H341.89V104.45H341.89V104.94H342.62V105.06H343.82V105.41H343.82V106.05H343.89V106.57H343.89V107.16H341.50V107.84H342.70V108.38H342.70V109.25H339.52V109.97H343.15V110.25H344.35V110.33H344.35V111.23H340.86V111.59H342.27V112.12H342.27V112.91H341.97V113.75H344.37V113.97H344.37V114.69H344.37V114.79H345.57V115.12H345.57V115.91H340.77V116.17H339.57V116.63H342.60V116.84H343.96V116.97H343.96V117.74H342.19V118.07H342.19V118.76H337.41V119.62H340.49V120.34H341.69V120.70H342.89V121.34H342.89V121.95H341.47V122.14H342.67V122.60H345.07V122.95H346.27V123.23H347.47V123.66H347.47V124.20H343.87V124.34H341.01V124.94H343.41V125.75H344.61V126.16H344.61V126.66H343.41V127.29H344.61V127.69H345.81V127.87H347.01V128.66H347.01V129.52H343.22V129.75H343.22V130.46H340.73V131.19H343.60V131.82H343.60V132.55H339.18V132.88H340.38V133.28H342.78V133.89H342.78V134.70H343.98V135.14H343.98V135.61H342.78V136.46H340.84V137.00H342.87V137.55H342.87V138.19H341.38V138.77H343.78V139.56H344.98V140.03H344.98V140.62H342.58V140.95H341.00V141.18H342.27V141.36H342.27V142.25H341.30V142.81H342.50V143.46H343.70V144.14H343.70V144.82H337.59V145.43H338.79V146.00H341.19V146.18H343.59V146.64H344.79V146.96H345.99V147.05H347.19V147.32H347.19V148.07H342.39V148.23H341.19V148.96H344.79V149.06H345.99V149.41H345.99V150.10H344.79V150.27H345.99V150.48H347.19V150.88H348.39V151.67H348.39V152.21H342.39V152.50H341.00V152.75H341.00V153.53H342.62V153.78H342.62V154.47H339.59V155.12H342.60V155.27H343.80V155.75H345.00V155.97H346.20V156.21H346.20V156.87H343.06V157.31H343.06V157.98H343.55V158.07H344.75V158.41H344.75V159.10H341.23V159.46H342.43V160.22H343.63V160.62H343.63V161.35H340.85V161.67H344.45V162.03H344.45V162.58H344.45V163.13H344.45V163.89H343.25V164.53H343.25V165.37H340.62V165.72H341.82V166.57H343.02V166.79H345.42V166.87H346.62V167.02H346.62V167.80H345.42V168.16H345.42V169.00H343.49V169.44H343.49V170.33H342.90V170.78H342.90V171.38H341.49V171.54H342.69V171.89H345.09V172.18H346.29V172.25H346.29V173.14H343.89V173.45H340.29V173.85H345.53V174.56H345.53V174.93H342.91V175.01H344.11V175.31H344.11V175.95H336.51V176.53H340.97V177.16H342.35V177.47H343.55V177.55H345.76V177.72H345.76V178.47H342.92V178.69H344.12V178.92H345.32V179.36H345.32V179.89H338.97V180.76H340.17V180.97H341.37V181.28H342.57V182.17H343.77V182.76H343.77V183.24H338.01V183.54H339.83V184.12H341.03V184.38H342.23V185.23H343.43V185.45H344.63V185.94H345.83V186.40H345.83V186.97H342.17V187.58H342.17V188.36H340.97V189.14H343.49V189.24H344.69V189.83H344.69V190.20H339.99V190.59H341.22V190.77H342.42V191.56H344.90V192.30H344.90V192.67H343.70V192.87H340.65V193.43H344.52V193.56H344.52V194.46H342.05V195.03H342.05V195.75H341.33V195.95H342.53V196.70H344.72V196.94H344.72V197.62H339.33V198.25H341.73V198.89H344.13V199.21H344.13V199.88H344.13V200.29H344.13V201.14H340.53V201.83H342.32V202.40H342.32V203.15H345.01V203.24H345.01V204.05H342.59V204.84H342.59V205.67H340.19V205.89H339.87V206.78H344.24V206.95H345.44V207.46H345.44V208.22H343.04V208.34H339.40V208.51H342.53V208.83H343.73V209.29H343.73V209.86H341.33V210.40H342.01V210.51H343.76V210.95H344.96V211.49H344.96V211.85H343.86V211.97H346.26V212.07H348.66V212.24H348.66V213.05H347.46V213.19H345.06V213.29H342.66V213.63H337.11V214.06H344.12V214.22H346.52V214.67H346.52V215.14H345.32V215.55H340.55V216.04H342.95V216.63H345.35V216.86H346.55V216.95H347.75V217.40H347.75V217.97H344.15V218.09H341.75V218.48H335.52V219.38H336.72V220.20H341.10V220.60H344.38V220.71H345.58V221.19H345.58V221.85H343.18V222.13H341.52V222.30H342.72V222.97H343.92V223.26H345.12V223.67H345.12V224.27H341.52V224.73H341.52V225.48H341.71V226.33H341.71V226.92H341.52V227.14H342.72V227.92H343.92V228.45H345.12V229.12H345.12V229.69H340.22V230.30H343.80V230.40H343.80V231.30H343.82V231.55H343.82V232.26H343.82V232.70H343.82V233.40H339.02V233.73H341.29V233.94H342.49V234.60H343.69V235.44H344.89V235.52H346.09V235.92H346.09V236.43H340.09V236.67H340.59V237.21H345.25V237.79H346.45V238.29H346.45V238.79H342.99V239.26H342.99V239.59H344.19V240.39H346.59V240.59H347.79V241.19H350.19V241.30H351.39V241.62H351.39V242.49H348.99V242.90H345.39V243.43H340.01V243.79H345.96V244.37H345.96V245.11H344.76V245.23H345.96V245.31H347.26V245.42H347.26V246.23H346.38V246.82H346.38V247.22H346.21V247.51H347.41V247.67H347.41V248.41H343.63V249.11H343.20V249.40H344.40V249.58H345.60V250.45H346.80V251.24H346.80V251.66H345.40V251.78H346.60V252.38H346.60V253.18H341.77V253.74H347.46V254.10H347.46V254.68H345.94V255.32H347.14V255.81H347.14V256.34H344.17V257.13H342.93V257.47H345.77V258.26H346.97V258.64H346.97V259.24H337.96V259.89H345.00V260.26H346.20V260.77H346.20V261.66H343.80V262.06H341.61V262.93H345.58V263.04H346.78V263.56H346.78V264.38H344.38V265.01H338.93V265.59H343.43V266.49H344.63V266.93H345.83V267.05H347.03V267.62H347.03V268.36H341.33V268.67H345.53V269.22H347.06V269.45H348.26V269.85H348.26V270.46H345.70V271.22H345.70V272.12H344.11V272.26H344.26V273.06H346.84V273.14H346.84V274.03H345.64V274.13H343.75V274.65H344.95V275.37H347.19V276.00H347.19V276.46H346.73V276.76H347.93V277.16H347.93V277.88H342.93V278.10H348.19V278.47H348.19V279.10H346.99V279.19H345.80V279.76H345.80V280.42H347.01V280.58H347.01V281.47H346.10V281.69H347.30V282.01H347.30V282.65H344.90V282.75H347.63V283.54H347.63V283.69H344.70V284.12H347.14V284.87H347.14V285.08H346.54V285.50H347.74V285.59H348.94V286.01H348.94V286.63H343.31V287.30H344.51V288.05H345.71V288.21H345.71V288.99H342.30V289.26H343.60V289.91H344.80V290.77H346.00V291.42H347.55V291.68H347.55V292.37H346.46V292.72H346.46V293.37H345.26V293.89H343.06V294.08H344.35V294.81H347.81V294.89H349.01V294.97H349.01V295.87H345.46V296.02H347.86V296.11H349.14V296.51H349.14V297.16H346.66V297.73H344.26V298.18H343.06V298.69H342.48V299.23H343.68V299.82H345.72V300.65H345.72V300.93H346.91V301.37H348.11V301.57H349.31V301.72H349.31V302.48H344.66V303.02H344.66V303.66H343.46V303.76H345.55V303.92H346.75V304.05H346.75V304.83H344.76V304.94H345.96V305.44H345.96V306.06H344.91V306.54H344.91V307.09H343.75V307.96H346.24V308.62H347.44V308.70H347.44V309.56H347.12V309.93H347.12V310.55H346.07V311.13H348.76V311.55H348.76V312.08H343.13V312.61H343.13V313.23H340.93V313.70H345.74V314.24H346.94V314.32H346.94V315.21H344.54V315.67H344.53V315.75H347.25V315.86H347.25V316.69H344.53V317.05H345.81V317.20H348.21V317.52H348.21V318.15H347.01V318.96H341.40V319.66H344.04V319.86H349.13V320.05H349.13V320.80H348.36V321.16H348.36V321.83H345.24V322.17H342.45V322.98H345.54V323.09H346.74V323.25H347.94V323.61H347.94V324.28H344.85V324.74H346.05V324.97H347.48V325.08H348.68V325.32H349.88V325.67H349.88V326.40H344.96V326.50H346.16V326.60H348.99V326.90H348.99V327.73H341.90V327.95H346.86V328.41H346.86V328.92H345.23V329.40H345.23V330.07H341.85V330.29H343.05V331.03H346.20V331.35H347.40V331.73H348.60V331.87H349.80V332.07H349.80V332.83H341.19V333.13H346.07V333.84H346.07V334.67H345.26V335.12H346.46V335.24H347.66V335.48H348.86V335.57H350.06V336.01H350.06V336.57H344.28V337.05H346.68V337.13H347.88V337.28H347.88V338.05H346.68V338.58H347.88V338.93H347.88V339.70H344.47V340.33H345.67V340.81H345.67V341.33H344.01V341.62H345.42V342.35H345.42V342.65H344.99V343.23H346.19V343.35H347.54V343.42H347.54V344.28H347.21V344.97H347.21V345.66H346.01V346.17H342.86V347.00H344.06V347.90H345.26V348.51H346.46V348.76H347.66V348.91H348.86V349.13H350.06V349.56H350.06V350.08H344.65V350.76H345.85V351.19H345.85V352.07H343.41V352.29H347.01V352.52H347.01V353.35H345.81V353.44H345.81V354.07H345.81V354.82H340.95V355.15H342.15V355.57H347.24V356.36H347.24V356.69H344.55V357.35H345.75V357.87H347.74V357.95H348.94V358.49H348.94V358.91H342.99V359.52H342.99V360.39H346.46V360.89H346.46V361.48H344.07V362.02H346.47V362.42H346.47V363.12H345.27V363.29H339.86V363.76H342.49V364.06H343.69V364.86H344.89V365.37H346.09V365.62H347.29V365.93H347.29V366.72H343.90V367.13H345.10V367.86H346.30V367.99H349.05V368.40H349.05V369.01H347.85V369.17H344.80V369.36H346.00V369.52H347.20V370.15H348.40V370.51H349.60V370.62H349.60V371.46H344.83V371.93H344.83V372.54H341.14V372.82H346.16V373.33H347.36V373.42H348.56V373.92H348.56V374.52H344.96V374.86H345.26V375.66H345.26V375.98H340.67V376.63H342.46V377.10H346.69V377.47H346.69V378.34H345.49V378.92H344.29V379.50H344.22V380.37H345.42V380.50H346.62V380.58H347.82V380.66H347.82V381.52H343.95V382.34H343.95V382.64H343.48V383.40H346.50V383.61H347.70V384.24H350.10V384.93H350.10V385.21H348.90V385.46H342.87V385.76H344.07V386.04H346.27V386.59H346.27V387.43H341.79V388.13H342.99V388.89H345.39V389.04H346.59V389.50H347.79V389.66H348.99V389.97H348.99V390.67H346.10V391.39H346.10V391.77H345.03V391.90H347.43V392.30H347.43V393.08H346.23V393.31H343.85V393.74H348.01V393.82H349.21V393.90H349.21V394.74H346.81V394.87H343.64V395.11H344.84V395.54H347.24V396.23H348.44V396.33H350.84V396.41H352.04V396.59H352.04V397.38H349.64V397.47H346.04V397.83H344.58V398.02H345.78V398.47H346.98V398.67H348.18V398.75H348.18V399.62H341.70V400.44H342.90V400.93H345.30V401.68H346.50V401.89H346.50V402.66H346.25V402.86H348.03V403.27H348.03V403.84H344.37V404.26H345.57V404.86H345.57V405.57H343.36V406.10H346.50V406.48H346.50V407.11H345.44V407.84H348.21V407.94H348.21V408.78H345.88V408.98H347.08V409.42H347.08V410.26H343.27V411.12H339.67V411.60H372.0Z" fill="#1a1414"/>
<polygon points="336,409.6 372,406.8 372,411.7 336,411" fill="#1a1414"/>
<polygon points="337,229.5 372,228.5 372,237.5 352,237" fill="#1a1414"/>
<polygon points="329,238.6 372,237.5 372,244 350,243" fill="#1a1414"/>
<polygon points="326,74.2 372,74.2 372,78 345,77 330,75.8 326,75.8" fill="#1a1414"/>
<path d="M343.7 74.6H372.0M343.7 75.1H372.0M338.3 75.5H372.0M340.4 75.9H372.0M342.2 76.2H372.0M343.4 76.4H372.0M344.6 76.5H372.0M345.8 76.9H372.0M345.8 77.4H372.0M342.5 78.0H372.0M342.5 78.7H372.0M339.0 79.2H372.0M340.2 79.4H372.0M342.6 79.8H372.0M342.6 80.5H372.0M341.4 81.3H372.0M340.9 81.8H372.0M342.1 82.0H372.0M343.3 82.3H372.0M343.3 83.0H372.0M340.9 83.5H372.0M342.1 83.7H372.0M343.3 84.2H372.0M344.5 84.6H372.0M345.7 84.9H372.0M346.9 85.3H372.0M346.9 85.7H372.0M340.2 86.1H372.0M341.4 86.5H372.0M344.5 87.0H372.0M344.5 87.5H372.0M340.6 87.9H372.0M340.6 88.4H372.0M342.2 88.9H372.0M343.4 89.0H372.0M344.6 89.1H372.0M345.8 89.3H372.0M347.0 89.3H372.0M347.0 89.8H372.0M344.3 90.2H372.0M344.3 90.7H372.0M343.1 91.2H372.0M341.5 91.6H372.0M337.5 92.2H372.0M339.3 92.5H372.0M340.9 93.1H372.0M342.1 93.8H372.0M343.3 94.4H372.0M343.3 95.0H372.0M339.6 95.4H372.0M343.2 95.8H372.0M344.4 96.4H372.0M344.4 96.9H372.0M340.8 97.3H372.0M343.6 97.7H372.0M343.6 98.2H372.0M340.7 98.6H372.0M342.0 99.1H372.0M344.4 99.6H372.0M345.6 99.7H372.0M346.8 100.2H372.0M346.8 100.7H372.0M343.2 100.9H372.0M342.1 101.4H372.0M342.1 102.0H372.0M342.2 102.7H372.0M343.4 103.1H372.0M343.4 103.6H372.0M341.9 104.2H372.0M341.9 104.7H372.0M342.6 105.0H372.0M343.8 105.2H372.0M343.8 105.7H372.0M343.9 106.3H372.0M343.9 106.9H372.0M341.5 107.5H372.0M342.7 108.1H372.0M342.7 108.8H372.0M339.5 109.6H372.0M343.1 110.1H372.0M344.3 110.3H372.0M344.3 110.8H372.0M340.9 111.4H372.0M342.3 111.9H372.0M342.3 112.5H372.0M342.0 113.3H372.0M344.4 113.9H372.0M344.4 114.3H372.0M344.4 114.7H372.0M345.6 115.0H372.0M345.6 115.5H372.0M340.8 116.0H372.0M339.6 116.4H372.0M342.6 116.7H372.0M344.0 116.9H372.0M344.0 117.4H372.0M342.2 117.9H372.0M342.2 118.4H372.0M337.4 119.2H372.0M340.5 120.0H372.0M341.7 120.5H372.0M342.9 121.0H372.0M342.9 121.6H372.0M341.5 122.0H372.0M342.7 122.4H372.0M345.1 122.8H372.0M346.3 123.1H372.0M347.5 123.4H372.0M347.5 123.9H372.0M343.9 124.3H372.0M341.0 124.6H372.0M343.4 125.3H372.0M344.6 126.0H372.0M344.6 126.4H372.0M343.4 127.0H372.0M344.6 127.5H372.0M345.8 127.8H372.0M347.0 128.3H372.0M347.0 129.1H372.0M343.2 129.6H372.0M343.2 130.1H372.0M340.7 130.8H372.0M343.6 131.5H372.0M343.6 132.2H372.0M339.2 132.7H372.0M340.4 133.1H372.0M342.8 133.6H372.0M342.8 134.3H372.0M344.0 134.9H372.0M344.0 135.4H372.0M342.8 136.0H372.0M340.8 136.7H372.0M342.9 137.3H372.0M342.9 137.9H372.0M341.4 138.5H372.0M343.8 139.2H372.0M345.0 139.8H372.0M345.0 140.3H372.0M342.6 140.8H372.0M341.0 141.1H372.0M342.3 141.3H372.0M342.3 141.8H372.0M341.3 142.5H372.0M342.5 143.1H372.0M343.7 143.8H372.0M343.7 144.5H372.0M337.6 145.1H372.0M338.8 145.7H372.0M341.2 146.1H372.0M343.6 146.4H372.0M344.8 146.8H372.0M346.0 147.0H372.0M347.2 147.2H372.0M347.2 147.7H372.0M342.4 148.2H372.0M341.2 148.6H372.0M344.8 149.0H372.0M346.0 149.2H372.0M346.0 149.8H372.0M344.8 150.2H372.0M346.0 150.4H372.0M347.2 150.7H372.0M348.4 151.3H372.0M348.4 151.9H372.0M342.4 152.4H372.0M341.0 152.6H372.0M341.0 153.1H372.0M342.6 153.7H372.0M342.6 154.1H372.0M339.6 154.8H372.0M342.6 155.2H372.0M343.8 155.5H372.0M345.0 155.9H372.0M346.2 156.1H372.0M346.2 156.5H372.0M343.1 157.1H372.0M343.1 157.6H372.0M343.6 158.0H372.0M344.8 158.2H372.0M344.8 158.8H372.0M341.2 159.3H372.0M342.4 159.8H372.0M343.6 160.4H372.0M343.6 161.0H372.0M340.9 161.5H372.0M344.5 161.8H372.0M344.5 162.3H372.0M344.5 162.9H372.0M344.5 163.5H372.0M343.3 164.2H372.0M343.3 165.0H372.0M340.6 165.5H372.0M341.8 166.1H372.0M343.0 166.7H372.0M345.4 166.8H372.0M346.6 166.9H372.0M346.6 167.4H372.0M345.4 168.0H372.0M345.4 168.6H372.0M343.5 169.2H372.0M343.5 169.9H372.0M342.9 170.6H372.0M342.9 171.1H372.0M341.5 171.5H372.0M342.7 171.7H372.0M345.1 172.0H372.0M346.3 172.2H372.0M346.3 172.7H372.0M343.9 173.3H372.0M340.3 173.6H372.0M345.5 174.2H372.0M345.5 174.7H372.0M342.9 175.0H372.0M344.1 175.2H372.0M344.1 175.6H372.0M336.5 176.2H372.0M341.0 176.8H372.0M342.3 177.3H372.0M343.5 177.5H372.0M345.8 177.6H372.0M345.8 178.1H372.0M342.9 178.6H372.0M344.1 178.8H372.0M345.3 179.1H372.0M345.3 179.6H372.0M339.0 180.3H372.0M340.2 180.9H372.0M341.4 181.1H372.0M342.6 181.7H372.0M343.8 182.5H372.0M343.8 183.0H372.0M338.0 183.4H372.0M339.8 183.8H372.0M341.0 184.3H372.0M342.2 184.8H372.0M343.4 185.3H372.0M344.6 185.7H372.0M345.8 186.2H372.0M345.8 186.7H372.0M342.2 187.3H372.0M342.2 188.0H372.0M341.0 188.7H372.0M343.5 189.2H372.0M344.7 189.5H372.0M344.7 190.0H372.0M340.0 190.4H372.0M341.2 190.7H372.0M342.4 191.2H372.0M344.9 191.9H372.0M344.9 192.5H372.0M343.7 192.8H372.0M340.6 193.2H372.0M344.5 193.5H372.0M344.5 194.0H372.0M342.0 194.7H372.0M342.0 195.4H372.0M341.3 195.9H372.0M342.5 196.3H372.0M344.7 196.8H372.0M344.7 197.3H372.0M339.3 197.9H372.0M341.7 198.6H372.0M344.1 199.1H372.0M344.1 199.5H372.0M344.1 200.1H372.0M344.1 200.7H372.0M340.5 201.5H372.0M342.3 202.1H372.0M342.3 202.8H372.0M345.0 203.2H372.0M345.0 203.6H372.0M342.6 204.4H372.0M342.6 205.3H372.0M340.2 205.8H372.0M339.9 206.3H372.0M344.2 206.9H372.0M345.4 207.2H372.0M345.4 207.8H372.0M343.0 208.3H372.0M339.4 208.4H372.0M342.5 208.7H372.0M343.7 209.1H372.0M343.7 209.6H372.0M341.3 210.1H372.0M342.0 210.5H372.0M343.8 210.7H372.0M345.0 211.2H372.0M345.0 211.7H372.0M343.9 211.9H372.0M346.3 212.0H372.0M348.7 212.2H372.0M348.7 212.6H372.0M347.5 213.1H372.0M345.1 213.2H372.0M342.7 213.5H372.0M337.1 213.8H372.0M344.1 214.1H372.0M346.5 214.4H372.0M346.5 214.9H372.0M345.3 215.3H372.0M340.6 215.8H372.0M343.0 216.3H372.0M345.4 216.7H372.0M346.6 216.9H372.0M347.8 217.2H372.0M347.8 217.7H372.0M344.2 218.0H372.0M341.8 218.3H372.0M335.5 218.9H372.0M336.7 219.8H372.0M341.1 220.4H372.0M344.4 220.7H372.0M345.6 221.0H372.0M345.6 221.5H372.0M343.2 222.0H372.0M341.5 222.2H372.0M342.7 222.6H372.0M343.9 223.1H372.0M345.1 223.5H372.0M345.1 224.0H372.0M341.5 224.5H372.0M341.5 225.1H372.0M341.7 225.9H372.0M341.7 226.6H372.0M341.5 227.0H372.0M342.7 227.5H372.0M343.9 228.2H372.0M345.1 228.8H372.0M345.1 229.4H372.0M340.2 230.0H372.0M343.8 230.4H372.0M343.8 230.9H372.0M343.8 231.4H372.0M343.8 231.9H372.0M343.8 232.5H372.0M343.8 233.0H372.0M339.0 233.6H372.0M341.3 233.8H372.0M342.5 234.3H372.0M343.7 235.0H372.0M344.9 235.5H372.0M346.1 235.7H372.0M346.1 236.2H372.0M340.1 236.6H372.0M340.6 236.9H372.0M345.2 237.5H372.0M346.4 238.0H372.0M346.4 238.5H372.0M343.0 239.0H372.0M343.0 239.4H372.0M344.2 240.0H372.0M346.6 240.5H372.0M347.8 240.9H372.0M350.2 241.2H372.0M351.4 241.5H372.0M351.4 242.1H372.0M349.0 242.7H372.0M345.4 243.2H372.0M340.0 243.6H372.0M346.0 244.1H372.0M346.0 244.7H372.0M344.8 245.2H372.0M346.0 245.3H372.0M347.3 245.4H372.0M347.3 245.8H372.0M346.4 246.5H372.0M346.4 247.0H372.0M346.2 247.4H372.0M347.4 247.6H372.0M347.4 248.0H372.0M343.6 248.8H372.0M343.2 249.3H372.0M344.4 249.5H372.0M345.6 250.0H372.0M346.8 250.8H372.0M346.8 251.5H372.0M345.4 251.7H372.0M346.6 252.1H372.0M346.6 252.8H372.0M341.8 253.5H372.0M347.5 253.9H372.0M347.5 254.4H372.0M345.9 255.0H372.0M347.1 255.6H372.0M347.1 256.1H372.0M344.2 256.7H372.0M342.9 257.3H372.0M345.8 257.9H372.0M347.0 258.5H372.0M347.0 258.9H372.0M338.0 259.6H372.0M345.0 260.1H372.0M346.2 260.5H372.0M346.2 261.2H372.0M343.8 261.9H372.0M341.6 262.5H372.0M345.6 263.0H372.0M346.8 263.3H372.0M346.8 264.0H372.0M344.4 264.7H372.0M338.9 265.3H372.0M343.4 266.0H372.0M344.6 266.7H372.0M345.8 267.0H372.0M347.0 267.3H372.0M347.0 268.0H372.0M341.3 268.5H372.0M345.5 268.9H372.0M347.1 269.3H372.0M348.3 269.7H372.0M348.3 270.2H372.0M345.7 270.8H372.0M345.7 271.7H372.0M344.1 272.2H372.0M344.3 272.7H372.0M346.8 273.1H372.0M346.8 273.6H372.0M345.6 274.1H372.0M343.7 274.4H372.0M344.9 275.0H372.0M347.2 275.7H372.0M347.2 276.2H372.0M346.7 276.6H372.0M347.9 277.0H372.0M347.9 277.5H372.0M342.9 278.0H372.0M348.2 278.3H372.0M348.2 278.8H372.0M347.0 279.1H372.0M345.8 279.5H372.0M345.8 280.1H372.0M347.0 280.5H372.0M347.0 281.0H372.0M346.1 281.6H372.0M347.3 281.9H372.0M347.3 282.3H372.0M344.9 282.7H372.0M347.6 283.1H372.0M347.6 283.6H372.0M344.7 283.9H372.0M347.1 284.5H372.0M347.1 285.0H372.0M346.5 285.3H372.0M347.7 285.5H372.0M348.9 285.8H372.0M348.9 286.3H372.0M343.3 287.0H372.0M344.5 287.7H372.0M345.7 288.1H372.0M345.7 288.6H372.0M342.3 289.1H372.0M343.6 289.6H372.0M344.8 290.3H372.0M346.0 291.1H372.0M347.5 291.5H372.0M347.5 292.0H372.0M346.5 292.5H372.0M346.5 293.0H372.0M345.3 293.6H372.0M343.1 294.0H372.0M344.3 294.4H372.0M347.8 294.9H372.0M349.0 294.9H372.0M349.0 295.4H372.0M345.5 295.9H372.0M347.9 296.1H372.0M349.1 296.3H372.0M349.1 296.8H372.0M346.7 297.4H372.0M344.3 298.0H372.0M343.1 298.4H372.0M342.5 299.0H372.0M343.7 299.5H372.0M345.7 300.2H372.0M345.7 300.8H372.0M346.9 301.2H372.0M348.1 301.5H372.0M349.3 301.6H372.0M349.3 302.1H372.0M344.7 302.7H372.0M344.7 303.3H372.0M343.5 303.7H372.0M345.6 303.8H372.0M346.8 304.0H372.0M346.8 304.4H372.0M344.8 304.9H372.0M346.0 305.2H372.0M346.0 305.8H372.0M344.9 306.3H372.0M344.9 306.8H372.0M343.8 307.5H372.0M346.2 308.3H372.0M347.4 308.7H372.0M347.4 309.1H372.0M347.1 309.7H372.0M347.1 310.2H372.0M346.1 310.8H372.0M348.8 311.3H372.0M348.8 311.8H372.0M343.1 312.3H372.0M343.1 312.9H372.0M340.9 313.5H372.0M345.7 314.0H372.0M346.9 314.3H372.0M346.9 314.8H372.0M344.5 315.4H372.0M344.5 315.7H372.0M347.2 315.8H372.0M347.2 316.3H372.0M344.5 316.9H372.0M345.8 317.1H372.0M348.2 317.4H372.0M348.2 317.8H372.0M347.0 318.6H372.0M341.4 319.3H372.0M344.0 319.8H372.0M349.1 320.0H372.0M349.1 320.4H372.0M348.4 321.0H372.0M348.4 321.5H372.0M345.2 322.0H372.0M342.4 322.6H372.0M345.5 323.0H372.0M346.7 323.2H372.0M347.9 323.4H372.0M347.9 323.9H372.0M344.8 324.5H372.0M346.0 324.9H372.0M347.5 325.0H372.0M348.7 325.2H372.0M349.9 325.5H372.0M349.9 326.0H372.0M345.0 326.5H372.0M346.2 326.6H372.0M349.0 326.8H372.0M349.0 327.3H372.0M341.9 327.8H372.0M346.9 328.2H372.0M346.9 328.7H372.0M345.2 329.2H372.0M345.2 329.7H372.0M341.9 330.2H372.0M343.1 330.7H372.0M346.2 331.2H372.0M347.4 331.5H372.0M348.6 331.8H372.0M349.8 332.0H372.0M349.8 332.4H372.0M341.2 333.0H372.0M346.1 333.5H372.0M346.1 334.3H372.0M345.3 334.9H372.0M346.5 335.2H372.0M347.7 335.4H372.0M348.9 335.5H372.0M350.1 335.8H372.0M350.1 336.3H372.0M344.3 336.8H372.0M346.7 337.1H372.0M347.9 337.2H372.0M347.9 337.7H372.0M346.7 338.3H372.0M347.9 338.8H372.0M347.9 339.3H372.0M344.5 340.0H372.0M345.7 340.6H372.0M345.7 341.1H372.0M344.0 341.5H372.0M345.4 342.0H372.0M345.4 342.5H372.0M345.0 342.9H372.0M346.2 343.3H372.0M347.5 343.4H372.0M347.5 343.8H372.0M347.2 344.6H372.0M347.2 345.3H372.0M346.0 345.9H372.0M342.9 346.6H372.0M344.1 347.4H372.0M345.3 348.2H372.0M346.5 348.6H372.0M347.7 348.8H372.0M348.9 349.0H372.0M350.1 349.3H372.0M350.1 349.8H372.0M344.6 350.4H372.0M345.8 351.0H372.0M345.8 351.6H372.0M343.4 352.2H372.0M347.0 352.4H372.0M347.0 352.9H372.0M345.8 353.4H372.0M345.8 353.8H372.0M345.8 354.4H372.0M341.0 355.0H372.0M342.2 355.4H372.0M347.2 356.0H372.0M347.2 356.5H372.0M344.6 357.0H372.0M345.8 357.6H372.0M347.7 357.9H372.0M348.9 358.2H372.0M348.9 358.7H372.0M343.0 359.2H372.0M343.0 360.0H372.0M346.5 360.6H372.0M346.5 361.2H372.0M344.1 361.7H372.0M346.5 362.2H372.0M346.5 362.8H372.0M345.3 363.2H372.0M339.9 363.5H372.0M342.5 363.9H372.0M343.7 364.5H372.0M344.9 365.1H372.0M346.1 365.5H372.0M347.3 365.8H372.0M347.3 366.3H372.0M343.9 366.9H372.0M345.1 367.5H372.0M346.3 367.9H372.0M349.1 368.2H372.0M349.1 368.7H372.0M347.9 369.1H372.0M344.8 369.3H372.0M346.0 369.4H372.0M347.2 369.8H372.0M348.4 370.3H372.0M349.6 370.6H372.0M349.6 371.0H372.0M344.8 371.7H372.0M344.8 372.2H372.0M341.1 372.7H372.0M346.2 373.1H372.0M347.4 373.4H372.0M348.6 373.7H372.0M348.6 374.2H372.0M345.0 374.7H372.0M345.3 375.3H372.0M345.3 375.8H372.0M340.7 376.3H372.0M342.5 376.9H372.0M346.7 377.3H372.0M346.7 377.9H372.0M345.5 378.6H372.0M344.3 379.2H372.0M344.2 379.9H372.0M345.4 380.4H372.0M346.6 380.5H372.0M347.8 380.6H372.0M347.8 381.1H372.0M343.9 381.9H372.0M343.9 382.5H372.0M343.5 383.0H372.0M346.5 383.5H372.0M347.7 383.9H372.0M350.1 384.6H372.0M350.1 385.1H372.0M348.9 385.3H372.0M342.9 385.6H372.0M344.1 385.9H372.0M346.3 386.3H372.0M346.3 387.0H372.0M341.8 387.8H372.0M343.0 388.5H372.0M345.4 389.0H372.0M346.6 389.3H372.0M347.8 389.6H372.0M349.0 389.8H372.0M349.0 390.3H372.0M346.1 391.0H372.0M346.1 391.6H372.0M345.0 391.8H372.0M347.4 392.1H372.0M347.4 392.7H372.0M346.2 393.2H372.0M343.9 393.5H372.0M348.0 393.8H372.0M349.2 393.9H372.0M349.2 394.3H372.0M346.8 394.8H372.0M343.6 395.0H372.0M344.8 395.3H372.0M347.2 395.9H372.0M348.4 396.3H372.0M350.8 396.4H372.0M352.0 396.5H372.0M352.0 397.0H372.0M349.6 397.4H372.0M346.0 397.7H372.0M344.6 397.9H372.0M345.8 398.2H372.0M347.0 398.6H372.0M348.2 398.7H372.0M348.2 399.2H372.0M341.7 400.0H372.0M342.9 400.7H372.0M345.3 401.3H372.0M346.5 401.8H372.0M346.5 402.3H372.0M346.3 402.8H372.0M348.0 403.1H372.0M348.0 403.6H372.0M344.4 404.0H372.0M345.6 404.6H372.0M345.6 405.2H372.0M343.4 405.8H372.0M346.5 406.3H372.0M346.5 406.8H372.0M345.4 407.5H372.0M348.2 407.9H372.0M348.2 408.4H372.0M345.9 408.9H372.0M347.1 409.2H372.0M347.1 409.8H372.0M343.3 410.7H372.0M339.7 411.4H372.0" stroke="#1a1414" stroke-width="1.0" fill="none"/>
<defs><linearGradient id="ck" x1="0" y1="0" x2="0" y2="1"><stop offset="0" stop-color="#e3363b"/><stop offset="0.15" stop-color="#e84e52"/><stop offset="0.3" stop-color="#f2999c"/><stop offset="0.41" stop-color="#fbe6e7"/><stop offset="0.45" stop-color="#fafafc"/><stop offset="0.5" stop-color="#e6edf7"/><stop offset="0.62" stop-color="#9db8df"/><stop offset="0.8" stop-color="#4a78bd"/><stop offset="1" stop-color="#0a3a8f"/></linearGradient></defs>
<rect x="508.5" y="74.8" width="14" height="79" fill="url(#ck)"/>
<text x="526.64" y="80.70" font-size="8.8" fill="#1a1a1a" stroke="#1a1a1a" textLength="13.87" lengthAdjust="spacingAndGlyphs" >1.5</text>
<text x="526.80" y="90.80" font-size="8.8" fill="#1a1a1a" stroke="#1a1a1a" textLength="4.38" lengthAdjust="spacingAndGlyphs" >1</text>
<text x="526.61" y="101.80" font-size="8.8" fill="#1a1a1a" stroke="#1a1a1a" textLength="13.90" lengthAdjust="spacingAndGlyphs" >0.5</text>
<text x="526.07" y="112.50" font-size="8.8" fill="#1a1a1a" stroke="#1a1a1a" textLength="6.15" lengthAdjust="spacingAndGlyphs" >0</text>
<text x="525.54" y="126.40" font-size="8.8" fill="#1a1a1a" stroke="#1a1a1a" textLength="18.20" lengthAdjust="spacingAndGlyphs" >-0.5</text>
<text x="525.64" y="141.70" font-size="8.8" fill="#1a1a1a" stroke="#1a1a1a" textLength="7.25" lengthAdjust="spacingAndGlyphs" >-1</text>
<text x="525.54" y="155.00" font-size="8.8" fill="#1a1a1a" stroke="#1a1a1a" textLength="18.20" lengthAdjust="spacingAndGlyphs" >-1.5</text>
<path d="M376.6 423.5H430.5M437.6 423.5H492" stroke="#222" stroke-width="1.3"/>
<text x="393.51" y="438.80" font-size="13" fill="#111" stroke="#111" font-weight="bold" textLength="20.42" lengthAdjust="spacingAndGlyphs" >Ctrl</text>
<text x="457.14" y="438.60" font-size="12.4" fill="#111" stroke="#111" font-weight="bold" textLength="15.30" lengthAdjust="spacingAndGlyphs" >NL</text>
<line x1="72.5" y1="376.92" x2="263.1" y2="376.92" stroke="#808080" stroke-width="0.9" stroke-dasharray="1.8,1.85"/>
<line x1="167.80" y1="307.8" x2="167.80" y2="423.0" stroke="#808080" stroke-width="0.9" stroke-dasharray="1.8,1.85"/>
<rect x="72.5" y="307.8" width="190.60" height="115.20" fill="none" stroke="#333" stroke-width="1.3"/>
<path d="M91.56 423.0V419.6" stroke="#333" stroke-width="1"/>
<path d="M110.62 423.0V419.6" stroke="#333" stroke-width="1"/>
<path d="M129.68 423.0V419.6" stroke="#333" stroke-width="1"/>
<path d="M148.74 423.0V419.6" stroke="#333" stroke-width="1"/>
<path d="M167.80 423.0V419.6" stroke="#333" stroke-width="1"/>
<path d="M186.86 423.0V419.6" stroke="#333" stroke-width="1"/>
<path d="M205.92 423.0V419.6" stroke="#333" stroke-width="1"/>
<path d="M224.98 423.0V419.6" stroke="#333" stroke-width="1"/>
<path d="M244.04 423.0V419.6" stroke="#333" stroke-width="1"/>
<path d="M72.5 399.96H76.1" stroke="#333" stroke-width="1"/>
<path d="M72.5 376.92H76.1" stroke="#333" stroke-width="1"/>
<path d="M72.5 353.88H76.1" stroke="#333" stroke-width="1"/>
<path d="M72.5 330.84H76.1" stroke="#333" stroke-width="1"/>
<text x="65.82" y="436.80" font-size="12" fill="#333" stroke="#333" textLength="11.52" lengthAdjust="spacingAndGlyphs" >-5</text>
<text x="84.80" y="436.80" font-size="12" fill="#333" stroke="#333" textLength="11.52" lengthAdjust="spacingAndGlyphs" >-4</text>
<text x="103.95" y="436.80" font-size="12" fill="#333" stroke="#333" textLength="11.52" lengthAdjust="spacingAndGlyphs" >-3</text>
<text x="123.06" y="436.80" font-size="12" fill="#333" stroke="#333" textLength="11.52" lengthAdjust="spacingAndGlyphs" >-2</text>
<text x="142.11" y="436.80" font-size="12" fill="#333" stroke="#333" textLength="11.52" lengthAdjust="spacingAndGlyphs" >-1</text>
<text x="164.19" y="436.80" font-size="12" fill="#333" stroke="#333" textLength="7.21" lengthAdjust="spacingAndGlyphs" >0</text>
<text x="183.08" y="436.80" font-size="12" fill="#333" stroke="#333" textLength="7.21" lengthAdjust="spacingAndGlyphs" >1</text>
<text x="202.32" y="436.80" font-size="12" fill="#333" stroke="#333" textLength="7.21" lengthAdjust="spacingAndGlyphs" >2</text>
<text x="221.41" y="436.80" font-size="12" fill="#333" stroke="#333" textLength="7.21" lengthAdjust="spacingAndGlyphs" >3</text>
<text x="240.48" y="436.80" font-size="12" fill="#333" stroke="#333" textLength="7.21" lengthAdjust="spacingAndGlyphs" >4</text>
<text x="259.50" y="436.80" font-size="12" fill="#333" stroke="#333" textLength="7.21" lengthAdjust="spacingAndGlyphs" >5</text>
<text x="56.52" y="426.00" font-size="11.5" fill="#333" stroke="#333" textLength="11.45" lengthAdjust="spacingAndGlyphs" >-4</text>
<text x="56.79" y="402.96" font-size="11.5" fill="#333" stroke="#333" textLength="11.45" lengthAdjust="spacingAndGlyphs" >-2</text>
<text x="60.93" y="379.92" font-size="11.5" fill="#333" stroke="#333" textLength="7.16" lengthAdjust="spacingAndGlyphs" >0</text>
<text x="61.08" y="356.88" font-size="11.5" fill="#333" stroke="#333" textLength="7.16" lengthAdjust="spacingAndGlyphs" >2</text>
<text x="60.81" y="333.84" font-size="11.5" fill="#333" stroke="#333" textLength="7.16" lengthAdjust="spacingAndGlyphs" >4</text>
<text x="60.99" y="310.80" font-size="11.5" fill="#333" stroke="#333" textLength="7.16" lengthAdjust="spacingAndGlyphs" >6</text>
<ellipse cx="90.9" cy="403.5" rx="1.4" ry="1.65" fill="#f27a30"/>
<ellipse cx="106" cy="394.2" rx="1.4" ry="1.65" fill="#f27a30"/>
<ellipse cx="150.5" cy="399.1" rx="1.4" ry="1.65" fill="#f27a30"/>
<ellipse cx="161.5" cy="389.6" rx="1.4" ry="1.65" fill="#f27a30"/>
<ellipse cx="163.6" cy="389.3" rx="1.4" ry="1.65" fill="#f27a30"/>
<ellipse cx="179" cy="359.3" rx="1.4" ry="1.65" fill="#f27a30"/>
<ellipse cx="180.4" cy="347.3" rx="1.4" ry="1.65" fill="#f27a30"/>
<ellipse cx="184.7" cy="345.9" rx="1.4" ry="1.65" fill="#f27a30"/>
<ellipse cx="199.6" cy="318" rx="1.4" ry="1.65" fill="#f27a30"/>
<ellipse cx="203.1" cy="346.6" rx="1.4" ry="1.65" fill="#f27a30"/>
<ellipse cx="207.8" cy="356" rx="1.4" ry="1.65" fill="#f27a30"/>
<ellipse cx="240.5" cy="318" rx="1.4" ry="1.65" fill="#f27a30"/>
<line x1="90.4" y1="414.9" x2="240.5" y2="320.8" stroke="#cb3236" stroke-width="1.75"/>
<text x="81.94" y="325.80" font-size="11.3" fill="#333" stroke="#333" textLength="61.67" lengthAdjust="spacingAndGlyphs" >R² = 0.7306</text>
<text x="114.22" y="451.80" font-size="10.8" fill="#333" stroke="#333" textLength="108.57" lengthAdjust="spacingAndGlyphs" >RNA-Seq differential</text>
<text x="122.70" y="463.30" font-size="11" fill="#333" stroke="#333" textLength="87.71" lengthAdjust="spacingAndGlyphs" >expression (log2</text>
<text x="211.76" y="463.30" font-size="11" fill="#333" stroke="#333" textLength="2.75" lengthAdjust="spacingAndGlyphs" >)</text>
<text transform="translate(40.30,406.70) rotate(-90)" x="-0.50" y="0" font-size="12" fill="#333" stroke="#333" textLength="90.40" lengthAdjust="spacingAndGlyphs" >qPCR differential</text>
<text transform="translate(50.40,406.70) rotate(-90)" x="-0.50" y="0" font-size="12" fill="#333" stroke="#333" textLength="91.04" lengthAdjust="spacingAndGlyphs" >expression (log2)</text>
<path d="M343.5 74.5V75.5M345.5 76.5V77.5M344.5 76.5V77.5M344.5 77.5H345.8M343.5 76.5V76.5M343.5 76.5H344.6M342.5 76.5V76.5M342.5 76.5H343.4M340.5 75.5V76.5M340.5 76.5H342.2M338.5 75.5V76.5M338.5 76.5H340.4M342.5 78.5V78.5M337.5 75.5V78.5M337.5 75.5H338.3M337.5 78.5H342.5M342.5 79.5V80.5M341.5 80.5V81.5M341.5 80.5H342.6M340.5 79.5V80.5M340.5 80.5H341.4M339.5 79.5V80.5M339.5 80.5H340.2M343.5 82.5V82.5M342.5 82.5V82.5M342.5 82.5H343.3M340.5 81.5V82.5M340.5 82.5H342.1M346.5 85.5V85.5M345.5 84.5V85.5M345.5 85.5H346.9M344.5 84.5V85.5M344.5 85.5H345.7M343.5 84.5V84.5M343.5 84.5H344.5M342.5 83.5V84.5M342.5 84.5H343.3M340.5 83.5V84.5M340.5 84.5H342.1M339.5 82.5V83.5M339.5 82.5H340.9M339.5 83.5H340.9M337.5 79.5V82.5M337.5 79.5H339.0M337.5 82.5H339.7M335.5 77.5V81.5M335.5 77.5H337.1M335.5 81.5H337.1M334.5 74.5V79.5M334.5 74.5H343.7M334.5 79.5H335.9M344.5 86.5V87.5M341.5 86.5V87.5M341.5 87.5H344.5M340.5 86.5V86.5M340.5 86.5H341.4M340.5 87.5V88.5M346.5 89.5V89.5M345.5 89.5V89.5M345.5 89.5H347.0M344.5 89.5V89.5M344.5 89.5H345.8M343.5 88.5V89.5M343.5 89.5H344.6M342.5 88.5V89.5M342.5 89.5H343.4M344.5 90.5V90.5M343.5 90.5V91.5M343.5 90.5H344.3M341.5 90.5V91.5M341.5 90.5H343.1M339.5 89.5V91.5M339.5 89.5H342.2M339.5 91.5H341.5M338.5 88.5V90.5M338.5 88.5H340.6M338.5 90.5H339.9M337.5 89.5V92.5M337.5 89.5H338.7M336.5 86.5V90.5M336.5 86.5H340.2M336.5 90.5H337.5M343.5 94.5V95.5M342.5 93.5V94.5M342.5 94.5H343.3M340.5 93.5V94.5M340.5 94.5H342.1M339.5 92.5V93.5M339.5 93.5H340.9M344.5 96.5V96.5M343.5 95.5V96.5M343.5 96.5H344.4M340.5 96.5V97.5M340.5 96.5H343.2M339.5 95.5V96.5M339.5 96.5H340.8M343.5 97.5V98.5M346.5 100.5V100.5M345.5 99.5V100.5M345.5 100.5H346.8M344.5 99.5V100.5M344.5 100.5H345.6M343.5 99.5V100.5M343.5 99.5H344.4M341.5 99.5V100.5M341.5 100.5H343.2M340.5 98.5V99.5M340.5 99.5H342.0M339.5 97.5V99.5M339.5 97.5H343.6M339.5 99.5H340.7M336.5 96.5V98.5M336.5 96.5H339.6M336.5 98.5H339.5M335.5 93.5V97.5M335.5 93.5H339.3M335.5 97.5H336.8M333.5 88.5V95.5M333.5 88.5H336.3M333.5 95.5H335.1M342.5 101.5V102.5M343.5 103.5V103.5M342.5 102.5V103.5M342.5 103.5H343.4M341.5 104.5V104.5M343.5 105.5V105.5M342.5 104.5V105.5M342.5 105.5H343.8M343.5 106.5V106.5M342.5 108.5V108.5M341.5 107.5V108.5M341.5 108.5H342.7M338.5 106.5V107.5M338.5 106.5H343.9M338.5 107.5H341.5M337.5 105.5V107.5M337.5 105.5H342.6M337.5 107.5H338.9M336.5 104.5V106.5M336.5 104.5H341.9M336.5 106.5H337.7M344.5 110.5V110.5M343.5 110.5V110.5M343.5 110.5H344.3M339.5 109.5V110.5M339.5 110.5H343.1M342.5 111.5V112.5M340.5 111.5V112.5M340.5 112.5H342.3M338.5 109.5V111.5M338.5 109.5H339.5M338.5 111.5H340.9M344.5 113.5V114.5M345.5 114.5V115.5M344.5 114.5V115.5M344.5 115.5H345.6M343.5 114.5V114.5M343.5 114.5H344.4M343.5 114.5H344.4M341.5 113.5V114.5M341.5 114.5H343.2M340.5 113.5V116.5M340.5 113.5H342.0M339.5 114.5V116.5M339.5 114.5H340.8M336.5 110.5V115.5M336.5 110.5H338.1M336.5 115.5H339.6M334.5 105.5V113.5M334.5 105.5H336.1M334.5 113.5H336.1M333.5 102.5V109.5M333.5 102.5H342.2M333.5 109.5H334.9M332.5 101.5V106.5M332.5 101.5H342.1M332.5 106.5H333.4M343.5 116.5V117.5M342.5 116.5V117.5M342.5 117.5H344.0M342.5 117.5V118.5M342.5 121.5V121.5M341.5 120.5V121.5M341.5 121.5H342.9M340.5 119.5V120.5M340.5 120.5H341.7M347.5 123.5V123.5M346.5 123.5V123.5M346.5 123.5H347.5M345.5 122.5V123.5M345.5 123.5H346.3M343.5 123.5V124.5M343.5 123.5H345.1M342.5 122.5V123.5M342.5 123.5H343.9M341.5 122.5V123.5M341.5 123.5H342.7M344.5 125.5V126.5M343.5 125.5V126.5M343.5 126.5H344.6M347.5 128.5V129.5M345.5 127.5V128.5M345.5 128.5H347.0M344.5 127.5V128.5M344.5 128.5H345.8M343.5 126.5V127.5M343.5 127.5H344.6M342.5 125.5V127.5M342.5 125.5H343.4M342.5 127.5H343.4M341.5 124.5V126.5M341.5 126.5H342.2M339.5 122.5V125.5M339.5 122.5H341.5M339.5 125.5H341.0M338.5 120.5V124.5M338.5 120.5H340.5M338.5 124.5H339.8M337.5 119.5V122.5M337.5 122.5H338.6M343.5 129.5V130.5M336.5 120.5V129.5M336.5 120.5H337.4M336.5 129.5H343.2M335.5 118.5V125.5M335.5 118.5H342.2M335.5 125.5H336.2M331.5 116.5V121.5M331.5 116.5H342.6M331.5 121.5H335.0M343.5 131.5V132.5M340.5 130.5V131.5M340.5 131.5H343.6M342.5 133.5V134.5M343.5 134.5V135.5M342.5 135.5V136.5M342.5 135.5H344.0M341.5 133.5V135.5M341.5 133.5H342.8M341.5 135.5H342.8M340.5 133.5V134.5M340.5 134.5H341.6M339.5 132.5V133.5M339.5 133.5H340.4M336.5 131.5V133.5M336.5 131.5H340.7M336.5 133.5H339.2M342.5 137.5V137.5M340.5 136.5V137.5M340.5 137.5H342.9M344.5 139.5V140.5M343.5 139.5V140.5M343.5 140.5H345.0M342.5 139.5V140.5M342.5 139.5H343.8M341.5 138.5V140.5M341.5 140.5H342.6M342.5 141.5V141.5M341.5 141.5V141.5M341.5 141.5H342.3M343.5 143.5V144.5M342.5 143.5V144.5M342.5 144.5H343.7M341.5 142.5V143.5M341.5 143.5H342.5M337.5 141.5V143.5M337.5 141.5H341.0M337.5 143.5H341.3M336.5 139.5V142.5M336.5 139.5H341.4M336.5 142.5H337.5M347.5 147.5V147.5M345.5 147.5V147.5M345.5 147.5H347.2M344.5 146.5V147.5M344.5 147.5H346.0M343.5 146.5V147.5M343.5 147.5H344.8M342.5 146.5V148.5M342.5 146.5H343.6M341.5 146.5V147.5M341.5 147.5H342.4M345.5 149.5V149.5M344.5 149.5V149.5M344.5 149.5H346.0M348.5 151.5V151.5M347.5 150.5V151.5M347.5 151.5H348.4M345.5 150.5V151.5M345.5 151.5H347.2M344.5 150.5V150.5M344.5 150.5H346.0M343.5 149.5V150.5M343.5 149.5H344.8M343.5 150.5H344.8M342.5 149.5V152.5M342.5 149.5H343.6M341.5 148.5V151.5M341.5 151.5H342.4M339.5 146.5V149.5M339.5 146.5H341.2M339.5 149.5H341.2M338.5 145.5V148.5M338.5 148.5H340.0M337.5 145.5V147.5M337.5 147.5H338.8M334.5 140.5V146.5M334.5 140.5H336.3M334.5 146.5H337.6M333.5 137.5V143.5M333.5 137.5H340.8M333.5 143.5H334.9M341.5 152.5V153.5M342.5 153.5V154.5M346.5 156.5V156.5M345.5 155.5V156.5M345.5 156.5H346.2M343.5 155.5V156.5M343.5 156.5H345.0M342.5 155.5V155.5M342.5 155.5H343.8M339.5 154.5V155.5M339.5 155.5H342.6M343.5 157.5V157.5M344.5 158.5V158.5M343.5 158.5V158.5M343.5 158.5H344.8M341.5 157.5V158.5M341.5 157.5H343.1M341.5 158.5H343.6M343.5 160.5V160.5M342.5 159.5V160.5M342.5 160.5H343.6M341.5 159.5V160.5M341.5 160.5H342.4M344.5 161.5V162.5M344.5 162.5V163.5M343.5 162.5V163.5M343.5 162.5H344.5M343.5 163.5H344.5M343.5 164.5V164.5M342.5 162.5V164.5M342.5 162.5H343.3M342.5 164.5H343.3M340.5 161.5V163.5M340.5 163.5H342.1M339.5 159.5V162.5M339.5 159.5H341.2M339.5 162.5H340.9M338.5 157.5V161.5M338.5 157.5H341.9M338.5 161.5H339.7M337.5 155.5V159.5M337.5 155.5H339.6M337.5 159.5H338.5M336.5 153.5V157.5M336.5 153.5H342.6M336.5 157.5H337.3M334.5 152.5V155.5M334.5 152.5H341.0M334.5 155.5H336.1M346.5 166.5V167.5M345.5 166.5V167.5M345.5 167.5H346.6M345.5 167.5V168.5M344.5 167.5V168.5M344.5 167.5H345.4M344.5 168.5H345.4M343.5 166.5V167.5M343.5 167.5H344.2M341.5 166.5V167.5M341.5 167.5H343.0M340.5 165.5V166.5M340.5 166.5H341.8M333.5 154.5V166.5M333.5 154.5H334.9M333.5 166.5H340.6M332.5 140.5V160.5M332.5 140.5H333.7M332.5 160.5H333.7M331.5 132.5V150.5M331.5 132.5H336.7M331.5 150.5H332.5M330.5 119.5V141.5M330.5 119.5H331.3M330.5 141.5H331.3M343.5 169.5V169.5M342.5 170.5V171.5M346.5 172.5V172.5M345.5 172.5V172.5M345.5 172.5H346.3M343.5 172.5V173.5M343.5 172.5H345.1M342.5 171.5V172.5M342.5 172.5H343.9M341.5 171.5V172.5M341.5 172.5H342.7M340.5 171.5V173.5M340.5 171.5H341.5M338.5 170.5V172.5M338.5 170.5H342.9M338.5 172.5H340.3M335.5 169.5V171.5M335.5 169.5H343.5M335.5 171.5H338.9M328.5 130.5V170.5M328.5 130.5H330.1M328.5 170.5H335.5M327.5 103.5V150.5M327.5 103.5H332.2M327.5 150.5H328.9M326.5 91.5V127.5M326.5 91.5H333.6M326.5 127.5H327.7M325.5 77.5V109.5M325.5 77.5H334.7M325.5 109.5H326.5M345.5 174.5V174.5M344.5 175.5V175.5M342.5 174.5V175.5M342.5 175.5H344.1M340.5 174.5V175.5M340.5 174.5H345.5M340.5 175.5H342.9M345.5 177.5V178.5M343.5 177.5V177.5M343.5 177.5H345.8M342.5 177.5V177.5M342.5 177.5H343.5M340.5 176.5V177.5M340.5 177.5H342.3M345.5 179.5V179.5M344.5 178.5V179.5M344.5 179.5H345.3M342.5 178.5V179.5M342.5 179.5H344.1M338.5 177.5V178.5M338.5 177.5H341.0M338.5 178.5H342.9M343.5 182.5V183.5M342.5 181.5V182.5M342.5 182.5H343.8M341.5 181.5V182.5M341.5 182.5H342.6M340.5 180.5V181.5M340.5 181.5H341.4M338.5 180.5V181.5M338.5 181.5H340.2M337.5 178.5V180.5M337.5 178.5H338.9M337.5 180.5H339.0M336.5 176.5V179.5M336.5 179.5H337.7M345.5 186.5V186.5M344.5 185.5V186.5M344.5 186.5H345.8M343.5 185.5V186.5M343.5 186.5H344.6M342.5 184.5V185.5M342.5 185.5H343.4M341.5 184.5V185.5M341.5 185.5H342.2M339.5 183.5V184.5M339.5 184.5H341.0M338.5 183.5V184.5M338.5 184.5H339.8M342.5 187.5V187.5M340.5 187.5V188.5M340.5 187.5H342.2M344.5 189.5V190.5M343.5 189.5V189.5M343.5 189.5H344.7M344.5 191.5V192.5M343.5 192.5V192.5M343.5 192.5H344.9M342.5 191.5V192.5M342.5 192.5H343.7M341.5 190.5V191.5M341.5 191.5H342.4M339.5 190.5V191.5M339.5 191.5H341.2M338.5 189.5V190.5M338.5 189.5H343.5M338.5 190.5H340.0M337.5 188.5V190.5M337.5 188.5H341.0M337.5 190.5H338.8M334.5 183.5V189.5M334.5 183.5H338.0M334.5 189.5H337.6M333.5 177.5V186.5M333.5 177.5H336.5M333.5 186.5H334.6M332.5 174.5V182.5M332.5 174.5H340.8M332.5 182.5H333.4M344.5 193.5V194.5M340.5 193.5V193.5M340.5 193.5H344.5M342.5 194.5V195.5M344.5 196.5V197.5M342.5 196.5V197.5M342.5 197.5H344.7M341.5 195.5V196.5M341.5 196.5H342.5M344.5 199.5V199.5M344.5 200.5V200.5M342.5 199.5V200.5M342.5 199.5H344.1M342.5 200.5H344.1M341.5 198.5V199.5M341.5 199.5H342.9M340.5 199.5V201.5M340.5 199.5H341.7M339.5 197.5V200.5M339.5 200.5H340.5M338.5 196.5V199.5M338.5 196.5H341.3M338.5 199.5H339.3M336.5 195.5V197.5M336.5 195.5H342.0M336.5 197.5H338.1M335.5 193.5V196.5M335.5 193.5H340.6M335.5 196.5H336.9M342.5 202.5V202.5M345.5 203.5V203.5M342.5 204.5V205.5M341.5 203.5V204.5M341.5 203.5H345.0M341.5 204.5H342.6M340.5 204.5V205.5M340.5 204.5H341.4M337.5 202.5V204.5M337.5 202.5H342.3M337.5 204.5H340.2M345.5 207.5V207.5M344.5 206.5V207.5M344.5 207.5H345.4M343.5 207.5V208.5M343.5 207.5H344.2M339.5 206.5V207.5M339.5 207.5H343.0M343.5 209.5V209.5M342.5 208.5V209.5M342.5 209.5H343.7M341.5 208.5V210.5M341.5 208.5H342.5M339.5 208.5V209.5M339.5 209.5H341.3M344.5 211.5V211.5M343.5 210.5V211.5M343.5 211.5H345.0M342.5 210.5V211.5M342.5 211.5H343.8M348.5 212.5V212.5M347.5 212.5V213.5M347.5 212.5H348.7M346.5 212.5V212.5M346.5 212.5H347.5M345.5 212.5V213.5M345.5 212.5H346.3M343.5 211.5V212.5M343.5 212.5H345.1M342.5 212.5V213.5M342.5 212.5H343.9M338.5 210.5V212.5M338.5 210.5H342.0M338.5 212.5H342.7M336.5 208.5V211.5M336.5 208.5H339.4M336.5 211.5H338.5M334.5 207.5V210.5M334.5 207.5H339.9M334.5 210.5H336.7M346.5 214.5V214.5M345.5 214.5V215.5M345.5 214.5H346.5M344.5 214.5V215.5M344.5 215.5H345.3M347.5 217.5V217.5M346.5 216.5V217.5M346.5 217.5H347.8M345.5 216.5V217.5M345.5 217.5H346.6M344.5 216.5V218.5M344.5 216.5H345.4M342.5 216.5V217.5M342.5 217.5H344.2M341.5 216.5V218.5M341.5 216.5H343.0M340.5 215.5V217.5M340.5 217.5H341.8M339.5 214.5V216.5M339.5 214.5H344.1M339.5 216.5H340.6M337.5 213.5V215.5M337.5 215.5H339.4M345.5 220.5V221.5M344.5 220.5V221.5M344.5 221.5H345.6M343.5 220.5V221.5M343.5 220.5H344.4M341.5 220.5V221.5M341.5 221.5H343.2M345.5 223.5V223.5M343.5 223.5V223.5M343.5 223.5H345.1M342.5 222.5V223.5M342.5 223.5H343.9M341.5 222.5V223.5M341.5 223.5H342.7M341.5 224.5V225.5M340.5 222.5V224.5M340.5 222.5H341.5M340.5 224.5H341.5M341.5 225.5V226.5M345.5 228.5V229.5M343.5 228.5V229.5M343.5 229.5H345.1M342.5 227.5V228.5M342.5 228.5H343.9M341.5 227.5V228.5M341.5 228.5H342.7M340.5 226.5V227.5M340.5 226.5H341.7M340.5 227.5H341.5M339.5 223.5V226.5M339.5 223.5H340.3M339.5 226.5H340.3M337.5 220.5V225.5M337.5 220.5H341.1M337.5 225.5H339.1M336.5 219.5V223.5M336.5 223.5H337.9M335.5 218.5V221.5M335.5 221.5H336.7M333.5 214.5V220.5M333.5 214.5H337.1M333.5 220.5H335.5M332.5 208.5V217.5M332.5 208.5H334.5M332.5 217.5H333.4M330.5 203.5V213.5M330.5 203.5H337.8M330.5 213.5H332.1M329.5 194.5V208.5M329.5 194.5H335.7M329.5 208.5H330.6M343.5 230.5V230.5M343.5 231.5V231.5M343.5 232.5V233.5M342.5 231.5V232.5M342.5 231.5H343.8M342.5 232.5H343.8M341.5 230.5V232.5M341.5 230.5H343.8M341.5 232.5H342.6M340.5 229.5V231.5M340.5 231.5H341.4M339.5 230.5V233.5M339.5 230.5H340.2M346.5 235.5V236.5M344.5 235.5V235.5M344.5 235.5H346.1M343.5 235.5V235.5M343.5 235.5H344.9M342.5 234.5V235.5M342.5 235.5H343.7M341.5 233.5V234.5M341.5 234.5H342.5M340.5 234.5V236.5M340.5 234.5H341.3M346.5 238.5V238.5M345.5 237.5V238.5M345.5 238.5H346.4M342.5 237.5V239.5M342.5 237.5H345.2M351.5 241.5V242.5M350.5 241.5V241.5M350.5 241.5H351.4M348.5 241.5V242.5M348.5 241.5H350.2M347.5 240.5V242.5M347.5 242.5H349.0M346.5 240.5V241.5M346.5 241.5H347.8M345.5 240.5V243.5M345.5 240.5H346.6M344.5 239.5V242.5M344.5 242.5H345.4M342.5 239.5V241.5M342.5 241.5H344.2M341.5 238.5V240.5M341.5 238.5H343.0M341.5 240.5H343.0M340.5 236.5V239.5M340.5 239.5H341.8M335.5 235.5V238.5M335.5 235.5H340.1M335.5 238.5H340.6M333.5 232.5V236.5M333.5 232.5H339.0M333.5 236.5H335.5M345.5 244.5V244.5M344.5 244.5V245.5M344.5 244.5H346.0M347.5 245.5V245.5M345.5 245.5V245.5M345.5 245.5H347.3M346.5 246.5V247.5M344.5 245.5V246.5M344.5 245.5H346.0M344.5 246.5H346.4M343.5 244.5V246.5M343.5 244.5H344.8M343.5 246.5H344.8M340.5 243.5V245.5M340.5 245.5H343.6M347.5 247.5V248.5M346.5 247.5V247.5M346.5 247.5H347.4M343.5 247.5V248.5M343.5 247.5H346.2M346.5 250.5V251.5M345.5 250.5V251.5M345.5 251.5H346.8M344.5 249.5V250.5M344.5 250.5H345.6M343.5 249.5V250.5M343.5 250.5H344.4M341.5 248.5V249.5M341.5 248.5H343.6M341.5 249.5H343.2M346.5 252.5V252.5M345.5 251.5V252.5M345.5 252.5H346.6M347.5 253.5V254.5M347.5 255.5V256.5M345.5 255.5V255.5M345.5 255.5H347.1M344.5 255.5V256.5M344.5 255.5H345.9M342.5 254.5V256.5M342.5 254.5H347.5M342.5 256.5H344.2M341.5 253.5V255.5M341.5 255.5H343.0M340.5 252.5V254.5M340.5 252.5H345.4M340.5 254.5H341.8M346.5 258.5V258.5M345.5 257.5V258.5M345.5 258.5H347.0M342.5 257.5V258.5M342.5 258.5H345.8M339.5 253.5V257.5M339.5 253.5H340.6M339.5 257.5H342.9M337.5 255.5V259.5M337.5 255.5H339.4M336.5 248.5V257.5M336.5 248.5H342.0M336.5 257.5H338.0M334.5 244.5V253.5M334.5 244.5H340.0M334.5 253.5H336.2M346.5 260.5V261.5M345.5 260.5V260.5M345.5 260.5H346.2M343.5 260.5V261.5M343.5 260.5H345.0M346.5 263.5V263.5M345.5 262.5V263.5M345.5 263.5H346.8M344.5 263.5V264.5M344.5 263.5H345.6M341.5 262.5V264.5M341.5 264.5H344.4M339.5 261.5V263.5M339.5 261.5H343.8M339.5 263.5H341.6M347.5 267.5V267.5M345.5 266.5V267.5M345.5 267.5H347.0M344.5 266.5V267.5M344.5 267.5H345.8M343.5 266.5V267.5M343.5 267.5H344.6M348.5 269.5V270.5M347.5 269.5V269.5M347.5 269.5H348.3M345.5 268.5V269.5M345.5 269.5H347.1M345.5 270.5V271.5M344.5 271.5V272.5M344.5 271.5H345.7M342.5 269.5V271.5M342.5 269.5H345.5M342.5 271.5H344.1M341.5 268.5V270.5M341.5 270.5H342.5M340.5 266.5V269.5M340.5 266.5H343.4M340.5 269.5H341.3M338.5 265.5V268.5M338.5 268.5H340.1M336.5 262.5V266.5M336.5 262.5H339.8M336.5 266.5H338.9M346.5 273.5V273.5M345.5 273.5V274.5M345.5 273.5H346.8M344.5 272.5V273.5M344.5 273.5H345.6M347.5 275.5V276.5M344.5 275.5V275.5M344.5 275.5H347.2M343.5 274.5V275.5M343.5 275.5H344.9M347.5 276.5V277.5M346.5 276.5V277.5M346.5 277.5H347.9M348.5 278.5V278.5M346.5 278.5V279.5M346.5 278.5H348.2M345.5 279.5V280.5M344.5 278.5V279.5M344.5 278.5H347.0M344.5 279.5H345.8M342.5 277.5V279.5M342.5 279.5H344.1M341.5 276.5V278.5M341.5 276.5H346.7M341.5 278.5H342.9M347.5 280.5V281.5M347.5 281.5V282.5M346.5 281.5V282.5M346.5 282.5H347.3M344.5 281.5V282.5M344.5 281.5H346.1M343.5 280.5V282.5M343.5 280.5H347.0M343.5 282.5H344.9M347.5 283.5V283.5M347.5 284.5V284.5M344.5 283.5V284.5M344.5 284.5H347.1M343.5 283.5V284.5M343.5 283.5H347.6M343.5 284.5H344.7M340.5 281.5V283.5M340.5 281.5H343.1M340.5 283.5H343.5M338.5 277.5V282.5M338.5 277.5H341.7M338.5 282.5H340.9M337.5 274.5V280.5M337.5 274.5H343.7M337.5 280.5H338.6M336.5 273.5V277.5M336.5 273.5H344.3M336.5 277.5H337.4M348.5 285.5V286.5M347.5 285.5V286.5M347.5 286.5H348.9M346.5 285.5V285.5M346.5 285.5H347.7M345.5 288.5V288.5M344.5 287.5V288.5M344.5 288.5H345.7M343.5 286.5V288.5M343.5 288.5H344.5M342.5 285.5V287.5M342.5 285.5H346.5M342.5 287.5H343.3M347.5 291.5V292.5M345.5 291.5V291.5M345.5 291.5H347.5M344.5 290.5V291.5M344.5 291.5H346.0M343.5 289.5V290.5M343.5 290.5H344.8M342.5 289.5V290.5M342.5 290.5H343.6M346.5 292.5V293.5M345.5 292.5V293.5M345.5 292.5H346.5M349.5 294.5V295.5M347.5 294.5V295.5M347.5 295.5H349.0M344.5 294.5V295.5M344.5 295.5H347.8M343.5 293.5V294.5M343.5 294.5H344.3M349.5 296.5V296.5M347.5 296.5V296.5M347.5 296.5H349.1M346.5 296.5V297.5M346.5 296.5H347.9M345.5 295.5V296.5M345.5 296.5H346.7M344.5 296.5V297.5M344.5 296.5H345.5M343.5 297.5V298.5M343.5 297.5H344.3M341.5 294.5V297.5M341.5 294.5H343.1M341.5 297.5H343.1M340.5 293.5V296.5M340.5 293.5H345.3M340.5 296.5H341.9M336.5 289.5V294.5M336.5 289.5H342.3M336.5 294.5H340.7M335.5 286.5V292.5M335.5 286.5H342.1M335.5 292.5H336.5M332.5 275.5V289.5M332.5 275.5H336.2M332.5 289.5H335.3M331.5 264.5V282.5M331.5 264.5H336.9M331.5 282.5H332.9M329.5 248.5V273.5M329.5 248.5H334.9M329.5 273.5H331.7M327.5 234.5V261.5M327.5 234.5H333.8M327.5 261.5H329.9M324.5 201.5V247.5M324.5 201.5H329.4M324.5 247.5H327.5M345.5 300.5V300.5M343.5 299.5V300.5M343.5 300.5H345.7M342.5 298.5V300.5M342.5 300.5H343.7M349.5 301.5V302.5M348.5 301.5V301.5M348.5 301.5H349.3M346.5 301.5V301.5M346.5 301.5H348.1M344.5 302.5V303.5M343.5 303.5V303.5M343.5 303.5H344.7M346.5 303.5V304.5M345.5 303.5V304.5M345.5 304.5H346.8M345.5 305.5V305.5M344.5 304.5V305.5M344.5 305.5H346.0M342.5 304.5V305.5M342.5 304.5H345.6M342.5 305.5H344.8M341.5 303.5V304.5M341.5 303.5H343.5M341.5 304.5H342.9M340.5 301.5V303.5M340.5 301.5H346.9M340.5 303.5H341.7M338.5 299.5V302.5M338.5 299.5H342.5M338.5 302.5H340.5M344.5 306.5V306.5M336.5 301.5V306.5M336.5 301.5H338.0M336.5 306.5H344.9M347.5 308.5V309.5M346.5 308.5V308.5M346.5 308.5H347.4M343.5 307.5V308.5M343.5 308.5H346.2M347.5 309.5V310.5M348.5 311.5V311.5M346.5 310.5V311.5M346.5 311.5H348.8M343.5 309.5V311.5M343.5 309.5H347.1M343.5 311.5H346.1M339.5 308.5V310.5M339.5 308.5H343.8M339.5 310.5H343.2M343.5 312.5V312.5M346.5 314.5V314.5M345.5 313.5V314.5M345.5 314.5H346.9M344.5 314.5V315.5M344.5 314.5H345.7M347.5 315.5V316.5M344.5 315.5V316.5M344.5 316.5H347.2M348.5 317.5V317.5M347.5 317.5V318.5M347.5 317.5H348.2M345.5 317.5V318.5M345.5 318.5H347.0M344.5 316.5V317.5M344.5 317.5H345.8M343.5 315.5V317.5M343.5 315.5H344.5M343.5 317.5H344.5M342.5 314.5V316.5M342.5 314.5H344.5M342.5 316.5H343.3M340.5 313.5V315.5M340.5 315.5H342.1M338.5 312.5V314.5M338.5 312.5H343.1M338.5 314.5H340.9M337.5 309.5V313.5M337.5 309.5H339.2M337.5 313.5H338.7M349.5 319.5V320.5M348.5 320.5V321.5M346.5 320.5V321.5M346.5 320.5H349.1M346.5 321.5H348.4M345.5 320.5V321.5M345.5 320.5H346.4M344.5 319.5V321.5M344.5 321.5H345.2M341.5 319.5V320.5M341.5 320.5H344.0M347.5 323.5V323.5M346.5 323.5V323.5M346.5 323.5H347.9M345.5 323.5V323.5M345.5 323.5H346.7M349.5 325.5V326.5M348.5 325.5V325.5M348.5 325.5H349.9M347.5 325.5V325.5M347.5 325.5H348.7M346.5 324.5V325.5M346.5 325.5H347.5M344.5 324.5V325.5M344.5 325.5H346.0M343.5 323.5V324.5M343.5 323.5H345.5M343.5 324.5H344.8M342.5 322.5V324.5M342.5 324.5H343.6M338.5 319.5V323.5M338.5 319.5H341.4M338.5 323.5H342.4M348.5 326.5V327.5M346.5 326.5V327.5M346.5 327.5H349.0M344.5 326.5V326.5M344.5 326.5H346.2M346.5 328.5V328.5M345.5 329.5V329.5M344.5 328.5V329.5M344.5 328.5H346.9M344.5 329.5H345.2M341.5 327.5V328.5M341.5 328.5H344.0M349.5 331.5V332.5M348.5 331.5V332.5M348.5 332.5H349.8M347.5 331.5V332.5M347.5 332.5H348.6M346.5 331.5V331.5M346.5 331.5H347.4M343.5 330.5V331.5M343.5 331.5H346.2M341.5 330.5V331.5M341.5 331.5H343.1M346.5 333.5V334.5M350.5 335.5V336.5M348.5 335.5V336.5M348.5 336.5H350.1M347.5 335.5V335.5M347.5 335.5H348.9M346.5 335.5V335.5M346.5 335.5H347.7M345.5 334.5V335.5M345.5 335.5H346.5M342.5 333.5V335.5M342.5 333.5H346.1M342.5 335.5H345.3M341.5 332.5V334.5M341.5 334.5H342.9M339.5 330.5V333.5M339.5 330.5H341.9M339.5 333.5H341.2M338.5 328.5V332.5M338.5 328.5H341.9M338.5 332.5H340.0M337.5 326.5V330.5M337.5 326.5H345.0M337.5 330.5H338.8M347.5 337.5V337.5M346.5 337.5V337.5M346.5 337.5H347.9M347.5 338.5V339.5M346.5 338.5V339.5M346.5 339.5H347.9M345.5 337.5V338.5M345.5 337.5H346.7M345.5 338.5H346.7M344.5 336.5V337.5M344.5 337.5H345.5M345.5 340.5V341.5M344.5 340.5V340.5M344.5 340.5H345.7M345.5 341.5V342.5M344.5 341.5V342.5M344.5 342.5H345.4M347.5 343.5V343.5M346.5 343.5V343.5M346.5 343.5H347.5M344.5 342.5V343.5M344.5 343.5H346.2M347.5 344.5V345.5M346.5 344.5V345.5M346.5 344.5H347.2M342.5 343.5V345.5M342.5 343.5H345.0M342.5 345.5H346.0M350.5 349.5V349.5M348.5 349.5V349.5M348.5 349.5H350.1M347.5 348.5V349.5M347.5 349.5H348.9M346.5 348.5V349.5M346.5 349.5H347.7M345.5 348.5V348.5M345.5 348.5H346.5M344.5 347.5V348.5M344.5 348.5H345.3M342.5 346.5V347.5M342.5 347.5H344.1M339.5 344.5V347.5M339.5 344.5H343.0M339.5 347.5H342.9M338.5 341.5V345.5M338.5 341.5H344.0M338.5 345.5H339.8M337.5 340.5V343.5M337.5 340.5H344.5M337.5 343.5H338.6M335.5 337.5V342.5M335.5 337.5H344.3M335.5 342.5H337.4M333.5 328.5V339.5M333.5 328.5H337.6M333.5 339.5H335.8M331.5 321.5V334.5M331.5 321.5H338.5M331.5 334.5H334.0M330.5 311.5V327.5M330.5 311.5H337.5M330.5 327.5H331.9M345.5 350.5V351.5M344.5 350.5V351.5M344.5 351.5H345.8M347.5 352.5V352.5M345.5 352.5V353.5M345.5 352.5H347.0M345.5 353.5V354.5M344.5 353.5V354.5M344.5 353.5H345.8M344.5 354.5H345.8M343.5 352.5V353.5M343.5 353.5H344.6M347.5 355.5V356.5M348.5 358.5V358.5M347.5 357.5V358.5M347.5 358.5H348.9M345.5 357.5V358.5M345.5 358.5H347.7M344.5 357.5V357.5M344.5 357.5H345.8M343.5 356.5V357.5M343.5 356.5H347.2M343.5 357.5H344.6M342.5 355.5V356.5M342.5 356.5H343.4M340.5 354.5V356.5M340.5 356.5H342.2M338.5 352.5V355.5M338.5 352.5H343.4M338.5 355.5H341.0M342.5 359.5V359.5M346.5 360.5V361.5M346.5 362.5V362.5M345.5 362.5V363.5M345.5 362.5H346.5M344.5 361.5V362.5M344.5 362.5H345.3M342.5 360.5V362.5M342.5 360.5H346.5M342.5 362.5H344.1M340.5 359.5V361.5M340.5 359.5H343.0M340.5 361.5H342.9M347.5 365.5V366.5M346.5 365.5V366.5M346.5 366.5H347.3M344.5 365.5V365.5M344.5 365.5H346.1M343.5 364.5V365.5M343.5 365.5H344.9M342.5 363.5V364.5M342.5 364.5H343.7M349.5 368.5V368.5M347.5 368.5V369.5M347.5 368.5H349.1M346.5 367.5V368.5M346.5 368.5H347.9M345.5 367.5V368.5M345.5 368.5H346.3M343.5 366.5V367.5M343.5 367.5H345.1M341.5 364.5V367.5M341.5 364.5H342.5M341.5 367.5H343.9M339.5 363.5V365.5M339.5 365.5H341.1M336.5 360.5V364.5M336.5 360.5H340.2M336.5 364.5H339.9M335.5 354.5V362.5M335.5 354.5H338.9M335.5 362.5H336.3M333.5 350.5V358.5M333.5 350.5H344.6M333.5 358.5H335.1M349.5 370.5V371.5M348.5 370.5V370.5M348.5 370.5H349.6M347.5 369.5V370.5M347.5 370.5H348.4M345.5 369.5V370.5M345.5 370.5H347.2M344.5 369.5V369.5M344.5 369.5H346.0M344.5 371.5V372.5M342.5 369.5V371.5M342.5 369.5H344.8M342.5 371.5H344.8M348.5 373.5V374.5M347.5 373.5V373.5M347.5 373.5H348.6M346.5 373.5V373.5M346.5 373.5H347.4M344.5 373.5V374.5M344.5 373.5H346.2M345.5 375.5V375.5M342.5 374.5V375.5M342.5 374.5H345.0M342.5 375.5H345.3M341.5 372.5V374.5M341.5 374.5H342.7M338.5 370.5V373.5M338.5 370.5H342.5M338.5 373.5H341.1M346.5 377.5V377.5M345.5 377.5V378.5M345.5 377.5H346.7M344.5 378.5V379.5M344.5 378.5H345.5M342.5 376.5V378.5M342.5 378.5H344.3M340.5 376.5V377.5M340.5 377.5H342.5M347.5 380.5V381.5M346.5 380.5V380.5M346.5 380.5H347.8M345.5 380.5V380.5M345.5 380.5H346.6M344.5 379.5V380.5M344.5 380.5H345.4M343.5 381.5V382.5M350.5 384.5V385.5M348.5 384.5V385.5M348.5 384.5H350.1M347.5 383.5V385.5M347.5 385.5H348.9M346.5 383.5V384.5M346.5 384.5H347.7M343.5 383.5V384.5M343.5 384.5H346.5M342.5 382.5V383.5M342.5 382.5H343.9M342.5 383.5H343.5M340.5 380.5V382.5M340.5 380.5H344.2M340.5 382.5H342.3M346.5 386.5V387.5M344.5 385.5V386.5M344.5 386.5H346.3M342.5 385.5V386.5M342.5 386.5H344.1M348.5 389.5V390.5M347.5 389.5V390.5M347.5 390.5H349.0M346.5 389.5V389.5M346.5 389.5H347.8M345.5 388.5V389.5M345.5 389.5H346.6M346.5 391.5V391.5M344.5 389.5V391.5M344.5 389.5H345.4M344.5 391.5H346.1M342.5 388.5V390.5M342.5 390.5H344.2M341.5 387.5V389.5M341.5 389.5H343.0M340.5 385.5V388.5M340.5 385.5H342.9M340.5 388.5H341.8M339.5 381.5V387.5M339.5 381.5H340.6M339.5 387.5H340.6M338.5 377.5V384.5M338.5 377.5H340.7M338.5 384.5H339.4M347.5 392.5V392.5M346.5 392.5V393.5M346.5 392.5H347.4M345.5 391.5V392.5M345.5 392.5H346.2M349.5 393.5V394.5M348.5 393.5V394.5M348.5 394.5H349.2M346.5 393.5V394.5M346.5 393.5H348.0M343.5 393.5V394.5M343.5 394.5H346.8M342.5 392.5V393.5M342.5 392.5H345.0M342.5 393.5H343.9M336.5 380.5V393.5M336.5 380.5H338.2M336.5 393.5H342.6M352.5 396.5V396.5M350.5 396.5V396.5M350.5 396.5H352.0M349.5 396.5V397.5M349.5 396.5H350.8M348.5 396.5V396.5M348.5 396.5H349.6M347.5 395.5V396.5M347.5 396.5H348.4M346.5 396.5V397.5M346.5 396.5H347.2M344.5 395.5V396.5M344.5 396.5H346.0M343.5 394.5V396.5M343.5 396.5H344.8M335.5 386.5V395.5M335.5 386.5H337.0M335.5 395.5H343.6M334.5 372.5V391.5M334.5 372.5H338.7M334.5 391.5H335.8M329.5 354.5V381.5M329.5 354.5H333.9M329.5 381.5H334.6M327.5 319.5V368.5M327.5 319.5H330.0M327.5 368.5H329.7M326.5 303.5V343.5M326.5 303.5H336.8M326.5 343.5H327.6M348.5 398.5V399.5M346.5 398.5V398.5M346.5 398.5H348.2M345.5 398.5V398.5M345.5 398.5H347.0M344.5 397.5V398.5M344.5 398.5H345.8M346.5 401.5V402.5M345.5 401.5V402.5M345.5 402.5H346.5M348.5 403.5V403.5M346.5 402.5V403.5M346.5 403.5H348.0M344.5 401.5V403.5M344.5 401.5H345.3M344.5 403.5H346.3M342.5 400.5V402.5M342.5 402.5H344.1M341.5 400.5V401.5M341.5 401.5H342.9M340.5 398.5V400.5M340.5 398.5H344.6M340.5 400.5H341.7M345.5 404.5V405.5M344.5 404.5V404.5M344.5 404.5H345.6M346.5 406.5V406.5M343.5 405.5V406.5M343.5 406.5H346.5M348.5 407.5V408.5M345.5 407.5V408.5M345.5 408.5H348.2M347.5 409.5V409.5M345.5 408.5V409.5M345.5 409.5H347.1M343.5 409.5V410.5M343.5 409.5H345.9M342.5 407.5V409.5M342.5 407.5H345.4M342.5 409.5H343.3M340.5 406.5V408.5M340.5 406.5H343.4M340.5 408.5H342.1M339.5 407.5V411.5M339.5 407.5H340.9M338.5 404.5V409.5M338.5 404.5H344.4M338.5 409.5H339.7M334.5 399.5V406.5M334.5 399.5H340.5M334.5 406.5H338.5M325.5 323.5V403.5M325.5 323.5H326.4M325.5 403.5H334.8M321.5 224.5V363.5M321.5 224.5H324.5M321.5 363.5H325.2M320.5 178.5V294.5M320.5 178.5H332.2M320.5 294.5H321.5M317.5 93.5V236.5M317.5 93.5H325.3M317.5 236.5H320.3" stroke="#1a1414" stroke-width="1" fill="none"/>
</svg></body></html>
